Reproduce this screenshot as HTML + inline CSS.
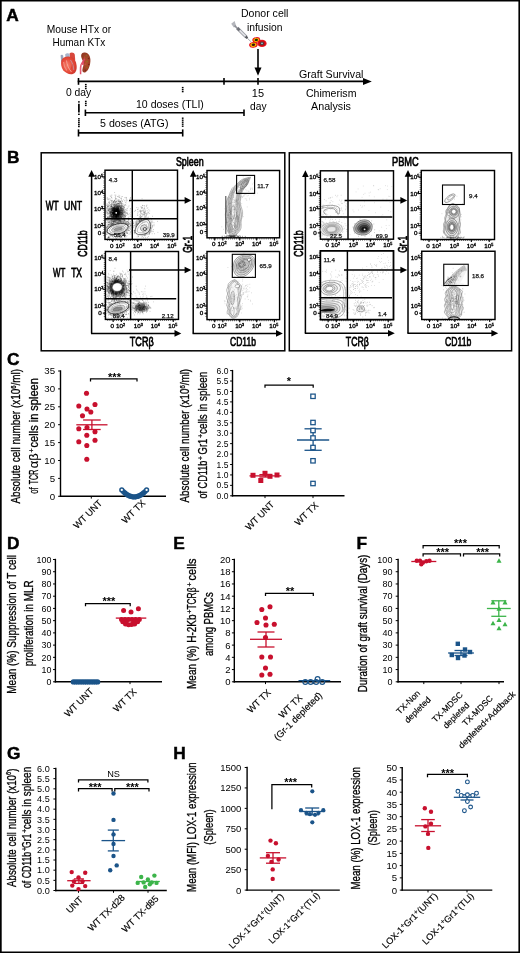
<!DOCTYPE html>
<html><head><meta charset="utf-8"><title>Figure</title>
<style>
html,body{margin:0;padding:0;background:#fff;}
body{width:520px;height:953px;overflow:hidden;font-family:"Liberation Sans",sans-serif;}
svg{display:block;will-change:transform;font-family:"Liberation Sans",sans-serif;}
</style></head><body>
<svg width="520" height="953" viewBox="0 0 520 953">
<rect x="0" y="0" width="520" height="953" fill="#fff"/>
<path d="M0 0H520V953H0Z M1.7 1.5V951.4H518.4V1.5Z" fill="#000" fill-rule="evenodd"/>
<text transform="translate(6.3,21.3) scale(1.0300,1)" font-size="16.8" text-anchor="start" font-weight="bold" stroke="#000" stroke-width="0.45">A</text>
<text transform="translate(6.9,162.9) scale(1.0300,1)" font-size="16.8" text-anchor="start" font-weight="bold" stroke="#000" stroke-width="0.45">B</text>
<text transform="translate(6.9,364.5) scale(1.0300,1)" font-size="16.8" text-anchor="start" font-weight="bold" stroke="#000" stroke-width="0.45">C</text>
<text transform="translate(7,548.8) scale(1.0300,1)" font-size="16.8" text-anchor="start" font-weight="bold" stroke="#000" stroke-width="0.45">D</text>
<text transform="translate(173.3,548.8) scale(1.0300,1)" font-size="16.8" text-anchor="start" font-weight="bold" stroke="#000" stroke-width="0.45">E</text>
<text transform="translate(356.4,548.8) scale(1.0300,1)" font-size="16.8" text-anchor="start" font-weight="bold" stroke="#000" stroke-width="0.45">F</text>
<text transform="translate(6.9,758.7) scale(1.0300,1)" font-size="16.8" text-anchor="start" font-weight="bold" stroke="#000" stroke-width="0.45">G</text>
<text transform="translate(173.3,758.7) scale(1.0300,1)" font-size="16.8" text-anchor="start" font-weight="bold" stroke="#000" stroke-width="0.45">H</text>
<text transform="translate(46.7,32.7) scale(0.9971,1)" font-size="10.3" text-anchor="start">Mouse HTx or</text>
<text transform="translate(52.5,46.2) scale(0.9726,1)" font-size="10.3" text-anchor="start">Human KTx</text>
<text transform="translate(241,17) scale(1.0248,1)" font-size="10.3" text-anchor="start">Donor cell</text>
<text transform="translate(246.9,31) scale(1.0015,1)" font-size="10.3" text-anchor="start">infusion</text>
<text transform="translate(299,77.5) scale(1.0332,1)" font-size="10.3" text-anchor="start">Graft Survival</text>
<text transform="translate(306,96.5) scale(1.0256,1)" font-size="10.3" text-anchor="start">Chimerism</text>
<text transform="translate(311,110) scale(1.0441,1)" font-size="10.3" text-anchor="start">Analysis</text>
<text transform="translate(251.8,96.5) scale(1.0673,1)" font-size="10.3" text-anchor="start">15</text>
<text transform="translate(250,110) scale(0.9951,1)" font-size="10.3" text-anchor="start">day</text>
<text transform="translate(65.9,96) scale(1.0021,1)" font-size="10.3" text-anchor="start">0 day</text>
<text transform="translate(136,107.5) scale(1.0234,1)" font-size="10.3" text-anchor="start">10 doses (TLI)</text>
<text transform="translate(100,127.2) scale(1.0348,1)" font-size="10.3" text-anchor="start">5 doses (ATG)</text>
<line x1="77.7" y1="81.4" x2="366" y2="81.4" stroke="#000" stroke-width="1.6"/>
<path d="M363.0 77.9L371.8 81.4L363.0 84.9Z" stroke="none" stroke-width="0" fill="#000"/>
<line x1="78.5" y1="78" x2="78.5" y2="84.8" stroke="#000" stroke-width="1.6"/>
<line x1="224" y1="78" x2="224" y2="84.8" stroke="#000" stroke-width="1.6"/>
<line x1="258" y1="78" x2="258" y2="84.8" stroke="#000" stroke-width="1.6"/>
<line x1="258" y1="49" x2="258" y2="70" stroke="#000" stroke-width="1.6"/>
<path d="M254.5 67.5L258 75.8L261.5 67.5Z" stroke="none" stroke-width="0" fill="#000"/>
<line x1="85.4" y1="112.8" x2="244" y2="112.8" stroke="#000" stroke-width="1.6"/>
<line x1="85.4" y1="109.6" x2="85.4" y2="116" stroke="#000" stroke-width="1.6"/>
<line x1="244" y1="109.6" x2="244" y2="116" stroke="#000" stroke-width="1.6"/>
<line x1="78.5" y1="132.9" x2="182.7" y2="132.9" stroke="#000" stroke-width="1.6"/>
<line x1="78.5" y1="129.4" x2="78.5" y2="136.5" stroke="#000" stroke-width="1.6"/>
<line x1="182.7" y1="129.4" x2="182.7" y2="136.5" stroke="#000" stroke-width="1.6"/>
<rect x="84.95" y="83.9" width="1.7" height="1.4" stroke="none" stroke-width="0" fill="#000"/>
<rect x="84.95" y="85.9" width="1.7" height="1.4" stroke="none" stroke-width="0" fill="#000"/>
<rect x="84.95" y="87.9" width="1.7" height="1.4" stroke="none" stroke-width="0" fill="#000"/>
<rect x="84.95" y="100.7" width="1.7" height="1.4" stroke="none" stroke-width="0" fill="#000"/>
<rect x="84.95" y="102.7" width="1.7" height="1.4" stroke="none" stroke-width="0" fill="#000"/>
<rect x="84.95" y="104.7" width="1.7" height="1.4" stroke="none" stroke-width="0" fill="#000"/>
<rect x="78.05" y="101.2" width="1.7" height="1.4" stroke="none" stroke-width="0" fill="#000"/>
<rect x="78.05" y="113.6" width="1.7" height="1.4" stroke="none" stroke-width="0" fill="#000"/>
<rect x="78.05" y="118.1" width="1.7" height="1.4" stroke="none" stroke-width="0" fill="#000"/>
<rect x="78.05" y="120.1" width="1.7" height="1.4" stroke="none" stroke-width="0" fill="#000"/>
<rect x="78.05" y="122" width="1.7" height="1.4" stroke="none" stroke-width="0" fill="#000"/>
<rect x="78.05" y="123.9" width="1.7" height="1.4" stroke="none" stroke-width="0" fill="#000"/>
<rect x="78.05" y="125.8" width="1.7" height="1.4" stroke="none" stroke-width="0" fill="#000"/>
<line x1="78.9" y1="103.8" x2="78.9" y2="112.4" stroke="#000" stroke-width="1.7"/>
<rect x="181.85" y="86.9" width="1.7" height="1.4" stroke="none" stroke-width="0" fill="#000"/>
<rect x="181.85" y="88.9" width="1.7" height="1.4" stroke="none" stroke-width="0" fill="#000"/>
<rect x="181.85" y="90.9" width="1.7" height="1.4" stroke="none" stroke-width="0" fill="#000"/>
<rect x="181.85" y="117.5" width="1.7" height="1.4" stroke="none" stroke-width="0" fill="#000"/>
<rect x="181.85" y="119.5" width="1.7" height="1.4" stroke="none" stroke-width="0" fill="#000"/>
<rect x="181.85" y="121.5" width="1.7" height="1.4" stroke="none" stroke-width="0" fill="#000"/>
<rect x="181.85" y="123.5" width="1.7" height="1.4" stroke="none" stroke-width="0" fill="#000"/>
<rect x="181.85" y="125.5" width="1.7" height="1.4" stroke="none" stroke-width="0" fill="#000"/>
<defs><radialGradient id="gh" cx="0.42" cy="0.5" r="0.65"><stop offset="0" stop-color="#f47c68"/><stop offset="0.6" stop-color="#e54a3a"/><stop offset="1" stop-color="#c8322a"/></radialGradient><radialGradient id="gk" cx="0.55" cy="0.5" r="0.65"><stop offset="0" stop-color="#b4502f"/><stop offset="1" stop-color="#8c3420"/></radialGradient><radialGradient id="gc" cx="0.5" cy="0.5" r="0.5"><stop offset="0" stop-color="#ffb020"/><stop offset="0.55" stop-color="#f26522"/><stop offset="1" stop-color="#e02020"/></radialGradient><filter id="b03" x="-20%" y="-20%" width="140%" height="140%"><feGaussianBlur stdDeviation="0.3"/></filter><filter id="b05" x="-20%" y="-20%" width="140%" height="140%"><feGaussianBlur stdDeviation="0.5"/></filter><filter id="b08" x="-30%" y="-30%" width="160%" height="160%"><feGaussianBlur stdDeviation="0.8"/></filter><filter id="b12" x="-30%" y="-30%" width="160%" height="160%"><feGaussianBlur stdDeviation="1.2"/></filter></defs>
<g filter="url(#b05)">
<path d="M60.6 55.5C61.2 54.2 62.8 54.4 63.2 55.8L63.6 61.5L61.2 62Z" stroke="none" stroke-width="0" fill="#9aa3bd"/>
<path d="M69.5 53.6C71 51.6 74.2 52.2 74.8 54.8L75.2 60L70 59.5Z" stroke="none" stroke-width="0" fill="#d8473c"/>
<path d="M65.2 54.2C66.6 52.6 69.4 53 69.8 55L69.2 61L65.6 61.5Z" stroke="none" stroke-width="0" fill="#a9b4cc"/>
<path d="M61.4 60.5C60.6 63.5 61.2 67.5 63.2 70.3C65.4 73.2 69.6 74.8 72.8 74.0C75.8 73.2 77 69.5 76.6 65.5C76.2 61.8 74.8 58.4 71.8 57.2C68.2 55.8 62.6 56.6 61.4 60.5Z" stroke="none" stroke-width="0" fill="url(#gh)"/>
<path d="M66.5 60.5C67 64.5 68.4 68.5 71.5 72" stroke="#f7b0a2" stroke-width="0.8" fill="none"/>
<path d="M63.6 62C63.8 65 64.8 68 66.8 70.5" stroke="#f28d7c" stroke-width="1.2" fill="none"/>
<path d="M70.5 60C72.2 62.5 73.6 66 73.8 70" stroke="#b0b6d0" stroke-width="0.6" fill="none"/>
<path d="M72.5 64.5L71 69.5" stroke="#c03a34" stroke-width="0.5" fill="none"/>
</g>
<g filter="url(#b05)">
<path d="M83.2 52.8C86.8 51.2 90.2 54.6 90.4 59.6C90.6 64.6 88.8 70.6 85.6 72.2C83.6 73.2 82 71.6 82.4 69.4C82.8 67 84 65 83.4 62.6C82.8 60 80.6 57.4 81.2 55C81.5 53.8 82.2 53.2 83.2 52.8Z" stroke="none" stroke-width="0" fill="url(#gk)"/>
<circle cx="86.5" cy="55.5" r="0.8" fill="#8a6a22"/>
<circle cx="88.6" cy="58.5" r="0.8" fill="#7a2a18"/>
<circle cx="87.2" cy="61.5" r="0.8" fill="#8f7326"/>
<circle cx="88.8" cy="64.5" r="0.8" fill="#7a2a18"/>
<circle cx="86.8" cy="67.5" r="0.8" fill="#8a6a22"/>
<circle cx="85.4" cy="70.2" r="0.8" fill="#7a2a18"/>
<circle cx="84.6" cy="57.2" r="0.8" fill="#b8502f"/>
<circle cx="85.2" cy="64.2" r="0.8" fill="#c0583a"/>
<path d="M84.6 58.5C83.2 61 82.6 63 82.9 65" stroke="#d9455c" stroke-width="1.6" fill="none"/>
<path d="M83.2 61.5C81.2 63.5 80.4 66.5 80.5 69.5L80.6 74.2" stroke="#e2506a" stroke-width="1.5" fill="none"/>
<path d="M82.0 64C81 66 80.9 69 81.2 72" stroke="#f5a0b0" stroke-width="0.6" fill="none"/>
</g>
<g filter="url(#b03)">
<path d="M231.2 23.8L234.6 21.0L236.4 26.6L233.8 27.6Z" stroke="none" stroke-width="0" fill="#b4b6bc"/>
<path d="M234.6 25.6L238.2 29.2" stroke="#8e9097" stroke-width="1.6" fill="none"/>
<path d="M237.2 28.0L246.4 37.2" stroke="#9b9da4" stroke-width="3.2" fill="none"/>
<path d="M237.6 28.4L246.0 36.8" stroke="#e4e5e9" stroke-width="1.5" fill="none"/>
<path d="M237.4 28.2L239.6 30.4" stroke="#6d6f76" stroke-width="2.6" fill="none"/>
<path d="M245.6 36.4L247.4 38.2" stroke="#55575d" stroke-width="2.2" fill="none"/>
<path d="M247.0 37.8L251.0 41.8" stroke="#7d7f86" stroke-width="0.7" fill="none"/>
</g>
<g filter="url(#b03)">
<ellipse cx="256.3" cy="39.9" rx="4" ry="2.8" transform="rotate(-8 256.3 39.9)" fill="#e8141c" stroke="none" stroke-width="0" opacity="1"/>
<ellipse cx="256.3" cy="39.9" rx="2.88" ry="1.96" transform="rotate(-8 256.3 39.9)" fill="#f5c400" stroke="none" stroke-width="0" opacity="1"/>
<ellipse cx="256.3" cy="39.9" rx="1.68" ry="1.18" transform="rotate(-8 256.3 39.9)" fill="#2a2408" stroke="none" stroke-width="0" opacity="1"/>
<ellipse cx="262" cy="43.4" rx="4.6" ry="3.7" transform="rotate(0 262 43.4)" fill="#e8141c" stroke="none" stroke-width="0" opacity="1"/>
<ellipse cx="262" cy="43.4" rx="3.31" ry="2.59" transform="rotate(0 262 43.4)" fill="#c40f18" stroke="none" stroke-width="0" opacity="1"/>
<ellipse cx="262" cy="43.4" rx="1.93" ry="1.55" transform="rotate(0 262 43.4)" fill="#3a3f44" stroke="none" stroke-width="0" opacity="1"/>
<ellipse cx="262" cy="43.4" rx="1" ry="0.8" transform="rotate(0 262 43.4)" fill="#9fb4bd" stroke="none" stroke-width="0" opacity="1"/>
<ellipse cx="253.4" cy="44.8" rx="4.3" ry="2.9" transform="rotate(-10 253.4 44.8)" fill="#e8141c" stroke="none" stroke-width="0" opacity="1"/>
<ellipse cx="253.4" cy="44.8" rx="3.1" ry="2.03" transform="rotate(-10 253.4 44.8)" fill="#f5c400" stroke="none" stroke-width="0" opacity="1"/>
<ellipse cx="253.4" cy="44.8" rx="1.81" ry="1.22" transform="rotate(-10 253.4 44.8)" fill="#3a1408" stroke="none" stroke-width="0" opacity="1"/>
</g>
<rect x="41.2" y="152.8" width="243.6" height="198" stroke="#000" stroke-width="1.5" fill="none"/>
<rect x="289.3" y="152.8" width="222.3" height="198" stroke="#000" stroke-width="1.5" fill="none"/>
<text transform="translate(175.9,165.9) scale(0.6531,1)" font-size="13.7" text-anchor="start" stroke="#000" stroke-width="0.75">Spleen</text>
<text transform="translate(392,165.6) scale(0.6767,1)" font-size="13.7" text-anchor="start" stroke="#000" stroke-width="0.75">PBMC</text>
<text transform="translate(45.8,209.5) scale(0.6057,1)" font-size="13.7" text-anchor="start" stroke="#000" stroke-width="0.75">WT</text>
<text transform="translate(64.1,209.5) scale(0.6395,1)" font-size="13.7" text-anchor="start" stroke="#000" stroke-width="0.75">UNT</text>
<text transform="translate(53,276.9) scale(0.5775,1)" font-size="13.7" text-anchor="start" stroke="#000" stroke-width="0.75">WT</text>
<text transform="translate(71.2,276.9) scale(0.6150,1)" font-size="13.7" text-anchor="start" stroke="#000" stroke-width="0.75">TX</text>
<text transform="translate(87.1,256.7) rotate(-90) scale(0.6298,1)" font-size="13.7" text-anchor="start" stroke="#000" stroke-width="0.75">CD11b</text>
<text transform="translate(191.5,252.7) rotate(-90) scale(0.6131,1)" font-size="13.7" text-anchor="start" stroke="#000" stroke-width="0.75">Gr-1</text>
<text transform="translate(129.8,345.9) scale(0.6668,1)" font-size="13.7" text-anchor="start" stroke="#000" stroke-width="0.75">TCRβ</text>
<text transform="translate(230,346.2) scale(0.6226,1)" font-size="13.7" text-anchor="start" stroke="#000" stroke-width="0.75">CD11b</text>
<text transform="translate(302.8,256.7) rotate(-90) scale(0.6298,1)" font-size="13.7" text-anchor="start" stroke="#000" stroke-width="0.75">CD11b</text>
<text transform="translate(406.5,252.7) rotate(-90) scale(0.6131,1)" font-size="13.7" text-anchor="start" stroke="#000" stroke-width="0.75">Gr-1</text>
<text transform="translate(345.8,346.2) scale(0.6418,1)" font-size="13.7" text-anchor="start" stroke="#000" stroke-width="0.75">TCRβ</text>
<text transform="translate(445,345.8) scale(0.6322,1)" font-size="13.7" text-anchor="start" stroke="#000" stroke-width="0.75">CD11b</text>
<line x1="91.6" y1="333.4" x2="91.6" y2="175.8" stroke="#000" stroke-width="1.5"/>
<path d="M88.3 176.8L91.6 170L94.9 176.8Z" stroke="none" stroke-width="0" fill="#000"/>
<line x1="91" y1="333.4" x2="175.5" y2="333.4" stroke="#000" stroke-width="1.5"/>
<path d="M174.5 330.1L181.3 333.4L174.5 336.7Z" stroke="none" stroke-width="0" fill="#000"/>
<line x1="193.2" y1="333.4" x2="193.2" y2="175.8" stroke="#000" stroke-width="1.5"/>
<path d="M189.9 176.8L193.2 170L196.5 176.8Z" stroke="none" stroke-width="0" fill="#000"/>
<line x1="192.6" y1="333.4" x2="277" y2="333.4" stroke="#000" stroke-width="1.5"/>
<path d="M276 330.1L282.8 333.4L276 336.7Z" stroke="none" stroke-width="0" fill="#000"/>
<line x1="305.4" y1="333.2" x2="305.4" y2="176" stroke="#000" stroke-width="1.5"/>
<path d="M302.1 177L305.4 170.2L308.7 177Z" stroke="none" stroke-width="0" fill="#000"/>
<line x1="304.8" y1="333.2" x2="389" y2="333.2" stroke="#000" stroke-width="1.5"/>
<path d="M388 329.9L394.8 333.2L388 336.5Z" stroke="none" stroke-width="0" fill="#000"/>
<line x1="408" y1="333.2" x2="408" y2="175.8" stroke="#000" stroke-width="1.5"/>
<path d="M404.7 176.8L408 170L411.3 176.8Z" stroke="none" stroke-width="0" fill="#000"/>
<line x1="407.4" y1="333.2" x2="492.4" y2="333.2" stroke="#000" stroke-width="1.5"/>
<path d="M491.4 329.9L498.2 333.2L491.4 336.5Z" stroke="none" stroke-width="0" fill="#000"/>
<rect x="105" y="170.2" width="72.5" height="69.2" stroke="#000" stroke-width="1.45" fill="#fff"/>
<ellipse cx="116.4" cy="213" rx="7" ry="8" transform="rotate(0 116.4 213)" fill="#6a6a6a" stroke="none" stroke-width="0" opacity="0.5" filter="url(#b12)"/>
<path d="M115.22 215.47h.01M115.36 210.67h.01M112.12 211.26h.01M121.51 214.96h.01M121.17 213.94h.01M118.22 213.57h.01M108.74 217.46h.01M118.73 215.39h.01M108.62 202.39h.01M112.31 209.78h.01M117.81 212.23h.01M118.8 208.78h.01M117.82 214.79h.01M113.36 222.46h.01M118.96 219.44h.01M113.55 208.21h.01M114.82 211.88h.01M119.31 213.94h.01M114.34 206.95h.01M114.01 219.58h.01M112.68 213.92h.01M118.36 203.86h.01M116.62 220.08h.01M107.13 210.63h.01M115.91 207.76h.01M118.69 212.14h.01M109.66 217.3h.01M119.48 217.99h.01M123.03 214.6h.01M116.95 204.96h.01M119.23 208.95h.01M114.32 205.16h.01M111.95 209.42h.01M122.33 200.72h.01M109.69 213.89h.01M123.04 215.86h.01M107.66 197.89h.01M118.04 208.23h.01M111.25 218.17h.01M121.47 213.41h.01M117.53 215.02h.01M123.73 216.09h.01M118.79 215.68h.01M109.19 219.93h.01M120.79 215.57h.01M107.32 208.82h.01M120.27 201.99h.01M115.55 218.41h.01M110.37 221.84h.01M118.94 211.63h.01M117.89 216.27h.01M116.95 219.14h.01M113.36 210.09h.01M121.19 212.66h.01M112.35 217.99h.01M123.14 209.92h.01M110.05 211.72h.01M115.71 210.77h.01M122.86 206.54h.01M122.2 205.14h.01M112.78 216.16h.01M121.59 217.48h.01M117.99 213.33h.01M117.1 215.84h.01M115.59 214.11h.01M119.03 212.5h.01M119.91 215.78h.01M125.65 214.38h.01M114.43 210.34h.01M116.34 217.86h.01M114.85 214.74h.01M124.85 197.62h.01M111.23 213.91h.01M118.23 213.88h.01M114.42 216.3h.01M117.7 209.47h.01M127.58 214.56h.01M113.85 211.92h.01M115.36 212.14h.01M121.04 205.72h.01M116.09 218.03h.01M120.34 221.15h.01M108.57 210.45h.01M114.83 216.12h.01M121.42 196.94h.01M121.41 204.1h.01M119.54 203.85h.01M117.21 219.43h.01M115.71 213.61h.01M120.07 213.32h.01M115.99 221.39h.01M121.22 210.8h.01M129.03 205.85h.01M120.61 210.96h.01M117.01 216.59h.01M117.42 216.2h.01M109.37 203.74h.01M119.23 206.91h.01M111.68 203.97h.01M122.23 216.83h.01M123.18 207.06h.01M116.4 205.89h.01M119.92 221.72h.01M112.3 221.55h.01M120.94 211.47h.01M107.33 220.66h.01M115.96 209h.01M118.24 214.88h.01M123.29 206.58h.01M121.63 221.13h.01M123.08 211.45h.01M112.98 218.41h.01M116.93 213.22h.01M122.95 210.97h.01M105.84 210.25h.01M107.87 217.25h.01M117.86 208.95h.01M116.36 217.33h.01M116.76 220.19h.01M116.12 218.53h.01M123.26 221.84h.01M113.31 217.6h.01M107.77 206.22h.01M107.37 218.7h.01M110.73 212.43h.01M115.52 212.33h.01M113.68 213.86h.01M124.64 212.76h.01M118.84 218.3h.01M115.49 205.19h.01M113.85 218.73h.01M108.83 209.03h.01M121.03 217.1h.01M116.44 217.17h.01M117.16 205.66h.01M109.21 208.79h.01M120.64 209.22h.01M112.25 208.03h.01M109.35 211.82h.01M110.97 214.61h.01M113.45 201.24h.01M119.73 210.9h.01M106.14 207.42h.01M117.74 209.84h.01M119.99 216.84h.01M119.46 214.39h.01M122.54 216.33h.01M118.48 200.41h.01M120.52 220.09h.01M115.03 209.78h.01M125.33 202.3h.01M118.56 226.56h.01M112.13 216.5h.01M125.08 211.8h.01M118.98 217.73h.01M112.23 211.98h.01M117.75 217.29h.01M116.24 211.37h.01M111.73 210.42h.01M120.5 213.09h.01M112.48 207.62h.01M128.67 219.11h.01M119.33 197.46h.01M119.26 215.29h.01M124.15 214.98h.01M116.09 215.53h.01M107.46 218.49h.01M117.89 208.43h.01M122.5 222.99h.01M109.95 208.64h.01M117.74 213.56h.01M114.57 206.85h.01M126.15 218.52h.01M110.91 204.7h.01M124.23 218.24h.01M124.78 217.2h.01M112.39 214.01h.01M106.46 208.16h.01M116.13 215.53h.01M113.05 211.78h.01M118.51 214.68h.01M119.33 213.71h.01M114.91 217.08h.01M116.63 207.71h.01M113.52 212.5h.01M115.9 213.41h.01M116.4 213.52h.01M115.78 205.2h.01M118.34 218.61h.01M118.4 211.4h.01M118.45 206.9h.01M107.68 212.85h.01M112.12 216.79h.01M111.41 197.25h.01M111.62 221.65h.01M114.64 204.56h.01M112.89 215.52h.01M118.69 213.53h.01M123.23 216.6h.01M116.3 215.96h.01M124.01 218.13h.01M121.11 206.22h.01M115.72 216.73h.01M115.04 218.7h.01M119.14 217.77h.01M115.42 227.27h.01M122.1 211.25h.01M116.82 227.55h.01M114.82 217.57h.01M120.91 212.54h.01M111.03 213.59h.01M118.05 219.05h.01M120 212.64h.01M120.33 215.63h.01M117.35 212.82h.01M115.28 216.48h.01M111.55 208.85h.01M116.42 204.01h.01M114.39 200.85h.01M113.26 215.8h.01M119.01 212.18h.01M115.33 204.28h.01M124.81 215.49h.01M121.43 207.38h.01M115.55 201.95h.01M119.99 217.92h.01M107.67 212.2h.01M119.3 202.28h.01M108 206.32h.01M113.51 204.36h.01M116.55 213.95h.01M119.32 216.57h.01M123.31 219.25h.01M110.37 209.57h.01M111.52 206.26h.01M116.03 212.53h.01M118.66 203.3h.01M110.71 212.37h.01M115.48 210.69h.01M116.11 208.09h.01M119.63 214.55h.01M116 208.6h.01M115.6 196.71h.01M111.89 212.72h.01M109.48 213.66h.01M117.08 204.51h.01M115.25 210.68h.01M118.52 216.05h.01M116.23 207.56h.01M115.74 212.12h.01M119.78 214.21h.01M113.08 204.64h.01M114.68 208.21h.01M111.29 211.83h.01M114.14 213.11h.01M118.81 210.1h.01M127.09 210.64h.01M121.47 213.21h.01M121.53 198.72h.01M112.94 213.93h.01M119.17 226.05h.01M117.88 219.92h.01M119.93 217.99h.01M118.75 211.59h.01M118.74 206.25h.01M121.83 206.6h.01M117.55 224.8h.01M115.37 212.61h.01M121.75 212.65h.01M112.68 214h.01M119.08 216.62h.01M112.85 222.66h.01M124.07 212.61h.01M117.64 210.01h.01M122.9 208.41h.01M119.5 209.72h.01M113.21 216.67h.01M122.54 212.44h.01M113.28 217.21h.01M116.17 214.3h.01M123.41 219.06h.01M114.01 225.74h.01M116.42 217.06h.01M113.42 212.24h.01M108.35 222.86h.01M122.68 205.45h.01M109.48 203.1h.01M121.81 209.83h.01M116.12 210.69h.01M115.84 206.19h.01M116.51 204.16h.01M116.07 214.29h.01M118.55 211.16h.01M112.24 213.43h.01M114.17 221.58h.01M119.93 211.83h.01M114.23 208.42h.01M112.09 210.45h.01M117.76 215.49h.01M119.02 224.67h.01M113.16 212.58h.01M129.26 201.67h.01M114 213.48h.01M117.11 214.87h.01M115.3 214.62h.01M116.64 216.97h.01M107.69 207.37h.01M116.39 206.52h.01M111.59 216.14h.01M113.41 216.18h.01M119.83 214.28h.01M118.74 211.89h.01M109.92 212.33h.01M118.49 209.43h.01M115.94 216.85h.01M112.36 216.21h.01M124.97 209.28h.01M117.07 211.63h.01M123.49 214.33h.01M120.53 208.5h.01M116.33 212.44h.01M108.23 220.86h.01M120.54 202.35h.01M119.82 211.74h.01M118.46 214.63h.01M109.5 211.27h.01M123.27 209.17h.01M111.69 204.61h.01M110.78 214.45h.01M124.19 214.99h.01M117.53 225.46h.01M114.01 208.59h.01M118.83 215.68h.01M111.73 205.71h.01M117.74 213.93h.01M110.39 211.33h.01M113.9 215.17h.01M115.86 212h.01M114.77 218.61h.01M122.8 210.37h.01M120.29 208.11h.01M116.73 216.85h.01M123.37 210.28h.01M116.06 213.64h.01M109.51 212.59h.01M113.29 214.65h.01M111.2 201.03h.01M116.58 214.01h.01M113.87 217.66h.01M115.14 208.99h.01M118.6 203.4h.01M113.28 212.38h.01M120.3 211.56h.01M117.82 208.7h.01M117.79 222.15h.01M113.24 226.22h.01M113.44 212.6h.01M117.2 218.44h.01M110.71 200.32h.01M119.19 217.11h.01M119.27 227.76h.01M117.34 213.97h.01M120.67 214.64h.01M124.05 205.32h.01M114.67 192.52h.01M120.14 210.34h.01M120.65 224.99h.01M116.37 211.02h.01M114.1 207.64h.01M113.5 216.21h.01M116.57 212.88h.01M115.6 217.8h.01M118.67 211.68h.01M119.46 211.62h.01M111.1 220.94h.01M118.54 206.95h.01M121.36 214.5h.01M109.2 221.84h.01M117.93 217.67h.01M117.31 211.63h.01M109.28 218.14h.01M116.54 210.84h.01M118.01 212.95h.01M119.51 210.35h.01M116.23 200.09h.01M114.45 216.42h.01M122.55 210.39h.01M115.84 221.68h.01M114.9 216.76h.01M124.12 212.73h.01M122.04 208.38h.01M117.36 212.05h.01M116.93 219.05h.01M127.39 208.64h.01M113.75 215.38h.01M111.55 215.38h.01M119.03 210.89h.01M118.84 203.51h.01M119.9 203.54h.01M113.2 209.27h.01M114.55 217.48h.01M116.78 210.19h.01M118.9 221.67h.01M116.43 214.62h.01M122.1 214.05h.01M110.49 226.94h.01M126.56 200.99h.01M116.22 214.92h.01M120.84 216.38h.01M115.15 206.39h.01M116.87 218.49h.01M111.39 206.54h.01M116.29 201.26h.01M115.2 209.97h.01M118.47 208.43h.01M112.34 210.21h.01M116.17 208.64h.01M116.46 216.85h.01M121.85 222.39h.01M112.8 210.07h.01M113.07 212.31h.01M118.8 204.62h.01M118.53 212.35h.01M108 214.19h.01M121.89 201.67h.01M120.11 213.71h.01M118.58 215.06h.01M122.4 211.2h.01M120.42 210.12h.01M119.75 207.78h.01M115.9 222.54h.01M118.45 211.58h.01M111.13 207.92h.01M117.29 217.95h.01M118.36 215.54h.01M116.21 220.34h.01M114.6 209.31h.01M120.49 212.87h.01M115.12 209.16h.01M115.22 216.12h.01M118.03 205.48h.01M118.36 213.54h.01M111.8 216.98h.01M115.11 210.55h.01M120.06 220.16h.01M113.23 215.04h.01M112.37 225.92h.01M114.13 219.43h.01M113.42 217.21h.01M126.61 197.76h.01M114.4 215.4h.01M115.97 208.62h.01M126.3 212.96h.01M108.84 217.45h.01M108.48 219.17h.01M113.74 213.34h.01M122.2 213.18h.01M110 202.66h.01M121.84 216.79h.01M112.65 217.49h.01M118.68 216.26h.01M106.01 210.75h.01M120.54 216.75h.01M120.45 198.25h.01M117.18 215.35h.01M128.14 206.97h.01M114.89 212.71h.01M120.48 209.93h.01M121.68 207.93h.01M117.63 209.44h.01M117.13 208.49h.01M109.05 218.84h.01M117.8 209.26h.01M117.32 218.24h.01M111.9 211.86h.01M118.88 215.55h.01M114.86 200.28h.01M122.12 214.4h.01M116.46 210.88h.01M117.61 210.03h.01M111.69 208.21h.01M113.65 208.95h.01M111.07 216.19h.01M110.37 216.33h.01M111.73 214.54h.01M122.72 213.68h.01M113.04 212.78h.01M117.08 202.44h.01M113.6 213.45h.01M114.24 212.96h.01M119.78 216.95h.01M120.57 215.91h.01M115.08 212.39h.01M115.15 210.68h.01M115.57 202.5h.01M114.87 212.36h.01M111.92 212.36h.01M118.77 211.55h.01M125.95 197.38h.01M115.45 201.91h.01M120.91 227.89h.01M118.79 210.75h.01M118.94 199.49h.01M120.32 214.66h.01M116.51 209.09h.01M119.34 209.68h.01M117.43 209.54h.01M106.06 212.32h.01M117.33 216.88h.01M112.37 212.31h.01M119.24 213.34h.01M122.12 224.05h.01M112.22 201.36h.01M120.34 221.37h.01M120.64 217.22h.01M113.55 208.36h.01M120.49 207.21h.01M108.06 206.71h.01M127.86 223.66h.01M113.24 208.27h.01M117.46 208.15h.01M122.43 212.05h.01M111.4 220.09h.01M113.72 213.78h.01M116.34 210.68h.01M117.89 208.48h.01M107.92 199.69h.01M110.57 208.1h.01M116.29 212.82h.01M118.96 213.2h.01M112.75 208.39h.01M106.65 211.52h.01M118.63 215.57h.01M115.84 211.49h.01M120.71 212.59h.01M119.79 215.88h.01M117.38 220.08h.01M113.77 210.42h.01M112.68 207.88h.01M123.56 222.7h.01M116.51 215.8h.01M121.81 217.18h.01M121.94 205.17h.01M113.46 215.13h.01M123 213.1h.01M112.45 210.44h.01M113.36 207.52h.01M123.31 208.87h.01M116.49 225.04h.01M121.85 214.45h.01M113.59 214.88h.01M123.86 216.11h.01M122.2 213.07h.01M118.77 211.33h.01M118.36 220.04h.01M109.82 212.14h.01M117.51 209.19h.01M114.98 217.06h.01M125.61 216.15h.01M117.9 203.5h.01M125.27 212.95h.01M116.24 206.01h.01M116.14 206.14h.01M116.73 215.2h.01M116.54 214.12h.01M112.48 220.79h.01M113.4 201.95h.01M115.54 208.07h.01M111.76 210.44h.01M117.74 205.65h.01M115.77 220.78h.01M119.54 211.62h.01M116.99 211.8h.01M116.18 216.75h.01M115.97 198.55h.01M116.3 207.34h.01M119.4 208.96h.01M117.08 225.13h.01M111.58 205.98h.01M109.91 198.61h.01M107.76 214.61h.01M113.46 201.66h.01M109.58 216.08h.01M112.83 210.37h.01M117.92 220.37h.01M125.33 218.49h.01M117.06 213.57h.01M124.69 220.79h.01M114.97 215.15h.01M117.72 212.8h.01M114.1 204.81h.01M113.94 203.54h.01M122.03 215.61h.01M110.85 220.6h.01M120.5 201.43h.01M124.87 217.2h.01M125.9 205.36h.01M118.84 214.95h.01M117.33 213.49h.01M121.25 203.83h.01M110.69 204.41h.01M113.83 208.99h.01M118.09 214.05h.01M116.54 208.58h.01M114.37 218.02h.01M119.91 213.09h.01M114.92 221.51h.01M113.67 216.26h.01M121.71 210.96h.01M120.2 206.03h.01M121.06 213.66h.01M109.1 216.38h.01M112.3 219.93h.01M113.28 211.54h.01M117.7 210.57h.01M117.59 209.29h.01M119.49 212.53h.01M117.37 196.54h.01M121.74 212.68h.01M108.2 213.05h.01M118.55 218.71h.01M111.42 221.47h.01M115.67 226.39h.01M115.73 216.44h.01M114.71 206.03h.01M121.44 217.76h.01M123.48 217.47h.01M113.76 202.86h.01M113.41 208.58h.01M112.65 215.88h.01M117.91 210.94h.01M117.19 211.66h.01M117.38 216.86h.01M120.81 208.52h.01M109.47 220.78h.01M116.93 218.91h.01M108.84 210.59h.01M116.52 204.14h.01M114.03 216.7h.01M121.36 221.75h.01M112.43 204.37h.01M118.79 217.95h.01M117.29 204.95h.01M120 217.1h.01M118.95 209.67h.01M117.8 217.09h.01M113.83 201.81h.01M117.91 215.29h.01M116.46 217.66h.01M113.7 212.02h.01M115 215.81h.01M123.74 211.04h.01M125.85 221.37h.01M120.04 215.9h.01M124.55 211.45h.01M115.89 206.34h.01M118.58 220.3h.01M118.85 214.95h.01M115.48 213.48h.01M109.84 218.58h.01M114.51 206.09h.01M112.94 207.72h.01M120.33 218.64h.01M110.15 217.87h.01M120.49 209.14h.01M109.56 208.18h.01M113.48 214.49h.01M114.75 200.74h.01M117.47 203.6h.01M120.57 205.5h.01M113.21 207.55h.01M113.9 220.03h.01M120.32 215.99h.01M117.87 203.52h.01M114 209.3h.01M111.9 215.45h.01M112.99 208.38h.01M111.6 200.57h.01M119.14 220.22h.01M117.2 206.84h.01M121.99 214.22h.01M120.66 221.07h.01M121.58 209.94h.01M121.24 217h.01M109.33 210.15h.01M109.85 211.87h.01M119.06 206.31h.01M106.94 220.03h.01M118.13 221.03h.01M110.31 218.65h.01M125.94 224.14h.01M115.43 214.06h.01M115.69 218.29h.01M121.17 213h.01M110.15 216.8h.01M114.24 216.15h.01M117.61 221.92h.01M121.63 209.88h.01M118.01 222.73h.01M113.93 215.01h.01M121.88 219.79h.01M118.79 204.84h.01M110.6 213.94h.01M118.18 227.28h.01M112.44 219.1h.01M119.94 202.81h.01M112.64 213.46h.01M114.13 211.6h.01M118.56 207.81h.01M118.55 208.81h.01M113.89 215.61h.01M113.76 214.17h.01M123.76 212.66h.01M115.73 216.76h.01M114.72 218.78h.01M110.5 216.09h.01M114.04 207.87h.01M124.54 207.57h.01M124.48 216.32h.01M123.08 206.83h.01M121.92 220.95h.01M115.86 211.75h.01M127.7 213.53h.01M114.46 208.85h.01M118.45 214.42h.01M117.22 222.48h.01M114.89 215.24h.01M123.11 206.68h.01M121.18 223.13h.01M110.17 206.13h.01M111.62 201.79h.01M118.48 201.73h.01M118.69 220.93h.01M108.97 210.66h.01M107.58 217.02h.01M113.01 210.96h.01M116.65 215.66h.01M114.8 212.59h.01M113.89 213.17h.01M111.01 212.87h.01M107.51 209.66h.01M125.21 212.96h.01M110.6 213.99h.01M111.93 202.92h.01M113.01 216.77h.01M118.17 211.94h.01M112.14 206.24h.01M122.61 213.92h.01M112.02 200.26h.01M110.1 226.86h.01M111.11 212.05h.01M117.37 211.59h.01M115.12 204.54h.01M111.57 222.29h.01M112.92 217.4h.01M108.61 210.91h.01M117.6 218.51h.01M111.24 215.95h.01M118.18 208.22h.01M118.59 207.29h.01M112.74 212.39h.01M111.8 204.02h.01M114.44 216.93h.01M114.54 219.84h.01M111.07 204.89h.01M123.54 214.81h.01M120.75 207.7h.01M120.1 214.01h.01M119.38 212.65h.01M121.95 208.74h.01M111.97 203.93h.01M121.74 208.22h.01M111.6 207.05h.01M114.35 205.13h.01M115.06 208.86h.01M113.86 206.93h.01M116.57 209.83h.01M116.93 213.95h.01M117.96 199.8h.01M113.94 207.88h.01M119.96 203.35h.01M113.11 210.8h.01M114.85 218.25h.01M114.36 218.1h.01M109.66 201.99h.01M122.01 215.03h.01M118.64 213.21h.01M118.63 205.45h.01M120.76 209.41h.01M120.93 213.01h.01M107.32 205.03h.01M121.59 211.71h.01M114.58 213.91h.01M114.44 209.34h.01M116.87 213.34h.01M123.38 212.76h.01M125.05 222.96h.01M124.3 218.66h.01M117 213.3h.01M115.74 208.26h.01M116.09 208.78h.01M123.94 215.6h.01M114.35 201.39h.01M116.15 210.09h.01M111.41 205.91h.01M106.05 215.8h.01M116.1 227.47h.01M116.26 211.64h.01M123.04 213.28h.01M117.17 210.34h.01M113.62 221.2h.01M121 222.45h.01M114.79 212.67h.01M112.35 218.11h.01M109.99 215.77h.01M121.44 220.68h.01M112.08 218.82h.01M113.12 208.11h.01M110.31 219.2h.01M123.98 209.05h.01M112.91 210.53h.01M127.93 218.33h.01M113.9 202.09h.01M113.31 219.39h.01M124.99 210.95h.01M113.22 209.54h.01M107.73 217.77h.01M111.41 218.67h.01M108.55 205.13h.01M117.73 208.07h.01M119.99 212.55h.01M111 216.11h.01M120.27 201.4h.01M124.8 215.38h.01M119.9 201.71h.01M113.09 210.47h.01M121.35 204.03h.01M112.33 200.73h.01M115.29 214.51h.01M108.64 209.07h.01M118.75 221.7h.01M119.45 210.74h.01M110.98 207.07h.01M113.34 213.35h.01M116.17 222.17h.01M117.72 206.28h.01M123.5 218h.01M116.86 208.32h.01M107.79 206.57h.01M120.59 207.84h.01M110.33 213.63h.01M117.52 216.02h.01M119.42 220.67h.01M112.54 218.18h.01M111.86 216.53h.01M117.22 213.91h.01M120.85 212.4h.01M121.52 217.58h.01M117.02 209.21h.01M112.93 209.44h.01M115.47 212.36h.01M130.11 216.2h.01M119.94 207.51h.01M113.13 210.65h.01M117.28 206.49h.01M123.81 209.23h.01M121.36 198.95h.01M116.37 214.11h.01M117.28 215.99h.01M117.69 213.44h.01M107.69 208.36h.01M117.81 211.37h.01M112.62 209.13h.01M124.89 222.54h.01M116.13 219.97h.01M109.1 201.28h.01M114.18 207.43h.01M113.83 213.59h.01M130.31 208.67h.01M116.63 214.1h.01M116.24 217.9h.01M124.57 205.29h.01M117.14 210.96h.01M118.04 203.62h.01M108.31 199.06h.01M118.82 213.61h.01M116.74 198.77h.01M114.68 208.12h.01M109.9 207.19h.01M119.61 215.66h.01M116.3 215.48h.01M113.62 212.91h.01M116.59 215.72h.01M116.08 211.67h.01M115.78 208.76h.01M126.67 215.48h.01M118.37 225.79h.01M122.85 203.47h.01M119.6 217.36h.01M125.07 220.13h.01M119.94 205.67h.01M112.39 214.06h.01M118.72 206.58h.01M114.63 210.18h.01M116.68 214.45h.01M115.08 205.33h.01M122.12 221.76h.01M115.91 218.44h.01M118.44 216.33h.01M118.61 208.07h.01M119.04 218.36h.01M112.28 223.9h.01M126.01 223.07h.01M125.55 216.81h.01M114.84 209.02h.01M112.66 213.17h.01M116.25 216.39h.01M107.11 225.91h.01M126.87 212.34h.01M119.51 215.26h.01M117.66 211.29h.01M115.84 207.72h.01M117.22 212.36h.01M117.87 207.54h.01M116.58 212.78h.01M119.18 206.33h.01M118.33 218.2h.01M119.15 210.36h.01M114.14 211.13h.01M119.75 221.51h.01M115.67 208.77h.01M118.13 213.69h.01M112.22 208.22h.01M115.93 216.4h.01M110.91 206.59h.01M118.7 205.4h.01M116.9 214.54h.01M115.89 206.59h.01M116.12 210.57h.01M117.95 207.63h.01M121.42 202.78h.01M115.59 212.54h.01M120.82 208.97h.01M118.91 209.21h.01M119.8 222.58h.01M114.56 215.07h.01M112.13 218.14h.01M121.97 212.7h.01M111.18 214.83h.01M121.69 218.82h.01M120.14 201.88h.01M113.27 220.75h.01M110.76 219.06h.01M125.06 216.92h.01M121.55 210.57h.01M110.76 211.9h.01M115.49 212.22h.01M119.61 211.66h.01M117.28 214.96h.01M116.38 223.19h.01M118.44 212.99h.01M115.44 208.87h.01M122.58 213.37h.01M111.44 209.24h.01M115.77 209.92h.01M121.39 205.76h.01M118.66 213.33h.01M110.98 212.78h.01M115.97 215.41h.01M114.33 214.26h.01M108.74 206.21h.01M120.01 218.54h.01M116.34 209.03h.01M121.38 200.37h.01M112.72 216.4h.01M119.4 206.51h.01M107.72 220.92h.01M117.1 207.3h.01M116.65 217.73h.01M119.8 200.43h.01M119.95 202.18h.01M121.64 214.81h.01M126.76 208.96h.01M116.42 218.57h.01M113.46 208.41h.01M114.69 212.08h.01M111.42 215.31h.01M118.9 212.91h.01M124.22 210.6h.01M122.41 209.33h.01M119.88 201.28h.01M117.31 211.48h.01M114.12 208.96h.01M114.8 208.32h.01M106.31 209.04h.01M113.87 209.46h.01M111.53 211.71h.01M120.01 211.05h.01M114.13 220.37h.01M120.89 217.85h.01M121.72 210.6h.01M115.8 218.96h.01M113.85 211.81h.01M118.14 214.66h.01M115.13 218.2h.01M115.58 216.71h.01M121.32 216.32h.01M119.77 205.77h.01M110.37 208.91h.01M118.59 221.2h.01M110.78 214.28h.01M112.47 208.25h.01M115.13 216.51h.01M117.38 219.34h.01M111.87 217.66h.01M120.68 212.9h.01M118.6 209.23h.01M111.39 210.15h.01M113.44 229.26h.01M114.17 222.07h.01M117.33 214.31h.01M119.82 207.98h.01M120.62 214.68h.01M109.43 215.99h.01M118.94 215.13h.01M123.69 210.1h.01M118.75 216.84h.01M112.26 219.46h.01M109.73 204.96h.01M118.8 206.18h.01M115.87 202.96h.01M116.72 205.93h.01M117.97 203.61h.01M118.46 210.95h.01M116.69 212.11h.01M117 204.84h.01M112.1 209.86h.01M118.36 200.99h.01M112.89 208.96h.01M111.54 214.4h.01M115.75 207.74h.01M111.87 217.18h.01M113.37 215.89h.01M118.47 201.52h.01M111.42 212.52h.01M117.97 217.02h.01M120.09 218.5h.01M114.68 211.28h.01M119.97 210.03h.01M121.26 203.28h.01M119.41 211.5h.01M107.35 218.18h.01M117.83 212.62h.01M111.45 209.8h.01M123.35 207.7h.01M110.88 211.73h.01M114.59 207.21h.01M112.53 218.58h.01M109.76 223.85h.01M113.9 206.16h.01M120.02 215.77h.01M111.6 216.84h.01M107.94 207.14h.01M121.58 211.02h.01M110.41 215.48h.01M120.62 212.37h.01M108.09 210.49h.01M118.32 216.96h.01M124.92 211.03h.01M114.18 212.28h.01M121.95 207.04h.01M122.4 196.56h.01M120.07 208.58h.01M118.51 216.49h.01M110.96 212h.01M117.51 215.91h.01M112.12 206.75h.01M107.55 227.23h.01M115.52 211.21h.01M109.52 217.89h.01M113.94 220.83h.01M120.32 212.62h.01M119.74 206.05h.01M114.9 209.16h.01M110.56 212.6h.01M115.73 220.83h.01M112.18 209.81h.01M118.34 214.84h.01M116.53 209.75h.01M118.67 214.59h.01M107.92 210.98h.01M110.08 205.65h.01M117.07 212.85h.01M116.92 207.42h.01M115.47 207.21h.01M118.16 216.49h.01M124.47 219.84h.01M112.7 209.85h.01M112.08 214.27h.01M125.51 216.61h.01M106.28 205.21h.01M110.45 215.49h.01M116.41 214.24h.01M124.6 207.7h.01M112.5 223.9h.01M117.97 207.98h.01M107.07 203.66h.01M116.6 218.26h.01M115.76 208.48h.01M112.99 223.53h.01M108.28 213.51h.01M116.52 216.08h.01M114.54 215.4h.01M120.15 211.65h.01M114.3 211.42h.01M111.96 211.3h.01M115.01 213.72h.01M122.55 220.08h.01M114.35 216h.01M117.76 216.92h.01M116.5 214.04h.01M114.24 207.95h.01M120.41 220.03h.01M119.45 215.03h.01M117.62 209.89h.01M108.2 216.35h.01M117.32 209.29h.01M111.96 219.91h.01M108.1 222.72h.01M119.34 226.25h.01M113.1 212.37h.01M114.07 213.4h.01M115.43 208.16h.01M121.34 207.95h.01M114.06 215.72h.01M113.93 209.98h.01M118.04 210.37h.01M110.67 211.91h.01M115.39 222.39h.01M111.35 218.12h.01M112.78 210.44h.01M114.9 214.07h.01M120.37 222.65h.01M113.47 220.21h.01M120.98 217.21h.01M112.91 217.72h.01M115.91 214.55h.01M115.16 216.35h.01M121.53 219.06h.01M115.46 218.27h.01M123.08 207.08h.01M123.17 204.76h.01M118.9 215.95h.01M123.22 214.12h.01M114.19 207.88h.01M110.64 216.94h.01M115.31 208.34h.01M118.85 208.06h.01M114.39 209.84h.01M124.01 220.98h.01M115.67 203.39h.01M117.67 212.92h.01M118 215.78h.01M114.93 217.87h.01M120.25 213.72h.01M114.53 209.71h.01M119.59 206.12h.01M115.67 208.15h.01M109.99 216h.01M116.28 212.71h.01M120.42 203.83h.01M116.09 214.17h.01M120.23 206.21h.01M119.69 213.77h.01M122.64 219.1h.01M118.93 224.96h.01M116.39 210.04h.01M114.83 207.05h.01M116.27 201.61h.01M116.01 214.97h.01M120.96 210.49h.01M122.79 208.72h.01M115.78 201.61h.01M112.9 207.91h.01M123.11 215.5h.01M111.44 215.52h.01M118.56 211.18h.01M116.5 210.77h.01M113.96 202.46h.01M115.99 219.77h.01M122.83 210.92h.01M113.05 211.3h.01M120.43 214.49h.01M113.78 214.55h.01M115.47 215.42h.01M114.57 204.17h.01M116.66 216.8h.01M111.43 211.89h.01M120.34 210.38h.01M113.48 223.98h.01M120.12 218.31h.01M112.16 221.73h.01M108.98 209.57h.01M119.71 220.01h.01M112.24 208.75h.01M117.28 201.62h.01M119.26 215.66h.01M114.4 215.53h.01M119.87 214.24h.01M118.73 221.03h.01M114.27 213.41h.01M114.07 218.32h.01M114.58 215.17h.01M117.01 212.87h.01M124.06 212.02h.01M122.72 217.14h.01M122.28 211.57h.01M120.53 216.74h.01M113.67 214.01h.01M115.83 212.3h.01M122.19 208.46h.01M108.92 202.74h.01M114.39 208.89h.01M116.46 215.67h.01M124.22 214.23h.01M118.46 208.39h.01M118.98 220.1h.01M122.35 201.57h.01M120.35 221.36h.01M120.07 204.14h.01M115.04 215.78h.01M118.24 207.96h.01M112.45 217.9h.01M110.49 220.51h.01M116.49 214.18h.01M110.49 209.17h.01M119.45 204.29h.01M125.57 204.66h.01M110.99 212.74h.01M118.53 216.59h.01M114.76 211.34h.01M115.36 209.29h.01M117.51 213.38h.01M113.62 213.9h.01M116.34 212.07h.01M121.29 202.9h.01M117.51 206.56h.01M115 220.85h.01M111.61 211.94h.01M113.79 217.79h.01M112.07 203.12h.01M118.67 210.53h.01M114.99 218.52h.01M112.48 210.42h.01M117.05 214.8h.01M114.12 218.26h.01M126.3 210.22h.01M124.66 200.75h.01M122.61 210.58h.01M117.01 210.61h.01M113.59 205.38h.01M114.66 219.72h.01M121.44 210.56h.01M114.07 208.59h.01M111.1 222.55h.01M119.33 213.15h.01M114.23 206.81h.01M122.22 216.85h.01M112.19 218.01h.01M111.51 216.07h.01M112.16 210.19h.01M118.59 214.91h.01M120.87 207.84h.01M123.37 219.99h.01M116.35 215.09h.01M112.96 211.65h.01M110.57 213h.01M117.28 219.98h.01M120.59 217.04h.01M114.8 211.25h.01M114.89 213.74h.01M107.87 216.79h.01M109.48 209.63h.01M116.5 209.64h.01M123.74 211.96h.01M123.34 219.04h.01M114.21 214.73h.01M122.13 210.65h.01M116.79 209.39h.01M116.66 210.53h.01M116.76 218.08h.01M122.55 213.24h.01M117.29 217.27h.01M115.12 206.61h.01M121.3 207.3h.01M120.51 207.13h.01M124.48 206.69h.01M120.15 220.85h.01M112.16 220.77h.01M112.76 202.68h.01M119.59 216.41h.01M115.5 198.44h.01M116.16 210.8h.01M114.72 210.89h.01M108.5 209.34h.01M124.35 221.11h.01M114.8 208.54h.01M118.15 218.41h.01M119.59 205.99h.01M117.12 213.28h.01M122.75 219.16h.01M118.71 219.27h.01M114.65 221.06h.01M114.52 214.7h.01M120.45 207.41h.01M113.3 202.71h.01M117.13 212.19h.01M114.96 215.27h.01M107.05 212.37h.01M116.79 211.02h.01M119.91 222.26h.01M114.43 207.27h.01M113.73 213.02h.01M118.99 207.71h.01M120.81 206.8h.01M120.05 214.88h.01M118.45 224.51h.01M115.24 211.58h.01M118.5 217.31h.01M110.49 214.03h.01M113.13 216.01h.01M122.45 212.79h.01M115.93 213.52h.01M118.88 213.42h.01M114.65 208.43h.01M115.61 219.26h.01M115.95 220h.01M117.61 212.42h.01M109.07 208.8h.01M121.92 205.31h.01M112.03 206.39h.01M113.96 216.08h.01M119.02 201.2h.01M122.85 209.2h.01M113.8 221.79h.01M116.04 205.6h.01M113.58 208.45h.01M111.94 210.64h.01M120.27 214.45h.01M110.3 228.02h.01M112.03 213.14h.01M116.54 216.74h.01M114.95 215.04h.01M125.7 213.03h.01M111.62 214.33h.01M112.85 210.44h.01M117.23 214.38h.01M115.14 217.22h.01M115.55 205.24h.01M120.28 210.47h.01M121.76 208.85h.01M118.93 214.25h.01M111.46 220.33h.01M108.06 217.59h.01M121.22 215.26h.01M119.38 209.74h.01M116.35 213.75h.01M118.26 216.44h.01M115.49 208.6h.01M113.92 214.79h.01M109.06 205.52h.01M114.58 209.42h.01M115.21 197.67h.01M114.89 211.1h.01M119.83 201.48h.01M115.05 215.14h.01M118.56 219.16h.01M121.06 206.65h.01M119.21 210.63h.01M112.85 221.05h.01M113.62 207.74h.01M114.6 207.75h.01M120.85 214.62h.01M122.59 214.79h.01M113.68 218.34h.01M113.5 209.92h.01M115.66 212.72h.01M121.69 209.12h.01M117.96 212.35h.01M110.83 206.39h.01M115.43 214.76h.01M117.82 215.18h.01M116.62 210h.01M118.29 206.9h.01M110.45 210.64h.01M110.07 209.62h.01M113.09 209.4h.01M116.2 208.03h.01M114.53 202.94h.01M117.04 207.58h.01M118.19 196.69h.01M112.84 213.86h.01M116.82 213.08h.01M109.76 213.78h.01M117.06 207.06h.01M119.7 212.23h.01M116.48 209.98h.01M118.83 213.04h.01M121.45 215.03h.01M113.66 211.25h.01M120.48 210.45h.01M118.1 215.42h.01M115.6 199.46h.01M116.99 213.7h.01M117 208.24h.01M121.77 211.74h.01M113.63 208.48h.01M117.99 206.38h.01M111.95 223.72h.01M122.23 218.41h.01M122.47 215.84h.01M108.9 219.2h.01M121.91 215.25h.01M107.69 219.47h.01M122.48 209.74h.01M116.97 216.86h.01M116.02 218.67h.01M116.76 216.38h.01M116.78 204.19h.01M111.97 230.29h.01M117.64 219.87h.01M121.47 222.14h.01M118.87 209.15h.01M116.48 201.71h.01M115.56 217.6h.01M106.76 213.61h.01M120.08 219.97h.01M112.27 208.83h.01M108.03 206.76h.01M118.78 224.15h.01M111.28 220.26h.01M118.31 209.71h.01M126.2 198.3h.01M116.1 213.73h.01M125.91 222.62h.01M126.51 213.26h.01M120.78 220.19h.01M118.69 214.53h.01M115.58 210.2h.01M110.91 223.49h.01M114.4 200.78h.01M117.58 212.31h.01M117.19 222.73h.01M115.93 211h.01M113.06 212.37h.01M114.44 213.65h.01M130.37 214.72h.01M112.57 223.39h.01M120.27 217.1h.01M119.6 217.12h.01M119.42 220.46h.01M120.91 220.11h.01M114.15 212.49h.01M113.14 217.9h.01M120.12 209.87h.01M119.02 227.32h.01M121.94 206.2h.01M115.99 216.09h.01M116.24 214.68h.01M121.68 214.35h.01M111.48 216.54h.01M115.96 213.14h.01M113.86 204.69h.01M110.82 210.5h.01M111.61 197.16h.01M121.54 205.94h.01M113.15 215.5h.01M112.96 216.23h.01M114.24 214.23h.01M116.87 212.49h.01M108.22 204.2h.01M116.21 220.47h.01" stroke="#111" stroke-width="0.5" stroke-linecap="round" fill="none" opacity="0.5"/>
<path d="M115.24 213.64h.01M116.48 213.54h.01M117.94 209.29h.01M116.68 212.12h.01M115.65 210.67h.01M114.82 210.29h.01M114.27 217.88h.01M119.18 212.52h.01M117.5 210.41h.01M111.32 208.59h.01M116.45 215.59h.01M116.13 210.35h.01M115.78 210.36h.01M113.75 212h.01M115.5 210.76h.01M114.65 210.51h.01M116.61 215.49h.01M115.83 217.29h.01M113.36 213.09h.01M114.17 212.15h.01M116.38 213.7h.01M118.18 211.31h.01M114.02 212.1h.01M116.72 211h.01M117.77 216.11h.01M113.7 213.28h.01M117.98 208.38h.01M116.56 212.02h.01M113.7 215.32h.01M116.58 211.47h.01M116.98 213.88h.01M117.55 213.74h.01M116.92 209.98h.01M115.46 212.78h.01M111.34 217.07h.01M115.53 210.24h.01M113.01 213.03h.01M116.26 211.25h.01M115.47 210.6h.01M114.89 212.29h.01M115.07 213.96h.01M115.95 212.78h.01M116.91 215.23h.01M117.26 212.99h.01M115.91 210.77h.01M115.6 213.96h.01M116.6 211.67h.01M113.86 209.21h.01M116.76 214.7h.01M116.86 209.56h.01M115.83 212.98h.01M114.59 213.24h.01M115.85 210.71h.01M114.02 214.24h.01M116.83 210.6h.01M114.42 214.41h.01M117.25 211.85h.01M118.99 211.88h.01M114.35 214.84h.01M115.87 213.24h.01M116.27 210.35h.01M114.12 212.08h.01M118.66 210.35h.01M118.58 212.97h.01M114.25 213.07h.01M117.19 210.57h.01M112.47 213.26h.01M114.26 213.44h.01M112.85 212.2h.01M114.78 209.33h.01M115.78 212.87h.01M115.22 209.97h.01M116.57 208.76h.01M117.14 213.55h.01M119.14 214.39h.01M116.82 213.06h.01M116.25 209.66h.01M118.76 213.63h.01M115.7 210.05h.01M118.8 213.64h.01M114.13 213.94h.01M119.52 212.45h.01M116.9 211.61h.01M115.1 214.79h.01M121.58 212.75h.01M115.98 214.2h.01M115.67 214.06h.01M117.65 210.33h.01M114.33 212.34h.01M117.66 213.09h.01M118.37 209.56h.01M117.06 211.17h.01M116.37 213.19h.01M114.5 212.01h.01M114.17 213.07h.01M114.71 211.45h.01M116.58 211.11h.01M118.21 211.14h.01M117.68 213.1h.01M114.39 212.03h.01M114.74 211.73h.01M115.73 216.38h.01M115.47 215.85h.01M116.98 209.71h.01M112.16 213.95h.01M112.73 214.03h.01M117.99 213.33h.01M115.83 211.96h.01M116.65 211.85h.01M115.27 211.71h.01M118.24 211.18h.01M116.86 210.05h.01M114.96 209.57h.01M115.86 213.95h.01M116.73 211.45h.01M117.27 211.76h.01M116.85 213.08h.01M117.14 207.22h.01M113.93 214.15h.01M116.01 217.28h.01M115.79 211.33h.01M118.8 213.68h.01M119.51 213.59h.01M115.85 214.04h.01M114.83 211.55h.01M115.23 212.03h.01M117.56 211.48h.01M116.76 211.44h.01M117.74 206.64h.01M115.84 212.86h.01M114.32 214.66h.01M116.58 215.23h.01M117.87 213.86h.01M115.94 210.19h.01M115.82 211.52h.01M116.63 211.51h.01M121.52 209.1h.01M118.24 211.5h.01M115.78 214.47h.01M116.2 209.92h.01M116.92 212.09h.01M112.62 212.92h.01M114.37 210.92h.01M117.04 213.14h.01M115.7 217.11h.01M116.93 211.2h.01M116.61 212.24h.01M112.37 209.15h.01M113.78 216.89h.01M115.88 211.91h.01M115.22 214.58h.01M116.25 216.12h.01M117.57 215.99h.01M116 213.3h.01M115.45 212.14h.01M113.19 211.27h.01M114.55 211.12h.01M118.31 213.06h.01M118.33 214.32h.01M117.8 214.63h.01M115.15 214.2h.01M115.64 211.37h.01M118.27 217.09h.01M114.5 216.18h.01M117.64 210.7h.01M116.67 213.29h.01M116.85 211.74h.01M113.97 212.57h.01M117.69 214.16h.01M117.35 214.84h.01M114.48 212.41h.01M116.79 214.62h.01M116.47 213.6h.01M116.43 216.95h.01M112.41 212.45h.01M120.49 213h.01M113.02 212.78h.01M113.71 211.06h.01M116.59 216.13h.01M117 213.92h.01M117.97 212.92h.01M114.71 212.29h.01M116.78 211.91h.01M115.04 211.74h.01M113.6 210.33h.01M116.04 211.74h.01M116.26 215.47h.01M116.72 212.43h.01M114.17 210.22h.01M116.85 210.65h.01M116.94 210.23h.01M116.43 212.35h.01M117.93 211.67h.01M115.56 213.02h.01M116.29 216.08h.01M115.75 211.36h.01M115.65 213.5h.01M116.61 213.97h.01M113.8 217.75h.01M119.39 212.43h.01M114.11 212.83h.01M116.92 207.77h.01M116.22 209.37h.01M116.99 215.43h.01M117.99 209.31h.01M118.59 214.42h.01M115.57 213.56h.01M118.83 211.8h.01M116.17 211.32h.01M118.2 207.94h.01M118.66 210.45h.01M117.8 209.06h.01M114.58 211.23h.01M117.63 209.07h.01M117.24 211.15h.01M118.35 211.84h.01M117.04 212.14h.01M119.31 211.74h.01M116.16 216.7h.01M116.33 213.95h.01M114.92 212.92h.01M112.27 212.72h.01M115.08 209.32h.01M113.75 214.92h.01M116.94 209.29h.01M119.34 211.03h.01M115.56 213.02h.01M114.23 209.08h.01M114.91 215h.01M117.85 209.16h.01M118.29 212.57h.01M117.07 212.61h.01M116.92 210.38h.01M114.63 211.01h.01M115.56 213.81h.01M114.09 215.87h.01M115.1 211.25h.01M117.42 213.42h.01M115.61 210.23h.01M114.47 209.12h.01M118.18 214.79h.01M119.44 213.56h.01M116.78 214.1h.01M117.85 211.95h.01M116.81 217.06h.01M113.27 209.52h.01M114.53 214.1h.01M118.26 211.78h.01M117.36 212.4h.01M116.72 211.36h.01M116.15 212.49h.01M118.16 217.23h.01M113.06 213.63h.01M116.19 214.55h.01M118.04 214.15h.01M117.6 210.49h.01M113.24 216.04h.01M118.29 210.48h.01M118.44 213.91h.01M111.95 214.4h.01M114.49 214.97h.01M115.02 210.93h.01M113.52 212.04h.01M117.96 211.08h.01M112.98 217.04h.01M119.4 213.96h.01M115.27 209.93h.01M113.36 213.68h.01M118.45 210.25h.01M116.2 211.91h.01M115.76 213.56h.01M119.83 211.15h.01M117.67 214.81h.01M115.71 212.18h.01M113.87 214.79h.01M115.28 211.11h.01M116.32 210.68h.01M114.39 211.87h.01M118.78 212.06h.01M117.11 209.39h.01M112.82 216.35h.01M115.51 209.24h.01M116.02 213.79h.01M113.2 210.63h.01M116.65 210.54h.01M117.58 214.54h.01M116.97 211.59h.01M116.12 211.16h.01M115.97 213.17h.01M115.68 214.57h.01M120.71 211.34h.01M116.8 214.25h.01M117.32 211.99h.01M115.37 214.63h.01M117.29 213.58h.01M114.8 213.84h.01M117.58 212.11h.01M117.32 217.11h.01M112.94 213.79h.01M114.16 209.6h.01" stroke="#000" stroke-width="0.65" stroke-linecap="round" fill="none" opacity="0.85"/>
<circle cx="116.2" cy="212.8" r="0.9" fill="#fff"/>
<ellipse cx="117.5" cy="229" rx="10.5" ry="5" transform="rotate(-12 117.5 229)" fill="#777" stroke="none" stroke-width="0" opacity="0.5" filter="url(#b12)"/>
<path d="M116.32 230.62h.01M116.84 223.08h.01M106.81 227.85h.01M116.86 224.53h.01M108.39 237.57h.01M111.41 228.61h.01M113.09 226.39h.01M117.52 226.7h.01M120.84 222.13h.01M108.68 238.36h.01M117.65 231.31h.01M126.37 228.53h.01M116.38 221.47h.01M107 234.49h.01M122.81 229.35h.01M108.95 224.67h.01M117.73 223.5h.01M128.19 223.01h.01M114.27 232.45h.01M119.04 223.75h.01M125.04 234.78h.01M108.55 228.82h.01M108.12 221.52h.01M122.58 229.97h.01M124.81 228.32h.01M111.7 224.1h.01M110.3 232.87h.01M117.14 236.66h.01M119.16 219.31h.01M124.98 231.87h.01M116.65 222.88h.01M128.94 219.83h.01M115.21 220.15h.01M107.04 222.79h.01M126.32 231.28h.01M113.4 222.94h.01M117.41 229.68h.01M117.39 231.1h.01M118.43 229.77h.01M106.36 219.46h.01M118.91 223.68h.01M116.28 226.61h.01M120.25 224.03h.01M127.86 225.93h.01M121.85 229.84h.01M125.29 228.12h.01M131.25 227.15h.01M121.94 229.11h.01M112.3 226.13h.01M113.9 233.86h.01M121.71 234.93h.01M122.77 235.2h.01M119.73 222.32h.01M130.3 226.77h.01M126.25 227.09h.01M115.3 229.21h.01M108.37 224.68h.01M110.64 227.14h.01M107.66 229.64h.01M121.51 236.09h.01M130.7 224.97h.01M123.67 225.72h.01M120.28 227.26h.01M113.67 229.15h.01M107.24 232.12h.01M114.44 223.87h.01M115.4 230.89h.01M113.03 231.05h.01M123.01 233.72h.01M109.56 229.2h.01M122.54 233.57h.01M120.07 230.79h.01M106.38 227.78h.01M129.24 224.24h.01M132.47 221.59h.01M114.05 221.67h.01M122.33 228.14h.01M132.24 225.6h.01M114.42 222.41h.01M117.76 232.14h.01M123.97 232.07h.01M123.72 226.47h.01M122.03 227.8h.01M109.4 237.32h.01M119.26 222.96h.01M120.55 228.63h.01M126.03 232.61h.01M127.74 221.61h.01M120.26 228.97h.01M109.02 227.72h.01M119.59 230.87h.01M133.68 225.87h.01M110.99 218.88h.01M125.18 225.78h.01M115.81 223.96h.01M121.21 219.22h.01M118.4 228.35h.01M120.86 233.1h.01M116.87 228.55h.01M122.32 220.06h.01M115.44 228.74h.01M123.73 223.11h.01M123.7 228.4h.01M107.2 230.81h.01M119.66 230.77h.01M122.98 224.37h.01M126.03 229.84h.01M121.37 229.32h.01M108.45 231.54h.01M108.89 224.5h.01M115.08 229.14h.01M116.81 226.67h.01M110.38 230.35h.01M110.82 223.12h.01M119.5 234.07h.01M113.58 224.08h.01M129.16 233.18h.01M115.16 227.55h.01M119.38 232.05h.01M119.08 219.52h.01M108.33 224.43h.01M120.76 227.78h.01M130.32 224.06h.01M119.82 227.84h.01M120.63 237.71h.01M120.92 233.87h.01M126.43 223.38h.01M122.16 225.3h.01M118.45 228.51h.01M117.23 225.95h.01M128.64 224.44h.01M124.17 234.11h.01M123.01 231.43h.01M128.65 230.51h.01M128.77 219.2h.01M131.85 225.07h.01M107.28 230.08h.01M119.81 228.21h.01M111.45 228.23h.01M116.84 228.48h.01M117.25 227.06h.01M122.47 219.73h.01M114.01 229.34h.01M114.06 226.25h.01M114.49 229.58h.01M126.45 225.26h.01M115.87 229.95h.01M113.96 220.06h.01M119.12 225.96h.01M113.88 231.59h.01M117.31 225.5h.01M117.49 227.47h.01M120.92 228.28h.01M112.84 223.3h.01M109.35 229.11h.01M109.77 233.04h.01M106.14 222.36h.01M114.46 220.67h.01M128.53 221.19h.01M116.9 227.03h.01M109.87 221.67h.01M126.97 235.72h.01M107.29 232.69h.01M118.17 231.66h.01M114.39 231.91h.01M124.63 229.21h.01M127.95 224.99h.01M128.18 222.58h.01M127.22 213.58h.01M116.87 224.53h.01M118.46 232.44h.01M122.86 227.29h.01M128.63 218.99h.01M112.91 235.77h.01M118.01 218.56h.01M118.92 222.37h.01M129.38 230.62h.01M114.67 234.42h.01M112.23 233.26h.01M121.63 226.55h.01M106.81 229.01h.01M108.18 219.04h.01M122.12 228.68h.01M115.72 237.9h.01M123.24 227.08h.01M110.06 216.29h.01M121.9 231.39h.01M111.87 222.84h.01M115.66 220.87h.01M118.26 231.31h.01M128.82 226.79h.01M119.63 230.92h.01M127.48 224.44h.01M107.77 226.51h.01M107.45 226.14h.01M116.93 229.66h.01M118.71 228.06h.01M115.27 230.38h.01M124.69 229.89h.01M128.22 224.42h.01M117.2 235.68h.01M119.35 229.46h.01M115.92 232.69h.01M113.63 224.29h.01M116.65 226.19h.01M123.27 225.07h.01M118.21 226.87h.01M119.42 224.76h.01M124.3 220.15h.01M114.02 225.55h.01M122.29 227.16h.01M120.76 225.82h.01M111.21 224.3h.01M114.56 226.22h.01M119.88 229.09h.01M124.57 226.02h.01M111.04 224.6h.01M118.28 229.46h.01M131.96 225.75h.01M132.11 233.32h.01M110.91 234.84h.01M127.07 232.02h.01M118.3 232.13h.01M113.91 228.45h.01M119.27 235.64h.01M116.79 232.45h.01M117.34 224.85h.01M119.88 230.46h.01M112.86 231.84h.01M111.47 225.34h.01M118.9 226.64h.01M108.8 222.52h.01M117.89 229.01h.01M114.3 229.52h.01M106.66 232.07h.01M120.81 228.55h.01M113.08 229.3h.01M119.43 232.4h.01M119.76 228.66h.01M112.98 232.84h.01M125.65 224.05h.01M122.47 228.33h.01M115.98 222.54h.01M128.68 217.23h.01M119.38 225.91h.01M125.51 224.4h.01M118.35 230.57h.01M120.37 225.05h.01M122.85 228.62h.01M124.28 224.26h.01M116.8 226.39h.01M111.59 230.4h.01M121.79 233.46h.01M115.47 230.17h.01M125.76 225.73h.01M118.08 228.48h.01M111.55 224.83h.01M125.83 227.01h.01M115.82 222.78h.01M119.43 232.85h.01M108.27 225.96h.01M126.91 232.41h.01M128.35 223.22h.01M121.2 223.85h.01M120.97 225.63h.01M120.15 233.44h.01M119.75 226.44h.01M118.15 229.05h.01M113.94 229.68h.01M123.3 233.75h.01M109.27 233.67h.01M135.48 225.04h.01M119.42 232.68h.01M113.35 226.71h.01M119.45 224.98h.01M125.6 226.27h.01M122.58 238.26h.01M115.07 232.65h.01M112.61 234.61h.01M124.65 227.11h.01M126.18 233.34h.01M127.53 225.87h.01M118.11 232.81h.01M106.25 227.7h.01M121.55 229.68h.01M132.64 232.63h.01M120.26 229.38h.01M107.74 229.25h.01M119.2 226.63h.01M118.49 230.5h.01M110.07 227.05h.01M108.29 222.37h.01M122.9 225.9h.01M124.18 224.94h.01M133.58 227.76h.01M118.7 228.26h.01M116.74 231.76h.01M131.63 223.12h.01M110.15 232.22h.01M123.89 220h.01M111.58 224.83h.01M122.03 229.29h.01M111.16 224.34h.01M120.59 218.21h.01M122.03 226.35h.01M132.3 229.27h.01M113.05 227.73h.01M114.84 225.34h.01M118.96 231.97h.01M106.38 229.35h.01M128.97 228.85h.01M110.89 225.83h.01M109.87 222.5h.01M125.88 226.53h.01M111.16 222.99h.01M114.26 226.42h.01M129.53 223.41h.01M119.3 232.36h.01M122.16 226.21h.01M121.43 225.24h.01M116 224.09h.01M109.68 223.1h.01M121.59 229.42h.01M119.46 231.04h.01M121.48 227.7h.01M111.66 231.86h.01M126.63 228.85h.01M126.07 224.09h.01M111.57 234.79h.01M113.51 229.92h.01M116.15 228.39h.01M115.07 226.14h.01M117.24 219.56h.01M109.96 224.63h.01M109.87 218.37h.01M123.11 234.04h.01M116.4 231.52h.01M120.71 221.83h.01M124.76 219.02h.01M113.04 227.36h.01M126.64 226.58h.01M115.89 224.8h.01M118.19 228.04h.01M124 232.77h.01M122.82 226.95h.01M117.84 234.98h.01M118.93 227.62h.01M131.81 231.87h.01M121.49 226.67h.01M113.9 233.47h.01M115.11 232.74h.01M111.97 229.64h.01M120.52 228h.01M119.52 229.25h.01M108.45 225.04h.01M118.06 235.82h.01M115.78 224.29h.01M112.8 229.15h.01M125.48 223.82h.01M121.69 227.93h.01M114.1 224.57h.01M115.76 225.19h.01M119.78 219.77h.01M126.27 229.47h.01M122.99 233.41h.01M120.3 219.9h.01M118.28 229.81h.01M111.59 224.29h.01M121.06 229.49h.01M114.24 227.63h.01M113.36 226.39h.01M118.05 232.6h.01M129.34 226.88h.01M119.35 231.27h.01M109.24 224.45h.01M120.04 231.19h.01M113.91 225.78h.01M120.94 229.96h.01M117.64 219.62h.01M111.35 218.2h.01M118.48 224.07h.01M114.15 235.3h.01M127.38 228.01h.01M119.63 228.31h.01M113.27 228.68h.01M130.38 221.43h.01M112.92 229.69h.01M124.62 230.14h.01M110.48 228.92h.01M114.51 223.24h.01M117.63 225.87h.01M124.45 228.42h.01M112 229.52h.01M114.39 225.88h.01M114.98 233.19h.01M113.02 221.45h.01M112.69 232.55h.01M131.92 220.33h.01M114.67 227.16h.01M107.82 231.82h.01M117.39 229.25h.01M133.24 223.49h.01M123.91 230.29h.01M112.44 226.49h.01M129.25 228.63h.01M117.55 223.21h.01M124.27 228.87h.01M134.49 230.84h.01M123.48 227.9h.01M117.45 225.6h.01M119.92 228.55h.01M123.12 231.56h.01M119.24 225.26h.01M124.64 233.27h.01M111.92 231.02h.01M121.89 229.41h.01M121.02 226.86h.01M118.28 235.21h.01M128.61 219.51h.01M112.23 226.86h.01M106.45 231.9h.01M116.63 225.83h.01M126.07 236.81h.01M129.06 230.68h.01M115.15 231.38h.01M118.26 232.9h.01M121.62 226.97h.01M120.81 224.16h.01M124.49 233.09h.01M115.42 230.87h.01M106.46 234.44h.01M122.85 222.4h.01M130.03 225.84h.01M123.49 225.54h.01M123.99 219.85h.01M117.67 232.24h.01M113.28 231.87h.01M115.25 229.98h.01M121.79 236.85h.01M109.37 233.13h.01M125.85 221.31h.01M120.13 237.53h.01M122.35 214.01h.01M114.29 221.21h.01M119.02 224.51h.01M112.75 225.35h.01M119.18 225.61h.01M110.85 228.42h.01M119.64 223.81h.01M123.94 219.38h.01M120.06 225.76h.01M128.14 222.93h.01M111.58 223.4h.01M132.2 227.57h.01M109.47 228.24h.01M112.03 235.82h.01M118.67 218.85h.01M119.81 231.51h.01M117.93 229.98h.01M116.9 229.04h.01M118.39 224.72h.01M120.13 228.16h.01M116.62 225.2h.01M110.49 230.57h.01M121.24 216.64h.01M114.89 234.47h.01M123.39 223.63h.01M126.26 221.82h.01M113.6 237.31h.01M114.2 227.76h.01M109 229.21h.01M114.43 226h.01M113.64 232.07h.01M128.08 223.97h.01M130.44 232.29h.01M127.34 227.22h.01M107.47 233.08h.01M114.76 229.43h.01M118.33 223.72h.01M121.09 234.56h.01M118.54 224.78h.01M132.6 215.37h.01M111.3 231.1h.01M111.24 219.29h.01M120.1 231.09h.01M113.13 235.35h.01M122.13 232.24h.01M106.6 230.3h.01M130.72 234.02h.01M126.91 226h.01M118.25 225.09h.01M124.73 223.42h.01M116.54 219.16h.01M108.33 237.75h.01M118.11 228.81h.01M130.98 218.58h.01M113.51 227.93h.01M107.3 224.22h.01M109.23 232.57h.01M117.9 231.53h.01M110.31 232.12h.01M114.41 229.05h.01M124.22 226.72h.01M113.5 221.54h.01M118.66 231.2h.01M112.91 228.68h.01M121.55 232.84h.01M113.78 221.44h.01M113.37 221.99h.01M117.25 236.55h.01M119.51 226.9h.01M124.61 224.82h.01M120.07 228.34h.01M119.39 221.12h.01M123.4 230.64h.01M112.4 235.66h.01M118.26 230.83h.01M122.29 230.9h.01M112.38 226.5h.01M120.75 230h.01M121.94 228.56h.01M115 233.41h.01M121.85 231.78h.01M112.81 229.53h.01M113.79 227.42h.01M119.2 229.17h.01M109.45 218.51h.01M112.35 231.49h.01M111.79 231.11h.01M113.99 224.57h.01M127.44 233.24h.01M116.71 227.94h.01M123.23 220.89h.01M112.21 234.15h.01M123.58 224.52h.01M112.19 230.69h.01M106.85 228.05h.01M113.6 217.89h.01M122.47 230.34h.01M123.93 220.24h.01M107.45 226.51h.01M110.13 228.17h.01M119.41 229.62h.01M127.05 221.12h.01M124.03 227.28h.01M109.12 230.45h.01M108.78 237.08h.01M113.11 233.42h.01M126.4 223.35h.01M111.09 229.95h.01M110.69 233.46h.01M118.08 224.47h.01M113.17 232.16h.01M108.48 237.46h.01M111.6 228.38h.01M112.24 236.37h.01M124.69 232.29h.01M122.34 227.37h.01M130.47 228.22h.01M121.21 229.79h.01M123.12 228.05h.01M114.83 221.43h.01M131.35 219.23h.01M132.74 230.23h.01M113.34 230.07h.01M115.51 219.53h.01M115.32 229.77h.01M124.97 221.02h.01M119.99 227.83h.01M118.73 228.4h.01M113.57 222.71h.01M121.17 228.95h.01M122.87 232.45h.01M106.29 219.88h.01M111.17 231.14h.01M118.05 231.16h.01M140.56 220.78h.01M115.71 225.7h.01M119.77 229.86h.01M111.59 235.18h.01M126.31 228.13h.01M116.47 227.15h.01M106.04 233.38h.01M109.89 227.36h.01M123.97 222.49h.01M114.46 232.51h.01M130.49 222.13h.01M125 223.46h.01M120.79 229.48h.01M110.09 234.19h.01M130.75 225.42h.01M118.4 222.54h.01M130.67 225.48h.01M108.84 233.28h.01M106.15 227.32h.01M133.13 221.82h.01M112.18 226.53h.01M113.86 231.27h.01M127.28 221.39h.01M119.08 219.56h.01M128.6 225.24h.01M113.76 235.68h.01M117.98 234.06h.01M126.9 233.46h.01M111.68 229.49h.01M120.02 226.59h.01M128.02 222.55h.01M126.1 232.3h.01M110.37 227.06h.01M120.21 226.64h.01M117.66 225.9h.01M117.34 230.21h.01M122.25 223.48h.01M115.97 224.9h.01M114.88 222.1h.01M125.12 229.4h.01M115.98 225.25h.01M113.54 225.85h.01M107.67 237.44h.01M140.51 217.58h.01M109.47 232.31h.01M120.5 220.28h.01M113.95 229.14h.01M116.97 225.6h.01M116.18 226.93h.01M126.55 225.66h.01M116.78 225.77h.01M112.17 225.82h.01M119.26 235.89h.01M125.9 227.28h.01M130.67 229.76h.01M118.87 226.97h.01M109.68 230.78h.01M113.73 221.67h.01M109.85 238.34h.01M119.53 229.81h.01M118.54 225.69h.01M121.88 231.94h.01M115.7 230.69h.01M124.58 224.32h.01M118.07 224.55h.01M121.59 225.47h.01M125.21 222.92h.01M129.61 224.03h.01M110.51 225.42h.01M121.58 223.28h.01M131.91 230.71h.01M120 221.07h.01M116.66 224.91h.01M133.16 222.26h.01M124.61 232.26h.01M110.14 228.04h.01M119.9 229.61h.01M109.29 230.72h.01M117.58 232.26h.01M113.52 227.42h.01M122.23 224.17h.01M136.94 220.69h.01M124.6 231.08h.01M124.39 225.62h.01M111.18 228.2h.01M122.49 227.48h.01M122.29 229.57h.01M110.16 225.35h.01M127.63 223.66h.01M107.58 238.47h.01M110.53 225.28h.01M123.56 221.62h.01M112.07 233.87h.01M118.5 228.04h.01M112.59 228.04h.01M113.8 228.68h.01M122 221.33h.01M108.85 220.42h.01M128.47 225.33h.01M117.35 227.77h.01M125.16 227.82h.01M123.58 225.95h.01M116.56 227.95h.01M122.47 227.19h.01M125.02 234.08h.01M132.42 231.05h.01M117.72 237.17h.01M110.97 229h.01M124.62 225.53h.01M116.29 226.67h.01M125.25 215.25h.01M127.81 230.58h.01M117.48 230.53h.01M111.41 234.28h.01M139.11 219.27h.01M127.69 225.58h.01M114.57 226.43h.01M114.96 222.91h.01M109.06 237.27h.01M117.88 230.41h.01M120.21 229.57h.01M123.06 231.31h.01M108.57 227.3h.01M110.26 232.48h.01M120.06 227.6h.01M113.05 230.49h.01M117.05 224.75h.01M119.34 224.62h.01M125.06 229.21h.01M112.99 231.6h.01M117.35 224.86h.01M109.27 222.27h.01M109.52 231.26h.01M125.78 223.41h.01M118.99 229.23h.01M123.63 228.69h.01M127.2 229.38h.01M112.27 230.9h.01M118.18 230.46h.01M116.05 232.05h.01M126.42 222.33h.01M113.75 229.97h.01M121.23 227.85h.01M122.51 221.62h.01M124.26 231.81h.01M126.03 228.1h.01M116.12 230.09h.01M115.5 221.29h.01M113.02 228.77h.01M112.86 224.79h.01M115.46 226.76h.01M117.96 227.68h.01M119.67 232.01h.01M118.87 229.54h.01M105.84 217.22h.01M115.18 231.54h.01M114.44 225.85h.01M109.22 233.77h.01M113.85 229.88h.01M126.29 228.54h.01M133.84 223.93h.01M125.15 229.49h.01M112.74 229.23h.01M112.42 224.47h.01M118.99 224.2h.01M129.14 222.19h.01M113.59 229.24h.01M113.74 229.04h.01M111.74 222.83h.01M129.07 227.54h.01M118.2 225.76h.01M116.71 229.51h.01M106.58 226.73h.01M112.12 234.81h.01M110.82 234.69h.01M116.95 228.26h.01M128.21 229.66h.01M123.41 221.93h.01M127.37 233.46h.01M116.31 226.08h.01M110.42 234.08h.01M119.66 227.57h.01M109.92 236.9h.01M123.9 226.55h.01M127.46 221.6h.01M123.05 222.33h.01M127.6 224.62h.01M126.09 224.3h.01M121.47 232.29h.01M110.97 229.82h.01M112.13 232.97h.01M112.73 227.34h.01M117.08 233.33h.01M109.84 229.51h.01M114.58 226.15h.01M111.58 228.54h.01M117.52 221.03h.01M118.13 222.54h.01M119.69 237.79h.01M110.34 229.22h.01M116.53 232.62h.01M112.39 221.05h.01M105.84 231.27h.01M120.33 232.2h.01M114.17 231.7h.01M110.88 235.23h.01M116.36 225.19h.01M120.4 235.22h.01M110.15 223.99h.01M108.99 224.61h.01M117.45 229.59h.01M116.48 229.1h.01M125.93 224.91h.01M106.22 220.12h.01M118.65 224.7h.01M116.05 230.15h.01M119.46 220.53h.01M110.55 229.81h.01M117.49 233.16h.01M111.93 219.9h.01M124.59 219.14h.01M110.74 231.19h.01M119.74 229.93h.01M116.33 238.22h.01M120.8 224.07h.01M125.16 218.77h.01M113.46 230.16h.01M117.63 223.66h.01M130.44 231.87h.01M110.98 231.06h.01M112.45 227.13h.01M124.85 227h.01M116.8 228.61h.01M110.02 235.08h.01M113.19 234.8h.01M113.72 226.75h.01M128.57 226.51h.01M112.32 226.69h.01M123.65 235.11h.01M121.64 225.35h.01M108.66 226.85h.01M116.85 229.24h.01M113.86 234.53h.01M109.82 226.42h.01M121.59 229.29h.01M115.52 232.75h.01M108.66 237.23h.01M135.33 232.99h.01M120.17 236.28h.01M119.11 233.64h.01M116.21 229.15h.01M119.75 219.66h.01M117.55 235.72h.01M124.56 227.97h.01M120.2 233.67h.01M118.23 219.33h.01M110.3 228.2h.01M118.15 225.85h.01M118.26 235.34h.01M124.92 229.13h.01M117.67 228.25h.01M120.39 228.48h.01M112.91 232.49h.01M111.41 229.11h.01M113.82 223.61h.01M121.87 226.76h.01M108.89 229.48h.01M108.71 236.31h.01M123.1 235.73h.01M113.99 231.92h.01M109.63 225.85h.01M117.22 229.91h.01M124.02 225.41h.01M126.45 230.43h.01M110.93 228.6h.01M112.35 236.75h.01M114.28 232.65h.01M123.96 225.49h.01M114.25 230.23h.01M110.68 223.78h.01M110.74 230.95h.01M120.51 235.26h.01M110.12 234.74h.01M122.7 227.46h.01M127.93 224.11h.01M112.67 224.32h.01M112.81 229.51h.01M123.58 232.44h.01M114.87 225.29h.01M114.67 226.68h.01M113.72 227h.01M111.09 229.13h.01M113.61 228.07h.01M107.53 230.77h.01M122.26 229.88h.01M112.47 223.97h.01M106.95 225h.01M112.53 227.67h.01M113 232.66h.01M130.57 223.65h.01M115.15 226.75h.01M115.89 227.59h.01M134.47 219.54h.01M115.99 224.8h.01M119.62 225.23h.01M120.7 222.5h.01M133.04 225.63h.01M113.04 223.81h.01M120.24 225.11h.01M122.37 224.53h.01M124.19 227.24h.01M120.24 228.12h.01M114.53 227.03h.01M121.42 230.32h.01M116.56 238.15h.01M128.74 220.52h.01M125.32 226.03h.01M118.48 224.29h.01M128.74 221.95h.01M116.26 225.05h.01M132.65 230.35h.01M107.53 228.13h.01M119.75 225.61h.01M113.96 223.98h.01M118.34 222.99h.01M125.7 236.89h.01M116.62 235.48h.01M119.6 224.59h.01M114.14 224.46h.01M118.96 230.8h.01M123.99 225.39h.01M108.8 229.52h.01M129.86 226.62h.01M115.17 219.31h.01M114.86 230.98h.01M111.87 235.17h.01M112.63 225.19h.01M113.23 228.51h.01M124.22 224.08h.01M122.67 233.72h.01M110.72 236h.01M122.8 228.89h.01M111.17 225.46h.01M111.44 233.42h.01M120.04 232.18h.01M130.65 225.3h.01M118.88 236.18h.01M107.68 228.12h.01M114.49 226.98h.01M117.79 224.25h.01M124.67 220.48h.01M110.11 222.13h.01M107.91 232.64h.01M121.87 226.22h.01M124.15 229.33h.01M113.31 228.74h.01M121.96 235.93h.01M114.66 230.26h.01M122.53 232.32h.01M121.53 231.89h.01M109.59 228.54h.01M134.54 225.46h.01M118.39 229.01h.01M117.37 222.22h.01" stroke="#222" stroke-width="0.5" stroke-linecap="round" fill="none" opacity="0.55"/>
<ellipse cx="117.6" cy="229" rx="10.8" ry="5" transform="rotate(-14 117.6 229)" fill="#fdfdfd" stroke="#222" stroke-width="0.75" opacity="1"/>
<ellipse cx="117.8" cy="229" rx="8.6" ry="3.8" transform="rotate(-12 117.8 229)" fill="none" stroke="#888" stroke-width="0.45" opacity="1"/>
<ellipse cx="118" cy="229" rx="6.6" ry="2.7" transform="rotate(-12 118 229)" fill="#d8d8d8" stroke="#666" stroke-width="0.45" opacity="1"/>
<ellipse cx="118.2" cy="229" rx="4.2" ry="1.4" transform="rotate(-12 118.2 229)" fill="#9a9a9a" stroke="#666" stroke-width="0.4" opacity="1"/>
<ellipse cx="143.2" cy="227" rx="7.8" ry="7.4" transform="rotate(0 143.2 227)" fill="#666" stroke="none" stroke-width="0" opacity="0.5" filter="url(#b12)"/>
<path d="M140.5 225.71h.01M144.23 222.47h.01M143.04 223.08h.01M137.79 223.43h.01M140.02 230.46h.01M149.29 229.25h.01M142.58 223.92h.01M136.71 224.06h.01M150.27 231.94h.01M144.47 225.38h.01M143.52 228.51h.01M143.47 228.54h.01M140.17 226.74h.01M141.98 231.58h.01M138.14 232.61h.01M143.13 224.17h.01M143.59 227.11h.01M142.49 228.52h.01M141 218.6h.01M146.51 226.41h.01M150.7 228.34h.01M134.85 232.35h.01M140.53 229.1h.01M153.1 231.65h.01M138.77 226.11h.01M136.55 229.66h.01M145.93 221.73h.01M145.46 230.91h.01M146.99 223.4h.01M140.51 221.29h.01M137.91 228.01h.01M143.67 232.63h.01M144.68 225.03h.01M137.33 233.76h.01M144.21 226.39h.01M139.16 221.64h.01M146.24 221.99h.01M146.03 229.47h.01M141.85 218.96h.01M145.28 233.11h.01M139.94 220.64h.01M148.21 227.21h.01M140.81 232.27h.01M142.31 228.65h.01M141.76 223.04h.01M144.45 222.53h.01M135.83 224.02h.01M148.83 231.67h.01M152.89 231.18h.01M150.47 227.71h.01M141.62 228.72h.01M139.4 229.97h.01M141.57 227.75h.01M139.82 225.92h.01M147.73 225.54h.01M140.59 227.87h.01M147.3 225.68h.01M138.45 219.29h.01M137.72 231.51h.01M143.12 228.77h.01M148.14 227.87h.01M145.58 224.2h.01M136.55 229.47h.01M143.09 229.23h.01M138.9 225.89h.01M152.2 222.64h.01M143.92 232.64h.01M142.5 227.13h.01M134.31 230.16h.01M141.6 232.53h.01M143.11 224.82h.01M145.38 225.44h.01M141.28 233.72h.01M147.74 227.06h.01M146.99 230.38h.01M146.01 226.77h.01M143.81 228.45h.01M145.94 228.2h.01M141.13 226.21h.01M145.48 222h.01M143.46 230.06h.01M144.23 225.24h.01M143.4 224.33h.01M147.74 224.82h.01M136.32 220.99h.01M144.79 227.53h.01M141.47 220.51h.01M142.86 222.69h.01M140.67 226.56h.01M140.2 228h.01M140.32 224.43h.01M142.52 233.3h.01M150.29 230.92h.01M140.33 226.59h.01M147.44 230.28h.01M136.49 226.31h.01M140.32 230.02h.01M146.25 224.1h.01M152.73 225.3h.01M154.02 225.79h.01M143.14 235.3h.01M141.23 224.4h.01M149.85 226.39h.01M145.56 220.79h.01M151.2 231.09h.01M145.04 229.82h.01M141.35 224.4h.01M136.73 228.27h.01M148.83 230.5h.01M147.46 229.83h.01M139.54 220.59h.01M146.26 227.34h.01M147.75 225.32h.01M139.7 228.62h.01M141.1 219.06h.01M140.88 222.56h.01M138.7 224.06h.01M147.59 237.35h.01M150.94 224.68h.01M148.42 226.25h.01M145.23 223.48h.01M143.18 218.9h.01M151.22 223.08h.01M146.02 223.89h.01M144.66 221.2h.01M141.89 230.75h.01M146.06 217.7h.01M147.17 220.58h.01M144.73 228.95h.01M140.74 225.13h.01M142.44 228.41h.01M147.44 232.8h.01M144.91 235.69h.01M139.42 234.7h.01M142.37 230.08h.01M142.96 226.96h.01M139.55 228.35h.01M152.22 227.26h.01M143.41 226.6h.01M146.57 225.65h.01M143.48 227.56h.01M149.11 230.92h.01M138.97 223.7h.01M143.59 230.44h.01M147.67 225.63h.01M152.66 225.84h.01M149.56 233.07h.01M150.37 227.5h.01M145.98 219.61h.01M135.84 223.8h.01M146.6 231.43h.01M143.06 231.32h.01M145.99 233.53h.01M136.64 222.8h.01M139.38 221.82h.01M150.6 222.36h.01M139.93 224.76h.01M147.31 224.48h.01M146.67 229.09h.01M140.74 215.81h.01M139.55 220.89h.01M150.55 223.3h.01M138.89 228.3h.01M143.73 222.31h.01M148.22 230.75h.01M144.7 223.12h.01M139.74 217.23h.01M145.15 228.36h.01M139.53 226.69h.01M157.63 221.43h.01M136.14 229.35h.01M141.66 224.32h.01M146.18 225.98h.01M147.79 228.92h.01M148.51 227.11h.01M134.19 232.76h.01M136.16 231.33h.01M144.59 220.23h.01M143.79 230.58h.01M139.09 226.76h.01M140.32 221.99h.01M140.84 232.38h.01M146.46 226.43h.01M143.15 227.14h.01M144.74 227.4h.01M136.09 230.76h.01M139.81 214.68h.01M146.54 221.05h.01M142.89 226.13h.01M140.95 229h.01M142.32 225.29h.01M139.38 225.28h.01M139.03 226.75h.01M149.21 231.16h.01M145.35 220.34h.01M147.94 230.82h.01M152.41 216.28h.01M143.57 225.03h.01M148.2 221.59h.01M141.86 237.14h.01M147.8 217.45h.01M143.59 232.8h.01M140.83 229.27h.01M143.93 219.87h.01M140.79 231.73h.01M148.62 223.8h.01M148.37 223.29h.01M144.57 226.44h.01M138.1 228.01h.01M141.82 214h.01M139.91 222.67h.01M139.89 222.07h.01M140.52 215.33h.01M147.35 226.87h.01M144.6 225.32h.01M143.78 225.34h.01M138.79 219.59h.01M143.82 231.19h.01M144.51 233.92h.01M137.6 225.32h.01M140.83 232.18h.01M150.84 224.14h.01M146.66 225.42h.01M139.18 226.02h.01M139 233.63h.01M146.06 231.97h.01M145.05 215.39h.01M146.97 226.95h.01M133.18 226.99h.01M147.88 234.37h.01M139.07 230.14h.01M144.94 225.74h.01M142.27 228.95h.01M146 229.54h.01M141.73 220.47h.01M149.21 232.48h.01M141.06 226.38h.01M146.99 218.46h.01M145.66 237.62h.01M144.68 223.28h.01M152.34 226.56h.01M144.42 224.57h.01M144.28 218.28h.01M137.95 219.74h.01M147.4 226.09h.01M148.49 217.15h.01M140.91 233.21h.01M140.07 217.95h.01M140.27 224.93h.01M143.44 232.5h.01M149.25 233.65h.01M146.01 224.21h.01M141.36 219.71h.01M149.01 232.27h.01M143.89 222.42h.01M146.42 228.76h.01M144.17 221.17h.01M144.54 223.9h.01M146.7 229.26h.01M145.4 224.55h.01M150.09 230.07h.01M148.99 230.37h.01M146.37 228.31h.01M138.88 218.14h.01M139.45 229.33h.01M147.44 227.35h.01M143.89 234.95h.01M141.78 218.3h.01M136.81 225.03h.01M146.53 229.89h.01M142.54 230.27h.01M143.29 223.18h.01M141.87 229.98h.01M147.62 221.34h.01M139.23 227.07h.01M152.68 221.13h.01M138.09 228.43h.01M145.7 223.69h.01M143.39 228.74h.01M135.97 226.4h.01M146.09 230.75h.01M148.53 226.18h.01M137.28 232.68h.01M146.83 223.58h.01M147.97 231.28h.01M142.9 215.64h.01M141.48 223.02h.01M139.89 226.13h.01M138.84 228.3h.01M151.65 221.03h.01M147.99 224.06h.01M145.85 225.92h.01M149.03 223.23h.01M146.66 222.94h.01M144.49 226.44h.01M148.2 219.24h.01M137.68 232.91h.01M145.17 234.31h.01M139.06 227.47h.01M146.1 234.63h.01M143.27 224.44h.01M146.58 226.03h.01M140.28 230.01h.01M135.3 221.83h.01M149.37 224.2h.01M142.11 228.21h.01M148.33 228.93h.01M139.35 223.89h.01M148.02 225.95h.01M140.79 230.52h.01M148.41 236.51h.01M138.87 223.25h.01M140.52 228.14h.01M141.45 231.63h.01M131.94 230.93h.01M140.74 225.24h.01M145.94 227.44h.01M139.15 233.41h.01M145.98 224.24h.01M144.4 221.41h.01M138.22 225.12h.01M145.07 226.97h.01M140.17 220.13h.01M136.29 233.85h.01M145.09 222.82h.01M148.6 228.99h.01M141.73 223.68h.01M148.39 228.01h.01M150.52 228.17h.01M140.99 223.74h.01M140.48 227.67h.01M144.59 229.29h.01M145.44 221.67h.01M142.63 222.17h.01M145.57 220.45h.01M141.01 222.55h.01M140.85 225.32h.01M149.98 225.32h.01M137.35 225.11h.01M146.71 229.05h.01M144.53 235.67h.01M148.26 226.92h.01M148.71 220.34h.01M142.77 222.51h.01M144.26 233.95h.01M141.38 233.84h.01M139.13 233.07h.01M136.25 222.59h.01M147.77 226.08h.01M144.12 226.44h.01M144.28 225.68h.01M139.31 225.16h.01M143.98 222.36h.01M145.5 234.62h.01M136.48 223.99h.01M142.3 226.59h.01M143.91 223.16h.01M143.36 226.53h.01M143.13 233.59h.01M144.06 219.7h.01M136.8 229.22h.01M142.04 223.65h.01M137.71 225.08h.01M143.11 223.34h.01M142 230.58h.01M146.86 229.02h.01M142.76 220.25h.01M146.82 233.39h.01M148.95 231.86h.01M144.69 228.23h.01M143.44 232.27h.01M142.35 236.39h.01M146.83 225.02h.01M143.5 219.1h.01M140.37 225.12h.01M153.97 222.75h.01M147.43 226.85h.01M142.24 229.38h.01M134.98 230.85h.01M151.77 227.86h.01M143.24 227.24h.01M146.33 224.24h.01M144.02 228.82h.01M142.01 228.29h.01M144.93 229.79h.01M139.28 224.03h.01M141.68 232.02h.01M144.57 218.89h.01M138.04 235.43h.01M144.95 220.54h.01M139.61 227.16h.01M149.6 233.96h.01M141.94 225.12h.01M151.7 221.98h.01M150.18 228.06h.01M143.9 232.43h.01M145.56 222.65h.01M136.99 226.57h.01M145.69 232.8h.01M132.34 232.68h.01M146.15 233.49h.01M146.9 227.48h.01M145.35 228.34h.01M140.82 225.98h.01M144.05 224.42h.01M137.24 219.84h.01M145.66 228.9h.01M143.96 221.11h.01M147.14 224.7h.01M134.64 233.72h.01M137.13 236.89h.01M145.78 224.47h.01M133.46 223.26h.01M149.83 232.77h.01M144.61 218.61h.01M141.87 225.2h.01M145.48 225.92h.01M144.98 218.98h.01M140.75 233.15h.01M137.29 230.76h.01M153.37 229.51h.01M137.57 232.25h.01M135.58 228.06h.01M141.76 232.22h.01M148.54 227.38h.01M151.16 231.04h.01M141.46 221.97h.01M154.02 224.63h.01M145.26 225.97h.01M141.48 219.08h.01M142.88 225.97h.01M147.7 224.13h.01M136.82 221.55h.01M143.33 227.65h.01M146.6 224.73h.01M145.81 227.17h.01M150.72 226.24h.01M144.12 229.12h.01M148.71 222.25h.01M141.48 225.23h.01M134.39 232.52h.01M148.09 226.6h.01M157.88 232.38h.01M152.15 233.76h.01M147.37 219.96h.01M150.05 228.44h.01M138.39 226.75h.01M146.73 231.05h.01M144.25 224.09h.01M146.77 222.98h.01M143.17 230.03h.01M137.35 228.23h.01M135.13 222.21h.01M138.24 226.09h.01M146.56 226.27h.01M147.41 226.95h.01M142.62 228.78h.01M142.48 227.13h.01M147.95 223.86h.01M148.42 221.38h.01M142.56 218.47h.01M141.23 233.85h.01M145.03 232.38h.01M137.22 221.82h.01M145.5 230.33h.01M147.08 218.75h.01M145.69 226.17h.01M144.02 228.71h.01M142.3 218.67h.01M138.93 219.81h.01M137.87 225.88h.01M149.09 223.2h.01M140.23 221.18h.01M136.11 226.81h.01M141.42 225.39h.01M139.39 228.76h.01M138.36 229.04h.01M140.67 230.15h.01M139.7 228.55h.01M145.38 226.13h.01M150.5 227.31h.01M139.7 229.71h.01M139.97 224h.01M143.55 227.34h.01M150.8 218.41h.01M142.4 231.73h.01M142.82 227.99h.01M150.04 220.8h.01M143.69 230.18h.01M140.99 218.38h.01M139.22 227.4h.01M144.31 235.04h.01M149.19 219.33h.01M147.95 230.74h.01M150.44 225.79h.01M141.12 227.18h.01M150.13 229.39h.01M150.77 230.15h.01M140.98 221.81h.01M151.44 219.48h.01M142 225.03h.01M139.59 223.85h.01M143.53 237.53h.01M143.22 224.07h.01M144.03 230.86h.01M140 224.62h.01M136.01 229.76h.01M146.42 233.47h.01M138.36 236.59h.01M147.24 225.22h.01M141.82 225.06h.01M138.3 230.08h.01M140.9 223.15h.01M145.71 227.02h.01M141 225.41h.01M141.39 232.75h.01M147.8 223.13h.01M143.33 232.87h.01M142.27 234.77h.01M145.41 229.61h.01M134.59 230.44h.01M144.96 229.2h.01M145.56 228.95h.01M141.32 230.68h.01M143.77 221.63h.01M139.13 227.25h.01M144.94 216.25h.01M134.65 231.38h.01M136.92 225.35h.01M140.93 229.09h.01M149.55 234h.01M139.17 232.24h.01M138.28 227.93h.01M144.24 229.39h.01M140.07 232.72h.01M143.21 226.41h.01M142.36 221.54h.01M146.6 228.06h.01M145.46 235.17h.01M139.78 225.18h.01M143.53 230.48h.01M142.74 230.85h.01M145.46 218.31h.01M140.57 217.04h.01M142.27 224.56h.01M146.03 227.29h.01M143.23 232.38h.01M146.06 220.77h.01M140.54 228.03h.01M150.81 225.58h.01M142.77 227.74h.01M146.86 226.08h.01M144.77 224.54h.01M141.14 222.8h.01M146.33 223.91h.01M145.86 228.39h.01M147.68 214h.01M139.35 220.82h.01M142.8 230.25h.01M154.39 233.7h.01M149.33 228.28h.01M141.84 229h.01M134.14 230.84h.01M143.54 229.38h.01M139.08 221.4h.01M140.74 226.3h.01M145 224.85h.01M145 229.67h.01M138.51 226.03h.01M136.81 223.94h.01M147.39 223.17h.01M151.51 228.86h.01M147.32 226.99h.01M147.22 231.6h.01M143.96 224.03h.01M141.14 235.51h.01M142.71 224.37h.01M140.46 218.64h.01M141.35 228.02h.01M141.41 222.96h.01M145.26 228.65h.01M141.62 227.94h.01M139.32 230.52h.01M139.26 224.93h.01M144.08 224.54h.01M138.58 236.3h.01M150.02 218.36h.01M144.02 220.58h.01M144.84 220.42h.01M146 228.98h.01M150.85 232.13h.01M141.53 230.92h.01M141.53 225.97h.01M141.35 218.27h.01M146.09 217.01h.01M142.49 228.95h.01M143.99 219.14h.01M140.71 229.68h.01M148.23 233.95h.01" stroke="#222" stroke-width="0.5" stroke-linecap="round" fill="none" opacity="0.55"/>
<path d="M135.2 231.5C135 227 139.5 220.5 146 219.5C150.5 219.5 151 226 149.5 230C148 233.5 142 235 138.5 234.5C136.5 234 135.3 233 135.2 231.5Z" stroke="#222" stroke-width="0.6" fill="#fafafa"/>
<path d="M137.2 231C137.3 227.5 141 222.5 145.8 221.6C149 221.6 149.2 226.3 148 229.3C146.7 232 142.3 233.2 139.8 232.8C138.2 232.5 137.3 232 137.2 231Z" stroke="#777" stroke-width="0.45" fill="none"/>
<ellipse cx="143.8" cy="228" rx="3.6" ry="3" transform="rotate(-35 143.8 228)" fill="#dcdcdc" stroke="#555" stroke-width="0.45" opacity="1"/>
<ellipse cx="144.8" cy="229" rx="1.7" ry="1.35" transform="rotate(0 144.8 229)" fill="#fff" stroke="#222" stroke-width="0.8" opacity="1"/>
<path d="M137.68 215.24h.01M141.59 216.72h.01M138.05 212.31h.01M145.07 209.86h.01M141.94 208.23h.01M146.27 206.54h.01M140.32 211.39h.01M142.07 223.28h.01M143.8 208.95h.01M144.7 214.67h.01M143.83 212.68h.01M144.35 207.3h.01M139.48 210.93h.01M139.76 216.41h.01M148.69 219.02h.01M144.31 214.65h.01M140.99 206.68h.01M144.61 205.8h.01M143.89 212.31h.01M145.2 213.25h.01M143.31 210.17h.01M137.95 211.33h.01M145.04 218.09h.01M147.04 208.16h.01M140.25 216.41h.01M141.67 225.52h.01M143.92 205.61h.01M141.37 220.65h.01M137.65 213.74h.01M138.94 220.8h.01M141.69 207.98h.01M137.99 209.53h.01M135.51 210.69h.01M149.39 213.48h.01M142.22 207.35h.01M144 210.7h.01M140.52 219.74h.01M144.29 208.67h.01M147.34 212.73h.01M144.48 213.72h.01M146.46 216h.01M141.98 216.5h.01M141.85 213.65h.01M147.81 207.83h.01M139.97 211.05h.01M141.54 219.34h.01M138.33 224.18h.01M147.65 210.81h.01M143.55 211.24h.01M144.97 216.23h.01M145.21 216.73h.01M148.67 212.17h.01M145.05 212.09h.01M143.11 214.07h.01M142.85 214.69h.01M140.5 212.26h.01M141.23 207.31h.01M140.93 210.58h.01M142.56 205.39h.01M142.25 207.5h.01M140.6 213.92h.01M146.25 214.4h.01M141.57 210.86h.01M146.93 205.08h.01M146.34 205.68h.01M141.14 213.23h.01M142.35 221.11h.01M144.45 212.77h.01M145.8 213.18h.01M140.64 218.48h.01M147.4 219.25h.01M139.55 222.31h.01M141.78 216.75h.01M146.5 224.6h.01M138.26 208.02h.01M146.46 215.41h.01M142.08 198.72h.01M144.3 212.09h.01M135.33 226.07h.01M135.66 210.27h.01M142.99 214.14h.01M145.21 211.7h.01M140.37 211.24h.01M136.82 207.54h.01M148.8 209.65h.01M142.76 222.27h.01M146.09 213.6h.01M145.16 211.68h.01M140.34 217.89h.01M143.4 220.82h.01M142.23 211.17h.01M144.01 212.07h.01M142.08 208.63h.01M143.75 214.58h.01M148.38 212.87h.01M137.84 215.28h.01M149.73 210.85h.01M140.64 212.19h.01M134.59 211.36h.01M142.45 205.61h.01M144.7 208.72h.01M137.56 209.48h.01M144.87 222.39h.01M146.68 213.96h.01M141.5 211.73h.01M145.85 210.47h.01M144.23 217.73h.01M140.33 210.12h.01M144.32 213.04h.01M142.63 210.41h.01" stroke="#333" stroke-width="0.5" stroke-linecap="round" fill="none" opacity="0.55"/>
<path d="M113.13 229.72h.01M127.68 232.91h.01M111.19 195.22h.01M125.1 220.75h.01M115.75 195.8h.01M117.36 205.2h.01M121.11 237.17h.01M112.02 198.23h.01M123.67 199.63h.01M112.35 213.89h.01M130.67 208.95h.01M114.58 215.43h.01M110.9 212.3h.01M123.81 208.93h.01M126.11 202.93h.01M109.44 221.97h.01M117.87 234.48h.01M109.52 227.09h.01M123.08 210.93h.01M110.08 221.31h.01M125.2 215.32h.01M118.34 224.49h.01M121.63 213.2h.01M111.47 214.94h.01M120.2 233.55h.01M130.88 218.94h.01M114.89 204.58h.01M122.13 226.75h.01M112.95 224.69h.01M130.98 211.83h.01M129.53 213.77h.01M122.65 232.26h.01M111.88 209.86h.01M130.62 197.81h.01M114.35 215.49h.01M124.88 222.11h.01M129.32 223.79h.01M107.04 198.07h.01M107.88 213.56h.01M107.65 217.62h.01M122.18 203.7h.01M127.55 212.79h.01M130.04 210.39h.01M121.88 218.3h.01M113.31 228.53h.01M107.1 205.73h.01M114.7 232.93h.01M119.01 196.57h.01M114.18 221.21h.01M126.41 199.69h.01M125.7 211.79h.01M119.58 213.11h.01M117.52 237.59h.01M129.06 234.47h.01M124.66 225.11h.01M110.4 196.52h.01M126.94 223.94h.01M122.14 208.45h.01M113.41 234.6h.01M119.77 195.85h.01M115.17 210h.01M108.62 237.06h.01M128.67 230.03h.01M107.1 212.95h.01M109.68 226.21h.01M126.43 228.94h.01M126 200.2h.01M107.32 198.99h.01M127.22 230.66h.01M119.39 205.09h.01M127.57 200.18h.01M114.8 195.08h.01M130.59 212.85h.01M125.51 229.47h.01M120.94 237.44h.01M125.59 234.86h.01M130.12 198.53h.01M125.01 204.73h.01M114.79 209.69h.01M130.72 197.59h.01M117.44 200.51h.01M130.94 216.33h.01M123.85 217.37h.01M125.41 209.47h.01M116.92 227.01h.01M123.86 233.17h.01M114.42 231.47h.01M124.69 219.65h.01M116.8 219.38h.01M108.84 199.18h.01M114.47 200.3h.01M108.17 225.82h.01M124.55 221.48h.01M111.94 226.05h.01M126.82 221.63h.01M112.46 219.28h.01M116.47 206.57h.01M110.57 232.19h.01M122.18 235.1h.01M111.13 206.36h.01M119.22 197.54h.01M114.25 218.22h.01M118.56 234.11h.01M120.86 222.41h.01M121.04 228.77h.01M115.79 195.03h.01M130.53 229.07h.01M110.04 199.81h.01M112.33 223.3h.01M110.15 195.86h.01M118.86 195.26h.01M113.21 211.43h.01M111.93 195.11h.01M113.24 205.48h.01M114.78 212.82h.01M115.64 208.94h.01M107.46 231h.01M124.72 216.19h.01M107.07 205.03h.01M128.61 214.66h.01" stroke="#444" stroke-width="0.5" stroke-linecap="round" fill="none" opacity="0.5"/>
<line x1="132.3" y1="170.2" x2="132.3" y2="239.4" stroke="#000" stroke-width="1.45"/>
<line x1="105" y1="218.8" x2="177.2" y2="218.8" stroke="#000" stroke-width="1.45"/>
<line x1="129" y1="200.4" x2="185.6" y2="200.4" stroke="#000" stroke-width="1.5"/>
<path d="M184.6 197.1L191.4 200.4L184.6 203.7Z" stroke="none" stroke-width="0" fill="#000"/>
<text transform="translate(108.8,181.8)" font-size="6.2" text-anchor="start" fill="#111" stroke="#111" stroke-width="0.25">4.3</text>
<text transform="translate(113.7,237)" font-size="6.2" text-anchor="start" fill="#111" stroke="#111" stroke-width="0.25">55.4</text>
<text transform="translate(162.7,237)" font-size="6.2" text-anchor="start" fill="#111" stroke="#111" stroke-width="0.25">39.9</text>
<line x1="102.4" y1="176.98" x2="105" y2="176.98" stroke="#000" stroke-width="1.1"/>
<line x1="102.4" y1="193.31" x2="105" y2="193.31" stroke="#000" stroke-width="1.1"/>
<line x1="102.4" y1="208.68" x2="105" y2="208.68" stroke="#000" stroke-width="1.1"/>
<line x1="102.4" y1="225.56" x2="105" y2="225.56" stroke="#000" stroke-width="1.1"/>
<line x1="102.4" y1="233.03" x2="105" y2="233.03" stroke="#000" stroke-width="1.1"/>
<line x1="104" y1="172.28" x2="104" y2="237.32" stroke="#000" stroke-width="1.2" stroke-dasharray="0.5 1.6"/>
<line x1="112.69" y1="239.4" x2="112.69" y2="242" stroke="#000" stroke-width="1.1"/>
<line x1="120.81" y1="239.4" x2="120.81" y2="242" stroke="#000" stroke-width="1.1"/>
<line x1="137.7" y1="239.4" x2="137.7" y2="242" stroke="#000" stroke-width="1.1"/>
<line x1="154.59" y1="239.4" x2="154.59" y2="242" stroke="#000" stroke-width="1.1"/>
<line x1="172.28" y1="239.4" x2="172.28" y2="242" stroke="#000" stroke-width="1.1"/>
<line x1="107.17" y1="240.4" x2="175.32" y2="240.4" stroke="#000" stroke-width="1.2" stroke-dasharray="0.5 1.6"/>
<text transform="translate(103,178.88) scale(1.1800,1)" font-size="5.3" text-anchor="end" stroke="#000" stroke-width="0.3">10<tspan dy="-1.91" font-size="3.18">5</tspan></text>
<text transform="translate(103,195.35) scale(1.1800,1)" font-size="5.3" text-anchor="end" stroke="#000" stroke-width="0.3">10<tspan dy="-1.91" font-size="3.18">4</tspan></text>
<text transform="translate(103,210.58) scale(1.1800,1)" font-size="5.3" text-anchor="end" stroke="#000" stroke-width="0.3">10<tspan dy="-1.91" font-size="3.18">3</tspan></text>
<text transform="translate(103,227.67) scale(1.1800,1)" font-size="5.3" text-anchor="end" stroke="#000" stroke-width="0.3">10<tspan dy="-1.91" font-size="3.18">2</tspan></text>
<text transform="translate(101.2,234.93) scale(1.1800,1)" font-size="5.3" text-anchor="end" stroke="#000" stroke-width="0.3">0</text>
<text transform="translate(111.67,247.6) scale(1.1800,1)" font-size="5.3" text-anchor="middle" stroke="#000" stroke-width="0.3">0</text>
<text transform="translate(120.08,247.6) scale(1.1800,1)" font-size="5.3" text-anchor="middle" stroke="#000" stroke-width="0.3">10<tspan dy="-1.91" font-size="3.18">2</tspan></text>
<text transform="translate(137.62,247.6) scale(1.1800,1)" font-size="5.3" text-anchor="middle" stroke="#000" stroke-width="0.3">10<tspan dy="-1.91" font-size="3.18">3</tspan></text>
<text transform="translate(154.44,247.6) scale(1.1800,1)" font-size="5.3" text-anchor="middle" stroke="#000" stroke-width="0.3">10<tspan dy="-1.91" font-size="3.18">4</tspan></text>
<text transform="translate(171.77,247.6) scale(1.1800,1)" font-size="5.3" text-anchor="middle" stroke="#000" stroke-width="0.3">10<tspan dy="-1.91" font-size="3.18">5</tspan></text>
<rect x="105.4" y="251.5" width="73.1" height="67.9" stroke="#000" stroke-width="1.45" fill="#fff"/>
<ellipse cx="117" cy="287.6" rx="8.6" ry="8.2" transform="rotate(0 117 287.6)" fill="#6a6a6a" stroke="none" stroke-width="0" opacity="0.55" filter="url(#b12)"/>
<path d="M119.67 297.11h.01M110.33 287.45h.01M120.38 290.68h.01M111.27 282.03h.01M112 282.07h.01M126.86 288.54h.01M124.45 278.7h.01M124.91 291.75h.01M119.26 291.89h.01M120.17 297.69h.01M121.13 278.24h.01M108.03 296.08h.01M116.57 294.54h.01M119.76 290.79h.01M112.29 281.57h.01M106.93 285.87h.01M121.27 289.83h.01M122.75 282.34h.01M111.64 283.89h.01M110.55 284.55h.01M124.83 292h.01M117.42 294.69h.01M121.92 285.71h.01M111.26 290.62h.01M125.23 273.97h.01M117.79 280.83h.01M115.47 279.97h.01M130.36 283.87h.01M111.91 285.08h.01M118.07 296.85h.01M118.47 295.85h.01M111.53 287.88h.01M114.75 279.14h.01M136.16 286.21h.01M118.26 283.48h.01M114.04 281.98h.01M122.27 285.35h.01M110.7 288.74h.01M119.66 292.66h.01M113.46 292.69h.01M111.93 286.49h.01M116.05 292.43h.01M113.38 295.56h.01M107.74 287.91h.01M118.36 292.49h.01M112.86 290.65h.01M122.46 286.26h.01M112.61 281.85h.01M119.21 283.2h.01M129.74 290.54h.01M110.29 285.97h.01M124.85 291.13h.01M111.76 293.02h.01M114.56 299.31h.01M116.21 293.68h.01M119.28 296.83h.01M121.79 290.04h.01M118.69 279.15h.01M120.76 284.26h.01M119.31 281.89h.01M121.6 283.62h.01M122.45 296.94h.01M107.72 282.68h.01M120.47 292.52h.01M116.01 299.65h.01M115.97 281.15h.01M109.02 280.69h.01M123.7 285.42h.01M127.02 290.9h.01M121.06 292.41h.01M111.99 284.53h.01M115.71 280.93h.01M113.43 297.03h.01M127.9 282.93h.01M112.65 291.3h.01M116.64 296.4h.01M121.36 283.7h.01M121.54 291.14h.01M107.93 286.45h.01M118.65 291.52h.01M117.02 281.83h.01M121.58 289.97h.01M121.79 286.61h.01M110.56 286.83h.01M122.59 291.61h.01M120.86 280.25h.01M108.06 276.76h.01M127.2 285.39h.01M123.54 294.24h.01M117.45 281.41h.01M124.03 287.3h.01M121.9 292.9h.01M109.7 280h.01M116.07 298.3h.01M124.06 293.67h.01M122.33 283.31h.01M111.38 282.88h.01M117.83 281.04h.01M118.88 281h.01M108.66 298.39h.01M107.63 283.25h.01M113.24 291.74h.01M113.02 285.16h.01M108.9 288.92h.01M123.14 288.31h.01M114.24 294.22h.01M119.51 282.03h.01M114.06 284.26h.01M116.77 293.95h.01M117.58 281.17h.01M122.82 277.55h.01M123.63 290.8h.01M127.12 289.15h.01M114.97 283.08h.01M109.65 290.44h.01M119.65 291.85h.01M118.8 279.56h.01M117.82 291.57h.01M124.29 289.02h.01M106.4 282.08h.01M110.84 288.77h.01M115.86 293.42h.01M122.55 285.08h.01M121.86 287.57h.01M119.34 294.65h.01M111.1 287.14h.01M124.91 283.45h.01M114.86 280.57h.01M113.48 282.3h.01M122.56 288.82h.01M120.61 281.2h.01M122.39 283.68h.01M121.17 294.77h.01M126.27 282.58h.01M111.23 279.75h.01M121.95 290.65h.01M118.76 282.91h.01M123.44 296h.01M123.11 290.18h.01M123.91 285.36h.01M112.85 281.02h.01M124.34 282.3h.01M126.32 292.48h.01M123.44 286.83h.01M121.95 283.88h.01M113.46 294.56h.01M115.56 281.69h.01M116.13 293.07h.01M120.27 292.7h.01M115.13 301.78h.01M116.04 296.73h.01M106.54 288.44h.01M114.91 280.3h.01M109.36 288.38h.01M113.27 297.31h.01M111.34 284.82h.01M115.49 281.41h.01M112.08 292.06h.01M121.79 288.2h.01M133.66 291.88h.01M123.34 283.2h.01M122.57 296.4h.01M115.07 297.05h.01M112.87 281.52h.01M116.78 283.25h.01M120.28 281.67h.01M117.44 277.18h.01M116.85 293.05h.01M122.61 281.71h.01M110.48 287.93h.01M112.04 293.91h.01M111.05 286.13h.01M114.72 283.17h.01M127.35 283.05h.01M117.39 282.38h.01M115.03 299.83h.01M126.5 290.89h.01M124.14 285.14h.01M112.81 291.15h.01M112.06 283.34h.01M124.45 279.03h.01M118.35 279.83h.01M126.89 292.8h.01M113.14 292.11h.01M109.1 284.18h.01M121.82 295.12h.01M126.54 285.52h.01M120.18 274.82h.01M115.64 280.85h.01M121.25 278.76h.01M111.67 281.68h.01M119.06 291.92h.01M112.3 297.01h.01M117.85 283.11h.01M121.29 289.32h.01M128.26 293.67h.01M113.75 291.65h.01M120.93 282.23h.01M113.18 283.25h.01M115.92 294h.01M120.75 292.6h.01M118.67 282.02h.01M128.33 292.08h.01M124.01 296.03h.01M124.23 289.69h.01M109.31 291.79h.01M112.03 289.73h.01M111.84 291.27h.01M114.53 300.61h.01M112.39 285.99h.01M114.8 282.9h.01M114.41 282.63h.01M115.88 283.17h.01M110.61 289.36h.01M115.51 279.8h.01M114.51 283.3h.01M121.85 293.94h.01M119.89 279.97h.01M110.59 290.7h.01M113.9 282.65h.01M121.15 290.3h.01M121.74 285.76h.01M118.56 276.83h.01M113.5 291.23h.01M114.61 281.55h.01M129.82 283.74h.01M125.8 278.27h.01M126.74 298.22h.01M122.05 282.18h.01M112.93 283.55h.01M124.58 295.07h.01M107.52 282.51h.01M115.14 294.31h.01M115.36 297.53h.01M118.91 295.04h.01M122.26 290.51h.01M107.5 286.06h.01M113.8 296.64h.01M117.82 295.11h.01M115.42 281.39h.01M121.47 291.48h.01M121.82 285.54h.01M111.92 285.52h.01M122.08 282.73h.01M114.56 291.12h.01M121.67 299.11h.01M119.74 283.07h.01M111.74 283.37h.01M112.92 281.39h.01M124.63 287.06h.01M122.82 285.87h.01M120.01 282.22h.01M118.1 292.89h.01M123.11 290.74h.01M118.56 295.74h.01M120.67 294.83h.01M110.93 281.77h.01M114.86 282.54h.01M124.64 281.27h.01M117.6 280.22h.01M116.18 299.26h.01M129.48 284.93h.01M111.92 296.03h.01M112.7 278.18h.01M118.84 281.87h.01M109.67 293.39h.01M113.35 281.95h.01M122.79 288.01h.01M125.18 293.46h.01M126.15 293.37h.01M117.18 279.38h.01M111.08 291.38h.01M110.53 287.18h.01M111.79 288.82h.01M112.76 275.9h.01M117.45 280.76h.01M122.41 291.19h.01M124.61 280.09h.01M120.52 295.71h.01M119.09 281.72h.01M113.8 293.07h.01M116.17 281.67h.01M113.64 297.77h.01M112.78 291.04h.01M117.99 293.62h.01M115.66 282.58h.01M113.82 282.14h.01M130.28 288.53h.01M115.45 294.09h.01M122.81 296.14h.01M116.16 293.9h.01M119.04 291.61h.01M121.66 284.2h.01M117.74 294.75h.01M121.78 291.76h.01M116.76 280.03h.01M122.99 283.52h.01M114.28 278.07h.01M121.99 289.65h.01M115.8 293.43h.01M121.63 282.53h.01M116.68 278.32h.01M115.75 294.89h.01M112.83 291.83h.01M109.43 285.97h.01M121.87 296.48h.01M119.39 291.47h.01M125.81 274.77h.01M108.42 297.39h.01M129.61 290.64h.01M120.48 291.07h.01M122.06 290.58h.01M112.16 294.78h.01M126.58 281.81h.01M111.16 284.88h.01M119.21 291.66h.01M113.53 284.36h.01M117.75 280.5h.01M120.55 282.23h.01M115.23 282.3h.01M115.77 280.46h.01M119.8 291.02h.01M112.59 282.5h.01M115.98 282.79h.01M111.14 288.39h.01M120.9 284.35h.01M123.19 281.48h.01M116.22 294.31h.01M129.07 288.19h.01M110.96 286.75h.01M114.95 283.58h.01M123.12 283.45h.01M125.63 291.9h.01M120.32 284.45h.01M114.52 277.1h.01M119.54 279.71h.01M122.5 271.09h.01M123.56 285.69h.01M116.27 279.49h.01M112.05 291.22h.01M116.3 297.89h.01M121.56 280.63h.01M114.66 281.52h.01M110.09 283.95h.01M122.63 287.77h.01M116.7 297.56h.01M126.12 289.48h.01M120.11 277.12h.01M116.46 299.99h.01M113.06 291.76h.01M123.21 285.44h.01M124.63 293.7h.01M117.02 301.08h.01M115.89 282.92h.01M121.55 279.26h.01M110.04 283.47h.01M113.12 295.39h.01M117.34 293.62h.01M116.96 277.89h.01M114.4 293.69h.01M124.2 287.13h.01M106.23 297.1h.01M116.21 300.94h.01M115 292.75h.01M113.97 294.69h.01M122.88 281.94h.01M123.56 302.47h.01M115.95 281.18h.01M109.55 282.02h.01M118.29 279.54h.01M122.48 289.86h.01M116.16 294.84h.01M112.43 291.09h.01M110.27 285.8h.01M124.69 294.32h.01M109.81 296.5h.01M126.45 276.22h.01M116.87 293.61h.01M120.33 290.88h.01M124.43 293.35h.01M120.36 277.7h.01M114.44 283.8h.01M129.39 291.37h.01M119.07 299.3h.01M123.22 291.85h.01M121.68 293.85h.01M122.07 281.99h.01M114.38 280.48h.01M127.06 291.7h.01M118.15 281.11h.01M111.9 284.11h.01M117.22 280.84h.01M115.91 293.91h.01M106.58 286.08h.01M110.13 287.13h.01M111.93 284.63h.01M109.07 287.01h.01M121.6 283.08h.01M118.67 279.53h.01M115.11 292.15h.01M125.46 287.38h.01M111.43 293.57h.01M107.96 277.61h.01M109.45 295.31h.01M118.51 283.03h.01M122.81 295.21h.01M112.84 290.04h.01M108.82 289.47h.01M126.12 280.07h.01M118.45 292.19h.01M119.61 293.01h.01M122.12 293.29h.01M115.18 283.07h.01M126.82 289.04h.01M117.27 276.42h.01M115.89 291.57h.01M124.4 285.86h.01M115.87 293.04h.01M125.48 285.89h.01M120.31 279.2h.01M123.38 289.17h.01M122.37 298.28h.01M118.05 283.21h.01M120.24 291.59h.01M118.57 280.93h.01M118.41 282.83h.01M115.96 281.17h.01M121.8 280.72h.01M121.71 294.68h.01M122.66 288.96h.01M116.6 296.68h.01M115.46 279.46h.01M111.9 281.09h.01M126.91 288.1h.01M120.93 284.43h.01M109.51 286.56h.01M123.73 283.98h.01M108.14 286.59h.01M111.86 285.87h.01M114.35 292.15h.01M117.81 292.09h.01M116.8 276.26h.01M107.32 290.32h.01M121.41 292.11h.01M116.68 278.09h.01M123.91 285.69h.01M114.26 283.42h.01M122.12 292.08h.01M107.97 293.9h.01M112.47 279.75h.01M109.13 283.67h.01M128.59 300.96h.01M110.87 283.96h.01M114.68 279.15h.01M108.14 288.26h.01M109.77 278.35h.01M124.6 292.46h.01M124.26 288.13h.01M110.26 291.41h.01M107.76 286.92h.01M125.15 295.14h.01M121.41 285.65h.01M118.03 293.02h.01M113.74 275.27h.01M110.18 291.01h.01M122.42 287.51h.01M115.05 293.78h.01M123.01 292.69h.01M112.03 288.2h.01M112.26 286.25h.01M125.07 286.3h.01M111.14 290.06h.01M112.15 292.31h.01M121.59 290.53h.01M122.23 287.05h.01M108.3 287.16h.01M120.24 279.35h.01M110.98 293.28h.01M119.24 294.61h.01M119.2 291.98h.01M129.08 283.46h.01M109.51 280.68h.01M122.28 285.36h.01M118.45 279.84h.01M122.48 290.79h.01M110.78 282.4h.01M119.9 293.81h.01M122.62 275.05h.01M114.39 282.35h.01M111.91 290.48h.01M120.98 284.48h.01M121.75 282.6h.01M125.88 280.62h.01M115.63 281.78h.01M117.26 294.45h.01M113.31 296.89h.01M124.13 289.54h.01M114.12 292.28h.01M121.88 287.29h.01M129.52 283.93h.01M110.39 286.36h.01M119.97 296.52h.01M108.23 288.34h.01M123.41 283.94h.01M114.78 281.09h.01M120.92 291.89h.01M122.05 286.86h.01M120.67 291.83h.01M123.61 290.22h.01M109.27 278.17h.01M125.21 288.23h.01M111.77 284.42h.01M113.22 292.78h.01M108.48 302.36h.01M111.61 296.31h.01M120.44 278.58h.01M110.89 287.82h.01M111.29 287.82h.01M128.56 284.07h.01M111.95 291.02h.01M123.87 293.04h.01M119.09 293.25h.01M116.05 297.01h.01M110.83 298.15h.01M113.29 297.25h.01M123.23 292.34h.01M127.65 277.96h.01M116.36 280.47h.01M119.91 290.74h.01M127.86 292.47h.01M117.15 281.4h.01M130.95 283.91h.01M118.07 291.48h.01M119.64 294.59h.01M111.8 283.83h.01M117.96 280.94h.01M113.94 294.87h.01M116.9 281.76h.01M121.1 280.68h.01M123.62 285.7h.01M118.55 282.87h.01M126.34 294.87h.01M127.85 292.27h.01M123.99 284.27h.01M123.75 285.17h.01M116.82 280.23h.01M116.75 281.59h.01M121.71 292.38h.01M116.62 291.69h.01M122.14 282.24h.01M116.89 277.55h.01M111.75 289.79h.01M112.55 289.6h.01M118.93 276.46h.01M114.56 295.63h.01M113.44 278.92h.01M108.86 302.91h.01M116.12 282.84h.01M117.64 277.12h.01M124.29 296.68h.01M112.41 292.1h.01M123.82 290.31h.01M115.38 279.35h.01M108.83 293.96h.01M123.57 288.29h.01M129.98 290.62h.01M113.54 282.16h.01M107.32 285.03h.01M109.19 277.54h.01M112.19 276.59h.01M124.19 294.21h.01M112.04 298.52h.01M120.49 273.91h.01M117.17 282.13h.01M108.02 286.1h.01M123.05 289.89h.01M109.47 283.93h.01M113.12 293.67h.01M116.55 282.23h.01M112.32 276.88h.01M112.67 292.33h.01M107.12 288.54h.01M116.47 291.9h.01M111.1 292.41h.01M125.14 299.85h.01M108.58 287.33h.01M111.91 292.13h.01M129.26 295.62h.01M112.08 284.39h.01M113.07 294.17h.01M119.75 293.03h.01M116.13 294.41h.01M114.62 281.46h.01M117.01 279.96h.01M123.58 291.46h.01M108.27 288.42h.01M121.47 285.56h.01M119.56 282.27h.01M111.14 289.28h.01M114.41 280.41h.01M115.16 294.33h.01M108.2 296.91h.01M112.05 277.5h.01M120.41 290.51h.01M120.69 291.78h.01M111.51 294.08h.01M131.02 284.44h.01M110.45 291.21h.01M121.81 292.98h.01M125.05 280h.01M123.56 282.67h.01M116.23 277.92h.01M115.01 268.28h.01M113.39 283.96h.01M112.47 296.18h.01M121.86 286.49h.01M120.17 305.34h.01M111.95 290.07h.01M113.89 295.55h.01M122.82 286.83h.01M120.22 283.18h.01M108.74 292.07h.01M125.58 285.85h.01M114.27 277.79h.01M128.25 281h.01M111.95 286.44h.01M123.36 287.79h.01M111.21 294.79h.01M113.39 280.35h.01M121.3 279.53h.01M110.38 288.47h.01M119.02 281.55h.01M111.08 288.45h.01M116.26 278.73h.01M112.43 295.55h.01M111.48 293.19h.01M109 295.56h.01M125.39 284.06h.01M113.45 290.91h.01M110.53 290.49h.01M123.38 288.93h.01M122.26 283.06h.01M125.33 287.37h.01M115.31 278.64h.01M123.51 278.75h.01M110.75 287.52h.01M113.04 292.22h.01M107.06 276.93h.01M117.68 282.26h.01M111.52 283.51h.01M116.72 282.94h.01M114.81 282.84h.01M118.23 281.33h.01M122.03 283.48h.01M111.05 279.42h.01M120.97 284.11h.01M122.16 287.07h.01M115.57 277.41h.01M113.47 291.78h.01M113.82 291.18h.01M108.41 293h.01M131.54 293.55h.01M118.68 280.81h.01M114.25 283.95h.01M117.97 276.55h.01M112.49 291.79h.01M117.77 291.52h.01M121.46 281.3h.01M109.97 290.02h.01M112.75 293.02h.01M119.59 293.69h.01M115.15 291.25h.01M116.69 282.4h.01M116.58 278.53h.01M120.63 281.79h.01M110.07 283.54h.01M130.66 288.28h.01M113.04 283.81h.01M126.23 281.19h.01M113.17 283.6h.01M108.24 282.95h.01M123.78 295.17h.01M115.53 291.31h.01M116.29 294.08h.01M115.78 292.56h.01M113.9 283.61h.01M123.59 289.43h.01M124.38 289.89h.01M127.87 292.43h.01M121.13 290.13h.01M125.19 279.26h.01M117.15 279.81h.01M111.63 284.24h.01M113.61 282.25h.01M109.08 293.66h.01M115.33 292.73h.01M111.24 274.93h.01M113.9 292.27h.01M111.38 295.04h.01M119.26 293.19h.01M115.55 294.43h.01M112.26 281.03h.01M115.48 292.05h.01M125.27 280.64h.01M118.34 282.28h.01M121.37 290.43h.01M120.38 297.32h.01M115.09 293.42h.01M124.54 290.16h.01M107.69 286.65h.01M115.47 278.73h.01M116.68 291.59h.01M124.66 284.17h.01M112.08 287.71h.01M122.84 290.71h.01M123.43 292.29h.01M107.95 289.3h.01M120.19 284.09h.01M110.27 285.87h.01M107.87 290.55h.01M114.33 277.92h.01M116.89 293.9h.01M110.37 285.57h.01M126.46 288.5h.01M121.06 282.06h.01M116.48 278.65h.01M108.74 279.16h.01M121.4 289.17h.01M120.81 294.08h.01M111.45 286.01h.01M120.07 291.94h.01M119.9 292.72h.01M121.38 295.04h.01M120.27 284.14h.01M129.13 293.6h.01M123.51 291.45h.01M117.25 281.3h.01M114.91 275.93h.01M125.07 281.17h.01M111.26 290.02h.01M119.95 283.2h.01M108.55 299.2h.01M114.99 282.13h.01M120.91 290.67h.01M113.78 300.22h.01M118.66 280.44h.01M114.92 297.51h.01M121.58 285.28h.01M113.98 279.37h.01M113.66 279.04h.01M122.94 290.28h.01M124.93 293.98h.01M116.45 281.82h.01M119.25 292.69h.01M108.92 280.81h.01M120.58 284.5h.01M124.6 288.67h.01M114.12 280.3h.01M120.12 278.17h.01M110.19 280.39h.01M125.88 296.73h.01M120.65 294.24h.01M112.78 299.42h.01M115.91 293.63h.01M113.36 298.25h.01M115.87 280.59h.01M127.17 283.78h.01M116.98 280.72h.01M114.01 283.6h.01M109.65 294.03h.01M121.66 279.96h.01M110.91 289.7h.01M128.82 286.38h.01M122.65 292.82h.01M119.88 296.03h.01M132.54 277.03h.01M108.85 274.73h.01M118.86 281.7h.01M122.54 276.12h.01M111.35 293.55h.01M111.93 281.8h.01M119.31 294.7h.01M110.15 285.23h.01M119.35 293.14h.01M120.71 281.07h.01M117.18 292.37h.01M110.82 288.39h.01M124.84 293.93h.01M125.52 292.46h.01M114.39 293.47h.01M117.1 281.09h.01M127.68 271.77h.01M122.16 293.53h.01M124.61 295.95h.01M122.31 287.35h.01M110.41 285.03h.01M120.46 290.81h.01M111.22 293.99h.01M118.61 279.35h.01M119.44 292.95h.01M112.81 293.57h.01M114.91 281.9h.01M107.2 285.63h.01M122.79 291.63h.01M113.44 295.77h.01M115.81 282.04h.01M122.11 295h.01M114.96 280.88h.01M116.66 274.33h.01M117.28 295.76h.01M118.43 283.52h.01M120.7 284.82h.01M123.61 285.55h.01M127.64 285.59h.01M118 282.41h.01M110.32 289.36h.01M118.83 282.23h.01M119.06 291.43h.01M123.46 289.56h.01M113.2 283.79h.01M118.93 281.02h.01M122.43 296.37h.01M121.61 292.97h.01M111.42 293.11h.01M123.76 280.16h.01M130.19 284.43h.01M117.33 283.16h.01M114.01 293.3h.01M123.01 282.42h.01M112.57 284.45h.01M113.1 291.23h.01M115.8 281.8h.01M114.6 276.75h.01M119.08 282.44h.01M110.66 290.67h.01M114.51 298.34h.01M117 283.34h.01M112.57 290.7h.01M115.9 283.23h.01M113.22 292.55h.01M117.45 293.2h.01M116.91 281.1h.01M121.52 289.22h.01M111.93 291.99h.01M110.85 285.25h.01M110.86 291.58h.01M120.39 284.33h.01M122.07 282.45h.01M117.13 282.14h.01M113.44 294.89h.01M106.53 282.55h.01M119.54 291.69h.01M112.91 276.53h.01M108.05 289.48h.01M122.74 292.4h.01M113.18 294.8h.01M116 296.1h.01M114.31 275.9h.01M118.44 283.62h.01M115.79 281.37h.01M118.25 296.37h.01M106.6 290.29h.01M119.25 281.25h.01M111.78 291.39h.01M126.93 291.13h.01M121.04 293.25h.01M116.33 292.75h.01M120.66 294.55h.01M117.71 291.83h.01M113.02 292.22h.01M110.5 284.1h.01M116.77 292.55h.01M106.78 291.33h.01M118 281.41h.01M121.44 289.63h.01M119.26 282.24h.01M111.26 292.38h.01M124.27 289.46h.01M108.12 292.79h.01M116.51 294.12h.01M113.27 293.15h.01M113.3 290.64h.01M124.11 283.72h.01M112.15 288.57h.01M120.33 283.67h.01M121.26 284.84h.01M123.43 285.46h.01M113.44 293.24h.01M124.26 284.01h.01M120.02 281.26h.01M120.65 280.78h.01M114.36 283.81h.01M117.52 280.91h.01M110.1 302.63h.01M118.1 279.44h.01M121.29 280.46h.01M107.29 296.43h.01M123.44 283.01h.01M111.38 290.03h.01M127.46 290.71h.01M120.4 281.16h.01M107.83 289.57h.01M122.21 288.23h.01M116.97 294.89h.01M112.67 293.36h.01M121.27 284.16h.01M119.99 282.28h.01M114.43 293h.01M112.48 281.38h.01M126.26 289.36h.01M115.64 296.31h.01M120.62 278.63h.01M123.83 288.62h.01M121.37 281.35h.01M112.65 284.04h.01M119.83 281.51h.01M113.37 292.57h.01M112.4 278.45h.01M109.67 292.67h.01M121.19 292.2h.01M114.38 281.4h.01M111.9 283.59h.01M125.52 286.03h.01M116.06 282.33h.01M114.52 279.55h.01M106.39 294.61h.01M111.6 289.79h.01M120.71 284.55h.01M121.95 292.57h.01M117.33 293.3h.01M119.57 295.75h.01M116.37 279.3h.01M115.62 280.86h.01M125.75 283.39h.01M111.54 279.12h.01M124.51 290.66h.01M113.28 280.91h.01M111.29 287.06h.01M121.42 284.95h.01M125.15 297.72h.01M117.8 276.03h.01M122.55 286.98h.01M120.39 292.71h.01M111.86 287.83h.01M117.89 283.51h.01M114.93 297.43h.01M117.84 296.13h.01M116.2 292.98h.01M122.49 275.99h.01M122.53 288.44h.01M116.6 280.72h.01M131.94 283.59h.01M115.34 283.67h.01M110.19 293.07h.01M106.26 284.73h.01M119.05 282.3h.01M107.01 291.34h.01M115.35 293.14h.01M109.71 285.58h.01M113.28 294.05h.01M108.36 292.33h.01M109.15 284.46h.01M109.8 283.8h.01M113.98 291.12h.01M125.87 288.33h.01M111.12 286.54h.01M122.82 293.59h.01M127.14 290.26h.01M120.37 283.22h.01M113.92 292.29h.01M117.7 281.53h.01M114.01 271.18h.01M116.95 281.02h.01M116.7 281.2h.01M112.26 284.76h.01M131.1 281.2h.01M110.95 284.64h.01M122.35 291.71h.01M117.62 283.41h.01M116.04 283.22h.01M109.59 282.23h.01M126.75 289.58h.01M114.67 293.93h.01M113.49 283.4h.01M117.68 278.83h.01M112.32 292.82h.01M121.34 293.37h.01M123.45 286.3h.01M123.82 283.73h.01M118.86 296.05h.01M113.19 284.03h.01M113.91 278.96h.01M128.13 284.95h.01M117.67 296.24h.01M124.11 288.37h.01M110.15 292.15h.01M116.67 293.65h.01M120.27 283.62h.01M113.6 299.6h.01M112.55 292.41h.01M120.4 291.8h.01M123.87 280.39h.01M121.78 276.59h.01M122.16 293.21h.01M112.21 286.03h.01M112.79 283.98h.01M122.75 294.67h.01M120.74 296.38h.01M117.39 281.73h.01M122.14 293.9h.01M112.4 292.54h.01M121.58 295.32h.01M108.61 284.07h.01M128.61 289.88h.01M114.11 277.77h.01M112.09 290.23h.01M119.93 284.29h.01M125 281.53h.01M108.29 292.27h.01M123.37 288.36h.01M116.58 295.13h.01M121.26 295.89h.01M120.77 283.44h.01M121.62 292.63h.01M115.32 280.81h.01M116.47 291.53h.01M115.1 275.62h.01M112.88 293.25h.01M118.06 293.44h.01M111.86 283.37h.01M110.32 285.42h.01M109.36 279.55h.01M110.05 281.67h.01M124.9 294.78h.01M123.29 284.41h.01M120.08 281.47h.01M108.84 288.54h.01M120.03 276.5h.01M111.2 290.51h.01M125.22 288.87h.01M120.67 297.34h.01M108.13 286.28h.01M119.13 300.8h.01M110.52 282.96h.01M107.56 280.17h.01M112.29 286.33h.01M112.85 290.79h.01M114.6 280.97h.01M114.56 299.13h.01M116.85 292.06h.01M119.85 295.35h.01M115.27 282.68h.01M122.17 292.39h.01M113.57 293.33h.01M126.22 290.32h.01M117.92 293.11h.01M119.22 283.47h.01M114.97 275.74h.01M109.29 298.32h.01M118.57 275.54h.01M118.17 292.74h.01M117.87 280.51h.01M121.82 284.66h.01M115.38 298.38h.01M116.21 298.97h.01M119.21 280.87h.01M124.2 294.34h.01M129.87 283.94h.01M114.7 299.96h.01M112.37 289.4h.01M125.08 282.08h.01M115.15 283.51h.01M119.29 298.3h.01M123.57 287.9h.01M123.52 288.78h.01M122.78 288.47h.01M112.24 282.93h.01M119.09 297.58h.01M126.39 285.8h.01M129.63 281.53h.01M112.61 292.49h.01M109.17 292.39h.01M110.79 289.55h.01M122.15 287.63h.01M110.01 286.65h.01M119.46 283.43h.01M106.97 279.18h.01M123.61 286.3h.01M113.02 294.15h.01M116.03 279.41h.01M114.68 282.76h.01M115.98 282.59h.01M116.12 291.95h.01M113.26 291.54h.01M123.28 286.46h.01M111.99 285.84h.01M107.88 284.58h.01M110.83 286.58h.01M111.15 291.06h.01M123.56 293.48h.01M110.06 289.75h.01M108.63 291.58h.01M116.9 282.3h.01M116.89 299.98h.01M122.08 289.25h.01M109.84 290.84h.01M119.85 273.17h.01M116.13 294.96h.01M115.76 298.76h.01M112.52 284.66h.01M118.47 294.82h.01M122.74 289.77h.01M115.75 292.92h.01M110.46 281.89h.01M114.59 282.31h.01M113.17 293.95h.01M110.21 286.19h.01M113.99 282.15h.01M109.33 287.89h.01M114.93 293.43h.01M126.42 285.92h.01M119.34 292.55h.01M112.05 290.06h.01M116.77 293.68h.01M112.57 280.36h.01M118.33 291.35h.01M122.7 288.95h.01M114.57 282.54h.01M110.99 283.6h.01M115.46 281.86h.01M111.63 280.2h.01M115.62 295.84h.01M117.69 282.09h.01M120.92 284.01h.01M123.27 282.12h.01M112.3 291.3h.01M128.59 289.43h.01M123.63 288.88h.01M124.56 283.98h.01M123.68 278.98h.01M114.43 294.11h.01M126.49 291.96h.01M114.82 283.55h.01M106.63 289.55h.01M121.52 293.48h.01M118.2 299.15h.01M120.94 275.02h.01M112.41 291.82h.01M114.9 292.03h.01M130.17 283.38h.01M128.36 287.07h.01M109.37 288.03h.01M121.62 284.36h.01M125.11 282.79h.01M115.96 292.48h.01M125.9 294.84h.01M126.64 287.35h.01M108.39 287.28h.01M114.84 282.12h.01M117.24 292.45h.01M112.25 293.7h.01M123.4 280.82h.01M125.23 283.62h.01M119.03 293.38h.01M121.74 279.04h.01M117.82 293.64h.01M117.34 296.38h.01M114.17 282.41h.01M111.25 284.64h.01M116.55 278.22h.01M108.83 291.18h.01M120.73 280.18h.01M121.84 274.36h.01M129.02 290.69h.01M108.38 290.27h.01M116.46 282.62h.01M119.73 280.31h.01M114.43 295.97h.01M120.7 296.43h.01M109.98 281.89h.01M115.04 281.83h.01M111.33 283.74h.01M116.02 292h.01M119.9 278h.01M124.73 285.72h.01M111.79 287.34h.01M114.91 279.99h.01M125.09 284.37h.01M125.7 290.12h.01M112.32 289.87h.01M122.75 289.56h.01M116.64 278.4h.01M113.26 281.36h.01M117.03 295.59h.01M112.16 287.02h.01M123.05 283.3h.01M112.91 294.07h.01M121.33 283.49h.01M119.26 280.61h.01M112.98 290.8h.01M115.36 283.15h.01M121.07 290.75h.01M113.03 291.12h.01M125.18 285.99h.01M111.94 288.89h.01M109.67 288.83h.01M121.65 291.29h.01M120.27 293.99h.01M112.69 294.13h.01M118.08 282.12h.01M118.72 294.81h.01M128.4 285.71h.01M112.7 292.52h.01M114.83 283.23h.01M111.45 293.93h.01M111.45 288.06h.01M120.15 293.21h.01M115.12 281.2h.01M109.26 287.55h.01M109.71 284.02h.01M113.12 291.17h.01M119.69 277.1h.01M115.78 294.35h.01M116.34 280.88h.01M128.39 286.81h.01M124.31 293.76h.01M123.16 292.68h.01M120.66 295.03h.01M121.22 282.7h.01M115.6 282.37h.01M117.63 292.04h.01M120.56 283.75h.01M108.18 283.84h.01M128.53 283.85h.01M119.47 283.41h.01M120.6 280.73h.01M121.97 288.53h.01M114.91 281.09h.01M125.71 284.42h.01M124.52 274.54h.01M110.73 297.33h.01M126.31 287.65h.01M122.21 290.83h.01M111.01 280.31h.01M117.65 291.49h.01M117.83 280.93h.01M115.61 293.24h.01M124.16 281.07h.01M111.22 292.79h.01M111.89 293.02h.01M110.31 283.75h.01M115.6 293.83h.01M113.61 293.68h.01M122.63 292.28h.01M128.77 287.52h.01M118.67 294.14h.01M119.12 292.92h.01M116.32 295.2h.01M118.84 277.26h.01M122.66 286.54h.01M112.39 285.96h.01M115.53 293.75h.01M116.92 282.73h.01M115.82 281.3h.01M114.91 292.97h.01M110.81 292.32h.01M128.72 290.32h.01M120.58 300.82h.01M110.68 290.4h.01M108.36 287.15h.01M119.08 278.97h.01M111.78 290.98h.01M125.57 289.82h.01M122.37 291.67h.01M123.92 285.29h.01M116.23 280.17h.01M107.29 283.19h.01M121.68 289.54h.01M118.36 294.64h.01M107.78 294.99h.01M117.43 291.75h.01M124.21 283.22h.01M112.46 289.75h.01M125.88 281.98h.01M125.26 282.39h.01M114.57 296.87h.01M114.95 282.33h.01M123.37 295.7h.01M116.21 283.55h.01M109.93 291.12h.01M121.86 286.4h.01M123.38 282.58h.01M126.99 292.72h.01M114.88 302.31h.01M124.52 296.06h.01M110.76 286.98h.01M119.46 293.2h.01M117.4 280.63h.01M123.38 286.67h.01M116.41 280.22h.01M120.49 284.22h.01M107.74 289.78h.01M116.82 292.7h.01M121.28 281.08h.01M117.47 281.93h.01M117.4 292.82h.01M123.48 295.37h.01M120.96 274.08h.01M115.87 294.91h.01M126.53 291.95h.01M122.1 291.41h.01M113.42 292.67h.01M120.79 290.67h.01M107.03 287.4h.01M112.69 278.8h.01M110.47 289.73h.01M112.2 296.14h.01M109.45 288.27h.01M116.52 282.73h.01M122.36 289.49h.01M122.66 284h.01M110.52 281.23h.01M108.8 277.46h.01M125.17 285.01h.01M116.25 295.97h.01M107.94 282.29h.01M117.7 282.71h.01M120.61 294.46h.01M121.66 291.55h.01M116.15 292.9h.01M112.82 281.2h.01M123.39 282.29h.01M122.97 283.4h.01M110.41 278.5h.01M116.82 279.84h.01M114.92 277.26h.01M107.69 291.23h.01M116.89 283.4h.01M121.1 283.92h.01M118.89 292.74h.01M123.82 296.05h.01M122.34 288.31h.01M119.75 303.48h.01M120.44 283.13h.01M124.94 279.06h.01M122.24 280.72h.01M111.32 284.86h.01M115.52 280.34h.01M124.01 282.11h.01M107.56 291.2h.01M115.83 292.74h.01M117.47 297.96h.01" stroke="#111" stroke-width="0.5" stroke-linecap="round" fill="none" opacity="0.55"/>
<ellipse cx="117.3" cy="287.1" rx="5" ry="4.2" transform="rotate(-8 117.3 287.1)" fill="#fff" stroke="#444" stroke-width="0.4" opacity="1"/>
<ellipse cx="118" cy="308" rx="10.5" ry="5.2" transform="rotate(-14 118 308)" fill="#777" stroke="none" stroke-width="0" opacity="0.55" filter="url(#b12)"/>
<path d="M107.7 302.44h.01M116.33 314.49h.01M127.42 299.86h.01M112.01 301.64h.01M111.3 305.57h.01M122.06 311.88h.01M133.89 302.53h.01M123.8 307.52h.01M120.81 315.6h.01M124.37 313.12h.01M120.93 310.99h.01M121.37 306.77h.01M112.86 307.58h.01M117.72 306.46h.01M114.98 305.76h.01M123.61 305.58h.01M116.99 307.34h.01M126.4 303.63h.01M126.76 302.15h.01M129.03 307.89h.01M115.13 310.69h.01M124.8 302.25h.01M116.79 309.66h.01M116.3 307.2h.01M118.46 309.24h.01M124.78 312.65h.01M117.57 315.73h.01M115.69 302.38h.01M114.71 307.37h.01M123.27 298.07h.01M113.58 308.56h.01M122.88 308.5h.01M123.69 305.92h.01M117.64 313.28h.01M130.1 306.63h.01M118.22 304.3h.01M132.72 306.06h.01M120.61 300.5h.01M124.58 316.78h.01M116.71 307.47h.01M128.26 304.66h.01M125.71 314.41h.01M109.25 306.65h.01M122.76 307.34h.01M118.13 307.27h.01M119.25 309.23h.01M114.52 307.7h.01M118.51 303.24h.01M118.83 298.42h.01M122.24 306.44h.01M111.41 315.43h.01M112.15 318.33h.01M114.31 314.13h.01M119.21 314.63h.01M117.56 312.54h.01M113.97 301h.01M121.15 309.27h.01M122.43 314.08h.01M111.6 303.49h.01M119.06 304.78h.01M117.33 308.18h.01M113.59 313.8h.01M119.02 315.44h.01M120.79 311.85h.01M115.4 305.84h.01M113.57 305.35h.01M121.2 307.81h.01M109.18 303.62h.01M110.39 302.09h.01M110.52 303.38h.01M121.64 302.14h.01M113.93 308.51h.01M118.68 309.66h.01M123.84 309.32h.01M116.97 313.63h.01M119.83 304.52h.01M126.95 300.71h.01M122.49 312.28h.01M119.16 309.21h.01M119.53 310.49h.01M119.56 307.66h.01M120.88 299.17h.01M119.44 306.36h.01M131.56 305.88h.01M114.25 311.76h.01M114.26 303.86h.01M116.66 310.5h.01M127.1 310.24h.01M119.42 306.97h.01M120.61 312.56h.01M118.36 312.9h.01M112.67 309.29h.01M123.96 309.54h.01M118.87 305.59h.01M111.93 307.8h.01M127.89 302.25h.01M123.72 306.5h.01M110.72 310.3h.01M121.89 301.96h.01M109.86 308.41h.01M122.31 304.37h.01M121.34 309.15h.01M118.57 309.8h.01M126.36 305.11h.01M119.15 303.16h.01M113.09 308.81h.01M122.82 303.94h.01M109.65 314.06h.01M131.35 293.65h.01M111.04 310.27h.01M120.34 303.37h.01M121.38 311.87h.01M116.93 311.4h.01M117.96 304.04h.01M113.32 306.56h.01M128.08 310.45h.01M118.08 301.3h.01M114.36 307.2h.01M118.61 302.19h.01M114.72 306.88h.01M131.02 307.6h.01M123.25 307.07h.01M110.41 313.85h.01M111.6 301.38h.01M122.54 305.4h.01M118.54 310.07h.01M116.89 310.04h.01M126.3 304.56h.01M115.69 308.66h.01M121.93 305.32h.01M117.88 305.12h.01M118.07 310.31h.01M112.4 308.63h.01M107.61 307.61h.01M119.08 310h.01M111.07 309.31h.01M112.17 310.81h.01M120.22 309.35h.01M115.2 302.62h.01M112.97 303.55h.01M113.47 308.89h.01M124.54 303.62h.01M113.1 310.1h.01M108.83 314.63h.01M125.49 310.25h.01M118.06 311.12h.01M116.71 312.43h.01M112.88 305.8h.01M120.08 305.56h.01M121.61 303.44h.01M118.81 303.61h.01M119.5 316.8h.01M109.66 304.84h.01M107.19 309.73h.01M128.3 303.52h.01M124 305.73h.01M115.84 317.11h.01M123.32 298.84h.01M111.96 311.27h.01M122.1 306.03h.01M120.63 309.64h.01M116.7 312.58h.01M113.16 312.43h.01M124.27 307.31h.01M115.72 308.49h.01M106.61 302.25h.01M122.14 303.08h.01M120.41 307.6h.01M116.7 310.33h.01M117.22 302.82h.01M114.63 309.29h.01M109.19 308.32h.01M112.28 300.38h.01M130.26 308.69h.01M115.9 312.57h.01M112.67 315.86h.01M115.7 309.18h.01M114.3 309.32h.01M120.22 307.59h.01M113.32 312.4h.01M121.69 307.09h.01M124.2 303.32h.01M126.27 305.26h.01M127.55 303.74h.01M116.56 309.26h.01M126.66 311.98h.01M114.28 305.83h.01M124.27 311.73h.01M122.31 305.53h.01M126.37 305.81h.01M119.74 310.22h.01M112.01 299.85h.01M120.17 310.52h.01M121.43 309.46h.01M120.12 311.92h.01M120.26 313.8h.01M119.14 311.12h.01M114.69 310.11h.01M120.95 307.86h.01M128.21 305.65h.01M125.75 307.57h.01M124.29 302.6h.01M116.58 312.47h.01M113.03 310.92h.01M121.93 307.86h.01M121.43 309.46h.01M116.87 310.04h.01M114.16 307.04h.01M107.48 310.19h.01M106.87 310.9h.01M118.31 303.29h.01M118.76 309.05h.01M114.8 304.92h.01M117.69 309.83h.01M126.03 314.25h.01M120.23 304.73h.01M122.22 315.88h.01M120.13 313.3h.01M124.57 304.48h.01M126.37 298.41h.01M116.01 305.52h.01M119.42 307.92h.01M124.93 303.76h.01M128.97 297.98h.01M122.12 318.41h.01M118 310.69h.01M123.53 305.13h.01M120.78 298.59h.01M115.36 311.05h.01M106.22 305.21h.01M121.82 311.91h.01M125.01 303.45h.01M119.57 300.04h.01M108.83 312.62h.01M114.37 304.56h.01M130.67 296.23h.01M112.27 314.24h.01M119.6 312.45h.01M119.36 315.46h.01M117.7 307.6h.01M121.27 308.69h.01M107.19 306.64h.01M116.81 309.76h.01M109.23 307.13h.01M113.45 310.59h.01M115.78 311.14h.01M119.64 303.67h.01M114.8 303.48h.01M119.53 311.09h.01M109.73 302.49h.01M121.12 305.98h.01M118.28 309.9h.01M121.43 311.11h.01M112.78 299.86h.01M114.49 307.56h.01M115.7 310.26h.01M117.67 313.65h.01M113.82 309.01h.01M117.77 317.14h.01M110.7 305.53h.01M116.26 311.71h.01M117.91 307.27h.01M106.26 302.02h.01M116.35 307.39h.01M130.02 306.6h.01M121.79 311.22h.01M110.85 304.5h.01M117.07 314.6h.01M123.95 304.01h.01M110.72 313.81h.01M124.13 301.76h.01M127.85 302.22h.01M122.76 305.93h.01M115.22 306.07h.01M123.22 309.36h.01M123.06 305.53h.01M114.55 318.09h.01M129.16 304.39h.01M111.92 315.96h.01M118.95 308.01h.01M124.01 308.01h.01M120.75 315.87h.01M111.54 309.93h.01M117.14 309.36h.01M133.07 302.47h.01M124.63 309.04h.01M119.47 305.47h.01M122.5 308.05h.01M128.47 308.97h.01M110.33 297.34h.01M128.55 307.48h.01M118.54 305.25h.01M136.04 309.27h.01M118.27 306.35h.01M123.21 312.56h.01M122.42 310.97h.01M120.11 309.01h.01M109.67 310.61h.01M118.27 307.62h.01M116.7 309.65h.01M113.94 308.17h.01M110.82 304.6h.01M113.99 307.21h.01M108.35 299.88h.01M130.02 309.4h.01M116.03 310.9h.01M108.92 303.27h.01M120.83 309.78h.01M113.4 309.13h.01M125.26 306.93h.01M119.8 310.05h.01M109.72 311.11h.01M111.88 301.39h.01M123.79 305.75h.01M126.71 314.49h.01M126.67 311.92h.01M121.03 308.8h.01M123.33 309.5h.01M110.19 313.16h.01M124.24 304.69h.01M111.35 307.55h.01M114.59 311.13h.01M123.24 306.8h.01M114.14 301.32h.01M114.13 304.67h.01M114.62 310.33h.01M111.57 307.3h.01M110.02 308.89h.01M117.09 312.56h.01M121.81 304.79h.01M113.57 309.95h.01M121.35 306.48h.01M116.96 308.34h.01M110.96 310.93h.01M121.93 307.24h.01M110.3 309.92h.01M117.57 309.47h.01M116.02 312.07h.01M126.14 309.52h.01M120.8 312.54h.01M117.55 307.4h.01M108.35 310.49h.01M125.22 302.11h.01M121.97 301.57h.01M121.84 314.87h.01M117.11 303.22h.01M119.77 306.94h.01M122.82 304.57h.01M122.99 311.15h.01M119.86 307.65h.01M122.41 306.07h.01M115.14 309.69h.01M124.85 304.16h.01M120.68 304.61h.01M113.2 309.94h.01M108.15 306.83h.01M109.34 307.61h.01M122.14 307.29h.01M106.58 300.75h.01M120.31 304.76h.01M124.64 304.68h.01M108.52 307.67h.01M106.26 304.93h.01M122.23 304.7h.01M122.06 304.62h.01M115.85 306.22h.01M113.62 306.31h.01M127.99 305.29h.01M106.49 318.07h.01M127.54 310.38h.01M117.1 307.58h.01M114.85 309.32h.01M121.11 307.22h.01M111.44 305.56h.01M130.87 311.94h.01M108.94 307.57h.01M118.26 310.43h.01M117.41 309.17h.01M121.53 311.95h.01M110.22 314.59h.01M121.44 309.43h.01M107.53 309.65h.01M116.82 311h.01M123.25 309.6h.01M110.45 315.2h.01M119.31 311.62h.01M117.17 305.26h.01M136.31 306.22h.01M122.63 304.91h.01M117.54 312.82h.01M122.68 314.21h.01M124.99 301.75h.01M108.66 315.22h.01M121.74 306h.01M115.4 306.32h.01M129.9 304.36h.01M109.48 313.95h.01M117.7 309.59h.01M115.29 308.53h.01M112.9 307.69h.01M121.31 312.55h.01M122.61 311.12h.01M112.07 310.84h.01M121.53 311.04h.01M113.52 308.36h.01M115.56 313.39h.01M124.82 304.47h.01M117.2 309.14h.01M111.7 309.12h.01M124.52 309.64h.01M112.66 306.65h.01M115.68 302.49h.01M120.12 308h.01M108.64 309.39h.01M113.15 308.11h.01M113.3 314.88h.01M112.11 312.68h.01M120.71 313.36h.01M117.5 308.17h.01M116.51 300.57h.01M133.97 303.17h.01M114.66 304.2h.01M118.53 314.58h.01M113.2 311.06h.01M125.8 310.01h.01M113.46 301.95h.01M121.21 309.6h.01M115.26 306.95h.01M128.23 298.95h.01M113.82 306.57h.01M106.64 308.02h.01M113.69 314.26h.01M118.16 301.61h.01M108.77 306.32h.01M117.25 310.1h.01M113.24 308.1h.01M122.58 306.28h.01M122.29 304.55h.01M122.44 312.2h.01M115.37 307.31h.01M117.24 310.15h.01M109.74 310.27h.01M115.31 314.6h.01M106.81 313.51h.01M115.03 305.72h.01M118.58 306.92h.01M118.39 308.94h.01M125.65 304.49h.01M126.61 294.81h.01M131.42 309.7h.01M128.67 306.21h.01M118.83 303.68h.01M125.83 301.34h.01M112.5 309.43h.01M119.8 309h.01M109.67 308.72h.01M122.34 311.84h.01M123.47 308.39h.01M115.6 306.43h.01M114.32 308.58h.01M120.98 305.24h.01M130.86 300.75h.01M123.21 305.92h.01M116.57 306.86h.01M127.99 304.35h.01M121.74 307.61h.01M123.53 309.09h.01M128.37 302.48h.01M113.95 316.01h.01M126.59 306.22h.01M116.19 309.55h.01M125.98 302.94h.01M127.67 305.42h.01M115.06 307.17h.01M108.44 308.16h.01M112.05 310.5h.01M122.81 307.02h.01M119.57 309.35h.01M129.32 307.6h.01M128.46 305.2h.01M119.65 304.99h.01M121.09 303.8h.01M120.47 304.86h.01M116.67 313.38h.01M119.64 310.89h.01M114.48 301.32h.01M127.69 304.91h.01M114.41 312.83h.01M109.49 307.15h.01M124.98 303.48h.01M125.24 305.01h.01M116.53 308.71h.01M115.54 313.05h.01M125.37 306.5h.01M122.53 309.14h.01M127.76 299.16h.01M125.7 309.88h.01M115.78 308.68h.01M116.74 313.43h.01M110.73 312.36h.01M127.13 308.13h.01M114.21 307.14h.01M124.4 302.62h.01M106.57 309.91h.01M108.26 312.37h.01M112.9 313.22h.01M115.74 302.85h.01M112.06 306.91h.01M113.37 314.26h.01M111.46 311.19h.01M114.51 311.35h.01M106.72 304.5h.01M122.72 312.72h.01M108.23 309.23h.01M113.56 305.36h.01M124.5 306.65h.01M108.32 309.6h.01M126.25 303.13h.01M113.62 305.79h.01M118.47 305.69h.01M123.14 303.4h.01M108.47 312.29h.01M120.04 308.57h.01M113.57 307.37h.01M112.28 308.77h.01M115.34 310.99h.01M118.5 310.21h.01M128.7 304.29h.01M116.3 310.03h.01M131.77 303.18h.01M130.48 309.79h.01M111.64 311.28h.01M126.96 306.06h.01M121.09 316.14h.01M122.38 315.75h.01M113.42 315.93h.01M112.16 299.64h.01M111.84 307.68h.01M118.34 311.07h.01M123.08 308.94h.01M114.55 316.21h.01M126.07 306.21h.01M113.99 308.88h.01M115.74 305.8h.01M117.2 305.56h.01M121.64 304.5h.01M121.54 308.5h.01M119.54 309.82h.01M113.93 312.08h.01M117.65 306.39h.01M130.77 309.39h.01M116.6 310.72h.01M124.07 313.02h.01M124.64 305.73h.01M115.1 304.04h.01M120.54 310.97h.01M115.91 311.3h.01M118.38 306.09h.01M110.72 314.43h.01M135.64 305.9h.01M109.62 305.93h.01M120.26 310.16h.01M125.91 296.22h.01M130.64 305.6h.01M119.23 309.34h.01M115.25 307.58h.01M123.42 299.62h.01M117.7 310.43h.01M106.6 310.25h.01M128.68 306.93h.01M123.42 309.6h.01M119.78 309.09h.01M112.22 308.65h.01M129.3 300.22h.01M115.59 303.48h.01M113.58 306h.01M109.85 311.09h.01M112.04 311.72h.01M127.75 295.15h.01M114.81 300.27h.01M117.47 309.73h.01M120.55 312.39h.01M117.37 301.14h.01M127.26 301.86h.01M117.64 309.48h.01M112.06 309.91h.01M126.48 299.02h.01M106.21 309.17h.01M115.59 303.41h.01M119.34 302.28h.01M121.8 306.85h.01M117.77 302.63h.01M116.94 310.3h.01M126.48 314.16h.01M122.39 306.67h.01M110.22 308.33h.01M116.68 310.2h.01M118.64 318.1h.01M124.84 297.31h.01M110.02 310.04h.01M125.04 307.97h.01M127.72 308.07h.01M136.16 306.82h.01M122.6 313.21h.01M114.42 306.7h.01M111.33 310.74h.01M121.87 310.95h.01M128.44 308.03h.01M126.12 305h.01M112.13 312.53h.01M126.18 311.54h.01M116.41 306.51h.01M115.86 310.07h.01M117.48 307.42h.01M119.44 306.49h.01M119.7 305.15h.01M107.18 309.46h.01M130.06 301.69h.01M125.52 311.74h.01M114.54 309.98h.01M128.64 306.16h.01M113.04 309.74h.01M119.54 305.95h.01M115.09 305.38h.01M122.09 307.85h.01M119.86 305.49h.01M121.06 306.04h.01M119.86 306.92h.01M112.41 304.89h.01M115.46 303.83h.01M122.88 315.49h.01M125.29 301.39h.01M116.67 305.75h.01M121.77 301.05h.01M120.33 308.36h.01M122.26 308.75h.01M117.31 300.81h.01M114.87 304.88h.01M121.38 306.22h.01M120.11 312.1h.01M118.91 314.82h.01M122.23 300.79h.01M115.21 313.8h.01M115.77 313.57h.01M114.05 308.5h.01M123.45 300.09h.01M118.08 306.11h.01M120.83 314.46h.01M120.01 301.88h.01M124.1 304.62h.01M120.26 312.29h.01M116.83 312.31h.01M118.33 304.17h.01M114.56 303.21h.01M126.21 306.66h.01M123.49 302h.01M122.59 301.88h.01M119.9 307.49h.01M114.29 310.23h.01M117.38 304.54h.01M111.67 304.14h.01M127.47 306.28h.01M116.21 311.35h.01M111 304.9h.01M121.98 313.65h.01M120.19 308.12h.01M128.35 298.97h.01M137.72 298.49h.01M116.18 302.85h.01M109.51 309.13h.01M133.69 300.16h.01M114.07 310.12h.01M110.82 308.72h.01M121.43 298.03h.01M115.66 307.36h.01M114.4 308.41h.01M113.45 304.83h.01M128.55 313.76h.01M122.58 303.24h.01M128.15 307.57h.01M113.04 311.78h.01M114.63 311.24h.01M125.39 311h.01M110.71 309.29h.01M116.82 303.18h.01M121.5 310.03h.01M108.07 308.17h.01M109.24 304.85h.01M112.1 315.23h.01M113.1 307.57h.01M125.73 310.37h.01M125.51 297.42h.01M121.41 299.79h.01M113.29 307.44h.01M116.06 316.73h.01M118.02 312.92h.01M116.71 308.07h.01M121.91 308.89h.01M119.69 300.3h.01M121.76 308.41h.01M122.02 306.78h.01M119.5 302.15h.01M124.5 301.28h.01M128.53 309.63h.01M117.28 306.94h.01M122.98 305.48h.01M110.2 311.12h.01M109.25 308.27h.01M130.99 308.16h.01M114.87 308.49h.01M113.59 309.05h.01M108.83 313.16h.01M117.49 305.56h.01M114.52 306.86h.01M113.55 307.03h.01M127.56 308.47h.01M121.21 308.74h.01M107.89 300.37h.01M128.96 308.28h.01M119.75 308.74h.01M119.38 307.75h.01M114.02 299.62h.01M121.91 307.23h.01M124.94 307.56h.01M116.65 310.88h.01M118.84 305.93h.01M115.03 306.96h.01M115.53 306.74h.01M127.56 317.9h.01M118.34 312.63h.01M114.63 308.19h.01M111.62 303.86h.01M111.71 307.41h.01M118.71 306.41h.01M109.48 308.57h.01M127.4 301.95h.01M119.44 311.89h.01M111.97 307.1h.01M138.89 308.01h.01M114.58 309.53h.01M118.83 308.41h.01M120.86 306.02h.01M117.68 302.33h.01M117.29 314.5h.01M118.97 305h.01M119.98 311.92h.01M113.07 307.38h.01M116.83 305.85h.01M118.82 308.17h.01M109.47 307.5h.01M109.87 311.24h.01M120.42 310.15h.01M111.53 307.37h.01M107.37 312.11h.01M125.76 307.94h.01M122.49 307.84h.01M121.44 311.09h.01M128.57 313.86h.01M117.02 311.75h.01M124.3 308.22h.01M118.57 302.54h.01M124.52 302.66h.01M112.73 305.72h.01M120.84 303.22h.01M121.66 309.46h.01M118.35 306.48h.01M123.33 312.18h.01M113.83 304.62h.01M113.05 305.54h.01M116.23 307.79h.01M112.06 307.68h.01M111.34 310.62h.01M121.97 299.41h.01M121 313.61h.01M116.99 312.11h.01M119.2 303.82h.01M124.13 303.91h.01M120 305.82h.01M116.68 308.97h.01M125.3 299.11h.01M110.54 310.29h.01M124.41 305.61h.01M117.25 310.4h.01M127.79 301.76h.01M106.9 309.58h.01M121.89 301.51h.01M126.56 309.81h.01M122.51 303.33h.01M109.88 312.77h.01M120.44 310.27h.01M126.57 310.06h.01M116.11 308.44h.01M121.8 310.19h.01M116.21 306.29h.01M112.39 313.7h.01M115.31 294.37h.01M119.76 305.16h.01M108.86 308.13h.01M108.89 308.38h.01M114.79 310.94h.01M109.34 302.52h.01M112.54 303.59h.01M122.81 305.93h.01M117.77 307.88h.01M120.97 311.4h.01M125.31 305.66h.01M108.81 308.72h.01M121.49 303.27h.01M125.58 302.08h.01M111.18 313.18h.01M117.63 309.44h.01M115.96 308.63h.01M115.9 316.46h.01M122.31 306.4h.01M122.02 310.49h.01M114.6 309.58h.01M118.83 305.42h.01M112.55 308.51h.01M115.56 306.9h.01M122.5 307.18h.01M130.46 308.5h.01M114.92 305.94h.01M121.02 305.68h.01M107.16 311.21h.01M115.76 307.61h.01M122.33 307.73h.01M130.97 301.66h.01M117.64 309.38h.01M114.5 306.72h.01M128.42 299.32h.01M118.63 300.5h.01M118.4 299.86h.01M111.21 314.44h.01M128.55 305.9h.01M118.56 303.22h.01M114.29 303.39h.01M117.27 307.81h.01M119.6 310.9h.01M111.46 300.4h.01M108.85 305.01h.01M115.07 306.9h.01M119.04 313.45h.01M117.12 303.71h.01" stroke="#222" stroke-width="0.5" stroke-linecap="round" fill="none" opacity="0.55"/>
<ellipse cx="118.4" cy="307.8" rx="10.8" ry="5.4" transform="rotate(-16 118.4 307.8)" fill="#fdfdfd" stroke="#2a2a2a" stroke-width="0.7" opacity="1"/>
<ellipse cx="118.4" cy="308" rx="9" ry="4.2" transform="rotate(-16 118.4 308)" fill="none" stroke="#888" stroke-width="0.45" opacity="1"/>
<ellipse cx="118" cy="308.6" rx="7.2" ry="3" transform="rotate(-14 118 308.6)" fill="#d4d4d4" stroke="#666" stroke-width="0.45" opacity="1"/>
<ellipse cx="117.6" cy="309" rx="5" ry="1.7" transform="rotate(-12 117.6 309)" fill="#8c8c8c" stroke="#555" stroke-width="0.4" opacity="1"/>
<ellipse cx="140.6" cy="307.4" rx="5.6" ry="3.4" transform="rotate(0 140.6 307.4)" fill="#666" stroke="none" stroke-width="0" opacity="0.5" filter="url(#b12)"/>
<path d="M139.41 305.11h.01M139.66 308.91h.01M136.2 309.23h.01M147.54 311.36h.01M146.91 307.63h.01M135.35 312.62h.01M140.4 308h.01M139.21 304.95h.01M143 303.76h.01M135.25 308.83h.01M139.14 305.21h.01M142.53 311.1h.01M139.49 307.05h.01M142.78 309.84h.01M144.62 309.16h.01M138.02 308.78h.01M140.63 302.98h.01M145.4 308.89h.01M145.92 307.23h.01M143.42 307.21h.01M141.23 309.76h.01M140.82 308.98h.01M140.46 310.58h.01M143.13 303.1h.01M147.05 308.54h.01M138.62 305.78h.01M148.32 307.63h.01M142.58 308.95h.01M138.28 311.94h.01M148.77 305.38h.01M145.01 303.17h.01M139.3 307.56h.01M140.8 308.88h.01M142.17 308.37h.01M140.07 308.19h.01M138.45 312.5h.01M140.84 310.62h.01M141.01 307.01h.01M139.9 304.06h.01M148.66 308.47h.01M141.11 306.2h.01M145.57 306.55h.01M138.82 306h.01M146.58 308.21h.01M140.04 305.74h.01M145.58 308.15h.01M139.32 309.72h.01M144 304.83h.01M145.06 310.22h.01M139.67 303.96h.01M144.85 306.52h.01M139.82 306.66h.01M139.56 309.56h.01M136.38 308.78h.01M145.09 310.13h.01M143.4 308.09h.01M139.86 307.1h.01M137.23 311.73h.01M140.16 304.8h.01M143.84 311.3h.01M141.69 306.59h.01M136.32 309.07h.01M139.68 305.7h.01M142.94 304.07h.01M143.46 301.14h.01M138.24 303.72h.01M139.68 309.46h.01M135.61 310.91h.01M138 306.16h.01M144.45 305.53h.01M146.22 306.88h.01M140.26 304.93h.01M145.05 307.24h.01M138.77 304.96h.01M138.19 307.16h.01M137.87 309.45h.01M140.5 305.82h.01M142.41 311.07h.01M132.65 308.33h.01M144.78 307.76h.01M143.8 303.45h.01M137.77 310h.01M140.29 307.56h.01M143.05 308.35h.01M142.37 306.13h.01M139.5 310.76h.01M138.76 303.71h.01M139.31 309.7h.01M147.51 307.79h.01M138.28 308.96h.01M141.81 310.44h.01M142.64 309.34h.01M142.6 308.48h.01M137.17 306.99h.01M146.78 310.82h.01M144.35 308.42h.01M140.24 308.3h.01M139.41 310.19h.01M139.47 305.46h.01M134.51 311.39h.01M137.79 305.2h.01M142.21 312.01h.01M143.22 306.56h.01M142.83 305.29h.01M139.72 307.48h.01M140.73 309.4h.01M142.74 312.23h.01M143.86 306.68h.01M141.66 305.24h.01M138.36 306.53h.01M144.55 305.64h.01M134.75 304.82h.01M136.12 306.94h.01M139.54 304.43h.01M137.68 306.35h.01M142.19 308.97h.01M145.73 306.75h.01M143.1 307.6h.01M136.56 305.79h.01M149.01 307h.01M146.97 309.52h.01M147.02 306.93h.01M144.26 306.63h.01M136.52 304.42h.01M142.39 303.3h.01M142.11 305.19h.01M142.07 303.91h.01M143.95 306.82h.01M134.94 303.74h.01M140.98 303.23h.01M141.98 308.65h.01M138.25 310.97h.01M146.21 308.21h.01M142.46 308.61h.01M139.75 310.75h.01M138.72 300.99h.01M140.82 308.53h.01M143.86 304.59h.01M146 305.32h.01M143.13 309.27h.01M141.42 310.3h.01M138.88 312.64h.01M142.6 306.34h.01M150.59 307.39h.01M134.63 311.03h.01M146.59 305.94h.01M137.02 310.28h.01M140.97 304.95h.01M138.94 307.58h.01M144.46 311.4h.01M138.41 311.32h.01M135.05 309.23h.01M140.23 308.52h.01M139.11 305.59h.01M141.83 310.29h.01M132.4 307.54h.01M139.24 304.67h.01M135.68 308.73h.01M142.85 309.05h.01M133.26 303.52h.01M138.44 306.3h.01M147.41 306.42h.01M141.24 309.95h.01M147.06 308.36h.01M142.05 312.35h.01M139.24 302.82h.01M137.93 306.61h.01M145.71 308.21h.01M145.3 307.67h.01M140.92 305.93h.01M136.11 308.7h.01M142.13 308.87h.01M138.75 306.33h.01M142.19 308.96h.01M148.28 305.17h.01M144.49 309.67h.01M139.77 307.76h.01M140.55 311.31h.01M150.36 308.23h.01M139.8 309.83h.01M142.63 306.93h.01M143.61 309.63h.01M139.28 309.58h.01M132.31 304.12h.01M139.59 307.81h.01M135.27 311.18h.01M139.34 307.79h.01M140.61 309.34h.01M138.58 309.31h.01M137.64 303.62h.01M142.7 307.82h.01M144.09 302.44h.01M141.18 305.76h.01M140.06 306.4h.01M139.35 305.7h.01M144.62 303.01h.01M134.46 308.29h.01M148.35 305.45h.01M137.36 304.42h.01M136.92 310.61h.01M143.34 309.71h.01M142.07 308h.01M138.57 304.93h.01M143.11 313.75h.01M139.38 310.65h.01M138.11 307.51h.01M147.17 307.22h.01M143.16 305.97h.01M147.85 304.25h.01M142.88 306.79h.01M141.51 308.33h.01M145.72 309.65h.01M144.74 308.35h.01M136.74 310.84h.01M146.56 308.64h.01M143.76 306.81h.01M135.33 309.93h.01M138.03 312.31h.01M143.37 307.36h.01M138.45 307.68h.01M136.95 306.44h.01M146.79 306.65h.01M147.7 307.16h.01M142.34 305.04h.01M139.63 306.26h.01M135.52 312.37h.01M142.99 307.19h.01M136.63 307.49h.01M136.79 304.92h.01M140.05 312.95h.01M134.19 308.84h.01M138.69 299.95h.01M135.42 307.06h.01M140.99 305.47h.01M147.46 308.78h.01M138.37 303.18h.01M141.41 305.68h.01M144.61 304.72h.01M145.27 306.22h.01M141.49 306.71h.01M143.11 310.36h.01M138.69 305.08h.01M147.91 309.86h.01M147.96 309.86h.01M141.25 311.6h.01M138.21 306.31h.01M139.23 309.17h.01M137.52 306.95h.01M137.55 306.8h.01M144.98 310.26h.01M139.91 313.96h.01M138.08 308.58h.01M138.93 301.71h.01M136.25 310.6h.01M134.47 314.94h.01M140.27 308.1h.01M145.48 307.48h.01M138.33 305.84h.01M137.17 308.82h.01M138.95 308.72h.01M135.05 306.29h.01M148.53 308.34h.01M140.34 310.46h.01M141.77 311.36h.01M136.33 309.38h.01M136.71 309.16h.01M150.03 311.35h.01M137.48 308.49h.01M142.46 305.55h.01M141.65 304.66h.01M144.39 309.76h.01M140.11 309.18h.01M149.75 306.99h.01M133.63 308.27h.01M139 305.39h.01M144.14 309.99h.01M142.98 311.62h.01M138.32 306.33h.01M142.31 300.43h.01M130.36 308.29h.01M139.9 307.56h.01M137.07 307.99h.01M144.72 305.77h.01M142.85 307.01h.01M140.11 307.71h.01M146.43 308.75h.01M143.31 307.79h.01M132.55 309.84h.01M140.63 307.65h.01M138.78 303.42h.01M146.36 312.14h.01M146.67 302.66h.01M142.79 304.36h.01M139.99 306.08h.01M138.34 305.42h.01M138.87 309.41h.01M146.81 309.8h.01M140.65 307.03h.01M139.76 307.35h.01M138.34 306.94h.01M143.91 306.82h.01M137.59 307.09h.01M141.01 307.2h.01M139.69 309.23h.01M140.51 304.8h.01M142.84 305.56h.01M143.62 309.52h.01M142.52 308.2h.01M135.56 306.89h.01M141.16 309.06h.01M136.4 307.01h.01M134.82 307.86h.01M140.98 307.72h.01M146.98 309.3h.01M139.94 305.91h.01M138.98 309.43h.01M144.16 306.1h.01M140.23 306.28h.01M143.29 307.9h.01M137.93 305.12h.01M145.63 303.79h.01M133.76 299.46h.01M148.43 306.02h.01M143.94 308.85h.01M143.88 310.34h.01M138.88 307.36h.01M144.43 308.85h.01M137.78 305.45h.01M135.15 308.08h.01M138.64 303.39h.01M138.54 308.24h.01M141.37 306.83h.01M141.3 309.09h.01M136.09 305.3h.01M144.4 309.3h.01M135.3 305.54h.01M146.22 309.35h.01M140.11 310.04h.01M145.92 311.05h.01M135.34 304.06h.01M138.72 307.28h.01M139.32 308.04h.01M146.35 310.24h.01M144.47 307.4h.01M147 308.59h.01M141.6 307.36h.01M133.63 312.96h.01M140.58 309.73h.01M149.37 306.91h.01M136.21 310.04h.01M141.6 304.97h.01M144.37 307.44h.01M137.04 300.88h.01M136.85 308.4h.01M136.7 309.91h.01M149.13 308.23h.01M141.54 307.21h.01M143.98 307.49h.01M144.66 311.07h.01M143.95 304.93h.01M143.23 306.73h.01M141.88 309.91h.01M138.13 307.94h.01M146.32 305.26h.01M139.94 309.28h.01M139.78 310.05h.01M136.79 303.55h.01M142.13 307.06h.01M141.88 309.89h.01M144.72 306.51h.01M139.18 302.42h.01M136.92 308.04h.01M141.51 303.59h.01M143.7 307.3h.01M144.91 306.5h.01M144.39 304.56h.01M133.54 305.33h.01M143.37 308.46h.01M133.4 307.79h.01M143.25 311.72h.01M143.68 308.72h.01M134.58 308.37h.01M133.09 306.65h.01M139.25 304.91h.01M136.76 307.05h.01M142.91 305.75h.01M141.83 309.23h.01M140.58 312.32h.01M139.47 305.53h.01M133.35 310.16h.01M143.29 306.93h.01M141.87 307.08h.01M144.03 307.38h.01M141.54 307.21h.01M137.25 301.72h.01M142.77 304.22h.01M142.2 309.05h.01M147.93 305.5h.01M141.24 309.84h.01M138.09 305.9h.01M142.4 312.7h.01M144.83 309.86h.01M136.95 309.1h.01M145.06 304.17h.01M140.71 306.91h.01M143.16 302.95h.01M143.39 307.41h.01M139.64 301.99h.01M132.67 306.02h.01M143.18 308.5h.01M143.56 303.06h.01M141.45 310.85h.01M134.69 309.07h.01M137.86 308.81h.01M141.05 303.25h.01M136.61 310.66h.01M140.24 310.57h.01M141.97 309.69h.01M139.14 307.97h.01M139.23 309.73h.01M138.44 310.24h.01M146.73 304.3h.01M140.01 308.79h.01M147.51 310.35h.01M141 302.98h.01M143.91 305.9h.01M141.41 308.44h.01M135.22 310.13h.01M144.2 308.88h.01M142.96 308.32h.01M135.26 306.11h.01M143.81 306.56h.01M140.75 308.36h.01M141 308.07h.01M142.53 307.41h.01M136.41 306.72h.01M144.35 305.68h.01M142.47 308.19h.01M137.26 300.21h.01M140.59 305.43h.01M138.24 309.79h.01M137.7 308.29h.01M141.11 307.92h.01M148.34 302.38h.01M144.38 307.04h.01M139.58 305.7h.01M140.81 307.52h.01M137.12 311.58h.01M137.8 307.06h.01M135.77 307.79h.01M142.03 310.17h.01M144.44 306.13h.01M146.84 307.13h.01M146.64 311.77h.01M139.1 304.67h.01M142.74 311.07h.01M142.19 310.19h.01M142.94 309.67h.01M145.75 306.66h.01M135.2 307.1h.01M137.61 304.37h.01M140.01 309.22h.01M133.55 303.55h.01M143.73 305.15h.01M139.15 310.85h.01M144.97 308.32h.01M142.73 300.49h.01M142.79 308.38h.01M135.3 307.87h.01M142.41 307.11h.01M143.7 309.65h.01M140.85 306.77h.01M136.11 310.3h.01M138.45 308.21h.01M146.55 309.37h.01M135.76 307.18h.01M137.91 303.22h.01M137.57 308.89h.01M141.95 306.88h.01M141.32 304.44h.01M137.7 306.98h.01M143.71 306.59h.01M140.01 308.25h.01M146.3 304.2h.01M142.7 307.88h.01M140.38 308.03h.01M133.03 307.48h.01M139.74 304.26h.01M143.89 307.1h.01M139.33 309.33h.01M137.11 305.58h.01M143.82 309.62h.01M148.41 306.24h.01M135.06 303.63h.01M136.05 307.67h.01M139.73 305.69h.01M136.77 305.64h.01M139.24 310.42h.01M143.05 310.88h.01M143.79 309.34h.01M145.17 308.55h.01M146.56 310.28h.01M147.63 307.96h.01M137.67 313.8h.01M139.57 308.73h.01M139.19 305.64h.01M142.32 304.56h.01M140.03 310.99h.01M141.12 309.49h.01M143.1 308.38h.01M141.05 308.96h.01M136.92 308.88h.01M136.51 305.49h.01M138.38 304.01h.01M133.07 308.37h.01M142.57 309.08h.01M149.13 307.85h.01M143.51 305.51h.01M143.36 304.5h.01M148.21 304.95h.01" stroke="#222" stroke-width="0.5" stroke-linecap="round" fill="none" opacity="0.55"/>
<path d="M138.43 303.88h.01M126.97 306.94h.01M134.96 301.04h.01M147.33 300.81h.01M147.04 297.4h.01M144.86 288.74h.01M150.75 296.57h.01M135.51 300.09h.01M151.94 296.36h.01M140.91 298.14h.01M135.07 293.24h.01M144.83 303.67h.01M136.23 301.18h.01M143.92 301.97h.01M139.98 300.24h.01M142.81 294.5h.01M140.11 304.12h.01M137.45 306.8h.01M139.5 294.31h.01M139.15 293h.01M144.94 291.77h.01M141.14 298.79h.01M139.09 302.19h.01M142.88 297.12h.01M146.29 297.68h.01M146.79 306.95h.01M143.44 304.8h.01M132.46 302.92h.01M131.46 299.1h.01M145.49 286.12h.01M136.03 296.01h.01M135 300.12h.01M145.11 294.02h.01M137.04 290.4h.01M136.51 289.17h.01M131.38 302.43h.01M146.64 295.8h.01M143.27 295.98h.01M147.86 309.06h.01M125.25 295.52h.01M136.91 297.54h.01M151.04 308.14h.01M140.93 303.31h.01M130.82 298.46h.01M139.18 299.23h.01M142.92 291.91h.01M134.33 311.08h.01M129.9 300.31h.01M145.68 302.55h.01M141.38 291.66h.01M138.01 291.93h.01M153.6 301.87h.01M145.68 301.06h.01M138.51 306.12h.01M146.67 303.29h.01M144.75 303.83h.01M139.22 302.24h.01M141.53 298.7h.01M145.16 311.08h.01M128.01 307.45h.01M138.22 306.22h.01M134.47 299.05h.01M147.58 299.63h.01M143.25 293.74h.01M133.66 308.64h.01M142.02 299.55h.01M132.15 294.64h.01M134.39 299.75h.01M140.27 296.85h.01M136.71 300.58h.01" stroke="#444" stroke-width="0.5" stroke-linecap="round" fill="none" opacity="0.5"/>
<path d="M126.88 307.71h.01M116.12 307.73h.01M119.48 301.42h.01M112.5 307.06h.01M121.93 317.85h.01M113.03 289.31h.01M124.92 282.42h.01M124.6 310.78h.01M110.82 304.94h.01M113.68 283.11h.01M115.1 307.38h.01M121.68 288.42h.01M122.7 308.96h.01M111.51 311.51h.01M118.98 300.52h.01M126.79 280.26h.01M117.76 304.05h.01M107.37 288.79h.01M119.46 291.55h.01M118.61 310.17h.01M109.62 304.56h.01M113.49 274.02h.01M117.63 276.2h.01M117.55 278.09h.01M117.22 276.57h.01M129.91 280.05h.01M117.2 298.99h.01M122.5 276.21h.01M126.5 287.85h.01M108.9 290.64h.01M121.31 287.33h.01M123.75 284.94h.01M125.77 314.77h.01M125.79 273h.01M116.65 295.55h.01M115.81 278.91h.01M120.53 275.72h.01M110.85 290.07h.01M129.93 288.41h.01M129.21 302.31h.01M121.87 313.86h.01M120.41 305.47h.01M117.86 308.19h.01M127.13 270.05h.01M128.49 271.55h.01M121.72 273.49h.01M124.39 290.77h.01M110.14 310.46h.01M112.69 313.25h.01M115.83 296.81h.01M117.24 306.55h.01M115.15 294.64h.01M112.29 286.19h.01M109.54 282.54h.01M113.39 303.1h.01M110.34 277.38h.01M129.38 300.81h.01M108.97 311.51h.01M124.46 299.26h.01M129.12 295.63h.01M110.2 270.56h.01M109.08 292.26h.01M119.72 310.02h.01M108.62 273.41h.01M109.2 287.45h.01M128.53 307.47h.01M108.01 298.37h.01M111.16 280.8h.01M114.4 281.84h.01M113.8 280.76h.01M114.91 298.36h.01M119.94 304.99h.01M113.43 271.3h.01M120.15 285.02h.01M111.83 289.63h.01M128.76 298.75h.01M123.49 272.11h.01M119.51 303.6h.01M126.89 306.51h.01M108.16 317.4h.01M107.38 306.96h.01M117.83 314.57h.01M128.78 305.87h.01M108.91 301.05h.01M109.71 290.38h.01M109.99 284.47h.01M108.21 295.9h.01M109.11 281.7h.01M124.88 284.07h.01M120.32 311.52h.01M121.63 309.31h.01M128.44 281.77h.01M111.28 317.72h.01M128.11 285.45h.01M128.3 274.14h.01M112.22 311.45h.01M109.4 311.36h.01M112.13 306.96h.01M109.93 294.04h.01M120.21 296.81h.01" stroke="#444" stroke-width="0.5" stroke-linecap="round" fill="none" opacity="0.5"/>
<line x1="130.6" y1="251.5" x2="130.6" y2="319.4" stroke="#000" stroke-width="1.45"/>
<line x1="105.4" y1="298.7" x2="176.2" y2="298.7" stroke="#000" stroke-width="1.45"/>
<line x1="129" y1="270" x2="185.6" y2="270" stroke="#000" stroke-width="1.5"/>
<path d="M184.6 266.7L191.4 270L184.6 273.3Z" stroke="none" stroke-width="0" fill="#000"/>
<text transform="translate(108.5,260.8)" font-size="6.2" text-anchor="start" fill="#111" stroke="#111" stroke-width="0.25">8.4</text>
<text transform="translate(112.7,318)" font-size="6.2" text-anchor="start" fill="#111" stroke="#111" stroke-width="0.25">89.4</text>
<text transform="translate(161.7,318)" font-size="6.2" text-anchor="start" fill="#111" stroke="#111" stroke-width="0.25">2.12</text>
<line x1="102.8" y1="258.15" x2="105.4" y2="258.15" stroke="#000" stroke-width="1.1"/>
<line x1="102.8" y1="274.18" x2="105.4" y2="274.18" stroke="#000" stroke-width="1.1"/>
<line x1="102.8" y1="289.25" x2="105.4" y2="289.25" stroke="#000" stroke-width="1.1"/>
<line x1="102.8" y1="305.82" x2="105.4" y2="305.82" stroke="#000" stroke-width="1.1"/>
<line x1="102.8" y1="313.15" x2="105.4" y2="313.15" stroke="#000" stroke-width="1.1"/>
<line x1="104.4" y1="253.54" x2="104.4" y2="317.36" stroke="#000" stroke-width="1.2" stroke-dasharray="0.5 1.6"/>
<line x1="113.15" y1="319.4" x2="113.15" y2="322" stroke="#000" stroke-width="1.1"/>
<line x1="121.34" y1="319.4" x2="121.34" y2="322" stroke="#000" stroke-width="1.1"/>
<line x1="138.37" y1="319.4" x2="138.37" y2="322" stroke="#000" stroke-width="1.1"/>
<line x1="155.4" y1="319.4" x2="155.4" y2="322" stroke="#000" stroke-width="1.1"/>
<line x1="173.24" y1="319.4" x2="173.24" y2="322" stroke="#000" stroke-width="1.1"/>
<line x1="107.59" y1="320.4" x2="176.31" y2="320.4" stroke="#000" stroke-width="1.2" stroke-dasharray="0.5 1.6"/>
<text transform="translate(103.4,260.05) scale(1.1800,1)" font-size="5.3" text-anchor="end" stroke="#000" stroke-width="0.3">10<tspan dy="-1.91" font-size="3.18">5</tspan></text>
<text transform="translate(103.4,276.21) scale(1.1800,1)" font-size="5.3" text-anchor="end" stroke="#000" stroke-width="0.3">10<tspan dy="-1.91" font-size="3.18">4</tspan></text>
<text transform="translate(103.4,291.15) scale(1.1800,1)" font-size="5.3" text-anchor="end" stroke="#000" stroke-width="0.3">10<tspan dy="-1.91" font-size="3.18">3</tspan></text>
<text transform="translate(103.4,307.92) scale(1.1800,1)" font-size="5.3" text-anchor="end" stroke="#000" stroke-width="0.3">10<tspan dy="-1.91" font-size="3.18">2</tspan></text>
<text transform="translate(101.6,315.05) scale(1.1800,1)" font-size="5.3" text-anchor="end" stroke="#000" stroke-width="0.3">0</text>
<text transform="translate(112.13,327.6) scale(1.1800,1)" font-size="5.3" text-anchor="middle" stroke="#000" stroke-width="0.3">0</text>
<text transform="translate(120.6,327.6) scale(1.1800,1)" font-size="5.3" text-anchor="middle" stroke="#000" stroke-width="0.3">10<tspan dy="-1.91" font-size="3.18">2</tspan></text>
<text transform="translate(138.3,327.6) scale(1.1800,1)" font-size="5.3" text-anchor="middle" stroke="#000" stroke-width="0.3">10<tspan dy="-1.91" font-size="3.18">3</tspan></text>
<text transform="translate(155.25,327.6) scale(1.1800,1)" font-size="5.3" text-anchor="middle" stroke="#000" stroke-width="0.3">10<tspan dy="-1.91" font-size="3.18">4</tspan></text>
<text transform="translate(172.73,327.6) scale(1.1800,1)" font-size="5.3" text-anchor="middle" stroke="#000" stroke-width="0.3">10<tspan dy="-1.91" font-size="3.18">5</tspan></text>
<rect x="207" y="170.5" width="72.6" height="67.3" stroke="#000" stroke-width="1.45" fill="#fff"/>
<path d="M232.2 237.2L235.96 235.09L238.13 232.79L239.96 230.44L241.07 228L241.1 224.73L241.08 222.17L241.4 219.62L242 217.08L242.59 214.54L242.56 211.44L241.87 208.9L241.06 206.37L240.45 203.83L240.17 201.28L240.38 200.58L240.84 198.06L241.07 195.48L240.81 194.9L241.84 192.49L242.98 190.17L243.87 188.62L245.69 186.81L247.19 184.68L248.25 182.45L249.53 179.96L250.6 177.2L250.6 177.2L247.74 177.72L245.01 178.4L242.16 179.45L239.99 180.88L238.15 182.66L235.8 185.04L233.79 186.75L231.97 188.59L229.96 192.7L229.23 195.15L228 197.48L226.45 201.74L226.17 204.31L226.43 206.86L226.52 209.41L225.93 211.99L225.3 214.01L225.46 216.58L226.1 219.15L226.36 221.72L225.97 224.27L225.61 226.07L226.52 228.76L227.99 231.52L229.26 234.26L232.2 237.2Z" stroke="#6a6a6a" stroke-width="0.45" fill="#f3f3f3" stroke-linejoin="round"/>
<path d="M232.32 236.21L235.79 234.14L237.58 231.87L238.92 229.54L239.76 227.14L239.9 224.08L240.24 221.61L240.77 219.15L241.25 216.68L241.44 214.2L241.01 211.26L240.32 208.8L239.84 206.33L239.65 203.86L239.62 201.38L239.76 200.58L239.98 198.08L240.02 195.53L239.78 194.64L240.96 192.43L242.29 190.34L243.7 188.29L244.95 187.05L246.33 184.9L247.38 182.71L248.69 180.38L249.82 177.82L249.82 177.82L246.99 178.26L244.52 179.13L242.16 180.55L239.96 181.85L237.37 183.77L235.65 185.59L234.2 187.61L232.76 189.63L230.69 193.2L229.39 195.43L228.38 197.73L227.81 201.77L227.9 204.25L227.45 206.75L226.82 209.25L226.68 211.74L227.08 213.76L227.33 216.25L226.98 218.72L226.61 221.19L226.81 223.68L227.35 225.59L227.95 228.17L228.49 230.73L229.45 233.35L232.32 236.21Z" stroke="#6a6a6a" stroke-width="0.45" fill="#ececec" stroke-linejoin="round"/>
<path d="M232.45 235.22L235.17 233.14L236.77 230.92L238.3 228.69L239.41 225.86L239.41 223.45L239.29 221.04L239.26 218.64L239.48 216.24L239.92 213.85L240.03 211.06L239.79 208.66L239.31 206.27L238.74 203.89L238.28 201.5L238.35 200.39L238.86 198.04L239.35 195.68L239.31 194.77L240.44 192.63L241.52 190.45L242.68 188.32L243.85 186.9L245.37 185L246.75 182.97L247.96 180.94L249.04 178.45L249.04 178.45L246.38 178.97L243.87 179.98L241.82 181.31L239.86 182.74L237.63 184.71L235.88 186.42L234.33 188.26L232.98 190.25L231.45 193.71L230.37 195.91L229.23 198.1L228.49 201.83L228.73 204.22L228.7 206.63L228.22 209.05L227.78 211.47L227.89 213.48L228.32 215.9L228.35 218.3L227.97 220.7L227.78 223.09L228.06 225.51L228.86 227.51L229.46 230L230.12 232.51L232.45 235.22Z" stroke="#6a6a6a" stroke-width="0.45" fill="#e6e6e6" stroke-linejoin="round"/>
<path d="M232.61 233.9L234.98 231.88L236.38 229.73L237.57 227.56L238.2 224.9L238.11 222.59L238.1 220.29L238.29 217.99L238.65 215.7L239.02 213.41L238.87 210.79L238.47 208.5L238 206.22L237.62 203.93L237.43 201.63L237.65 200.42L238.15 198.17L238.52 195.89L238.32 194.69L239.4 192.64L240.54 190.63L241.79 188.69L242.92 187.25L244.39 185.46L245.7 183.51L246.88 181.56L248 179.28L248 179.28L245.57 179.92L243.33 181.04L241.28 182.22L239.45 183.64L237.7 185.76L236.18 187.51L234.54 189.17L233.04 190.93L231.89 194.24L231.28 196.46L230.37 198.6L229.43 201.9L229.35 204.2L229.56 206.5L229.62 208.8L229.3 211.11L228.92 213.1L229.02 215.41L229.36 217.72L229.45 220.02L229.16 222.32L228.93 224.61L229.5 226.55L230.26 228.97L230.91 231.37L232.61 233.9Z" stroke="#6a6a6a" stroke-width="0.45" fill="#e0e0e0" stroke-linejoin="round"/>
<path d="M232.86 231.92L234.67 229.98L235.64 227.94L236.57 225.62L237.2 223.49L237.41 221.34L237.46 219.2L237.4 217.05L237.36 214.9L237.42 212.53L237.37 210.38L237.36 208.23L237.25 206.09L236.99 203.95L236.64 201.81L236.57 200.47L236.93 198.34L237.4 196.25L237.89 194.16L238.5 193.13L239.62 191.28L240.69 189.41L241.78 187.55L242.83 186.05L244.17 184.35L245.46 182.59L246.45 180.52L246.45 180.52L244.22 181.3L242.43 182.53L240.63 183.76L238.63 185.3L237.23 186.94L235.97 188.68L234.75 190.45L233.21 192.98L232.35 194.99L231.61 197.01L231.1 199.1L230.77 202.01L230.63 204.16L230.35 206.32L230.28 208.47L230.46 210.61L230.58 212.76L230.39 214.68L230.14 216.82L230.16 218.97L230.39 221.13L230.48 223.28L230.61 225.43L230.88 227.35L231.44 229.58L232.86 231.92Z" stroke="#6a6a6a" stroke-width="0.45" fill="#e8e8e8" stroke-linejoin="round"/>
<path d="M233.19 229.28L234.63 227.51L235.28 225.47L235.65 223.54L235.96 221.61L236.14 219.67L236.35 217.73L236.51 215.79L236.55 213.85L236.38 211.75L236.14 209.81L236 207.87L235.96 205.93L235.93 203.98L235.84 202.04L235.82 200.7L236.1 198.77L236.4 196.84L236.77 194.93L237.09 193.63L238.23 192.06L239.34 190.46L240.38 188.82L241.29 187.08L242.27 185.62L243.48 184.07L244.46 182.29L244.46 182.29L242.64 183.19L240.98 184.28L239.3 185.65L238.07 187.17L236.94 188.74L235.7 190.25L234.43 191.73L233.49 194.11L233.05 196L232.54 197.88L231.87 199.71L231.44 202.19L231.48 204.13L231.63 206.07L231.66 208.01L231.5 209.96L231.37 211.91L231.45 213.69L231.59 215.64L231.56 217.58L231.36 219.52L231.25 221.46L231.58 223.42L232.03 225.37L232.32 227.22L233.19 229.28Z" stroke="#6a6a6a" stroke-width="0.45" fill="#f2f2f2" stroke-linejoin="round"/>
<path d="M234.24 205.86h.01M232.51 233.18h.01M233.66 197.42h.01M232.3 216.07h.01M238.01 217.88h.01M238.43 219.18h.01M237.63 228.85h.01M239.08 217.91h.01M228.24 217.92h.01M234.91 209.37h.01M236.29 214.51h.01M236.15 217.86h.01M229.38 225.99h.01M240.93 224.81h.01M234.15 199.7h.01M234.31 215.76h.01M229.93 197.87h.01M234.79 225.28h.01M225.59 219.39h.01M232.93 229.57h.01M232.91 206.85h.01M232.81 220.18h.01M230.16 208.58h.01M234.08 224.36h.01M232.13 220.68h.01M231.07 212.8h.01M233.8 225.25h.01M239.27 214.86h.01M234.8 234.76h.01M236.32 212.64h.01M234.65 202.52h.01M224.82 208.8h.01M230.24 203.3h.01M237.07 211.74h.01M233.39 216.75h.01M232.24 204.89h.01M240.64 197.21h.01M232.92 222.67h.01M232.26 215.08h.01M234.26 218.32h.01M231.73 226.32h.01M235.03 230.38h.01M233.42 197.12h.01M226.58 211.18h.01M234.84 200.53h.01M230.85 227.93h.01M234.36 209.29h.01M232.63 217.15h.01M231.41 213.07h.01M230.57 218.17h.01M239.25 229.91h.01M232.6 202.73h.01M227.24 217.43h.01M233.97 209.97h.01M229.93 214h.01M234.08 222.48h.01M235.24 193.41h.01M230.74 218.55h.01M234.52 223.67h.01M227.26 230.98h.01M228.41 214.14h.01M231.25 211.55h.01M230.04 223.83h.01M236.13 219.42h.01M228.11 210.08h.01M232.84 219.86h.01M230.91 213.5h.01M243.29 216.65h.01M231.91 192.66h.01M230.14 231.59h.01M236.36 204.72h.01M236.13 217.69h.01M229.98 223.63h.01M230.7 213.18h.01M233.15 218.08h.01M231.37 218.89h.01M233.08 217.93h.01M234.58 210h.01M227.75 215.37h.01M237.86 219.21h.01M233.95 209.01h.01M228.63 204.23h.01M229.51 212.5h.01M227.08 214.92h.01M226.97 222.27h.01M232.97 199.31h.01M230.94 218.27h.01M234.55 223.44h.01M231.71 214.67h.01M232.16 221.24h.01M230.39 214.52h.01M233.64 212.76h.01M228.88 228.98h.01M235 207.38h.01M240.69 208.78h.01M229.69 212.57h.01M235.15 230.31h.01M238.38 221.32h.01M233.33 222.38h.01M230.03 209.38h.01M235.12 217.97h.01M233.98 206.39h.01M234.03 202.37h.01M236.66 216.17h.01M230.58 211.6h.01M230.36 229.09h.01M221.83 226.79h.01M233.15 218.5h.01M229.37 203.59h.01M233.99 211.84h.01M235.03 226.15h.01M232.62 221.18h.01M233.75 218.31h.01M231.07 218.35h.01M234.76 216.8h.01M231.32 202.21h.01M228.95 230.97h.01M237 218.89h.01M234.21 214.65h.01M235.71 225.21h.01M232.11 219.02h.01M236.77 201.03h.01M229.45 210.64h.01M228.58 211.9h.01M229.81 212.31h.01M234.92 204.89h.01M233.46 229.21h.01M233.82 204.43h.01M230.74 227.19h.01M232.07 210.1h.01M236.1 209.27h.01M228.78 221.92h.01M233.15 209.89h.01M234.88 226.58h.01M237.25 217.06h.01M234.85 220.8h.01M227.35 231.92h.01M230.53 210.76h.01M229.91 206.9h.01M237.3 216.13h.01M230.85 198.67h.01M233.72 215.6h.01M229.1 215.15h.01M226.03 222.25h.01M228.38 220.83h.01M233.46 195.87h.01M228.77 209.85h.01M236.13 221.77h.01M235.51 232.02h.01M231.97 211.24h.01M225.85 206.27h.01M235.25 208.07h.01M229.71 225.15h.01M223.58 229.34h.01M238.05 199.02h.01M234.89 216h.01M236.57 212.86h.01M232.62 229.52h.01M230.8 220.07h.01M235.51 215h.01M236.45 221.03h.01M236.28 199.88h.01M229.1 218.89h.01M237.58 229.74h.01M233.14 209h.01M228.88 197.56h.01M231.16 221.61h.01M232.81 202.04h.01M232.7 216.58h.01M230.21 229.97h.01M234.76 226.57h.01M233.47 206.83h.01M237.24 226.63h.01M230.84 203.42h.01M236.22 210.71h.01M228.62 215.3h.01M235.2 208.95h.01M233.22 225.57h.01M235.96 201.27h.01M235.83 233.01h.01M236.61 215.28h.01M234.5 201.09h.01M230.84 211.15h.01M241.05 216.12h.01M229.35 232.22h.01M237.81 200.37h.01M232.31 200h.01M237.07 194.41h.01M240.2 206.04h.01M229.08 236.28h.01M235.14 219.47h.01M236.38 206.67h.01M236.44 213.44h.01M235.08 218.3h.01M238.4 203.83h.01M227.75 222.33h.01" stroke="#333" stroke-width="0.5" stroke-linecap="round" fill="none" opacity="0.4"/>
<path d="M257.44 193.18h.01M245.31 193.91h.01M240.32 190.58h.01M238.06 190.74h.01M249.58 199.79h.01M243.7 195.39h.01M252.54 184.07h.01M244.79 179.44h.01M241.91 192.57h.01M236.39 188.35h.01M249.57 198.29h.01M234.14 192.27h.01M243.16 176.87h.01M241.24 193.46h.01M246.01 194.09h.01M244.66 193.84h.01M241.44 184.47h.01M245.33 180.03h.01M252.02 188.63h.01M241.41 185.11h.01M241.48 190.77h.01M244.35 195.02h.01M240.59 189.65h.01M238.89 187.39h.01M252.59 189.37h.01M250.36 189.7h.01M240.88 185h.01M240.72 192.02h.01M247.22 206.93h.01M254.07 194.93h.01M241.43 190.72h.01M241.76 203.57h.01M242.64 196.78h.01M239.64 194.46h.01M240.24 187.39h.01M246.91 190.85h.01M245.81 189.69h.01M241.98 189.43h.01M245.76 184.69h.01M248.81 191.06h.01M242.48 197.54h.01M243.36 179.12h.01M252.13 187.89h.01M253.09 192.55h.01M241.84 196.49h.01M248.29 195.38h.01M246.29 199.03h.01M250.53 188.13h.01M238.89 189.8h.01M246.42 184.37h.01M245.17 198.69h.01M243.83 196.53h.01M241.62 184.45h.01M250.56 189.07h.01M247.13 195.98h.01M253.87 182.92h.01M248.87 191.36h.01M246.77 200.39h.01M244.92 186.63h.01M248.5 178.37h.01" stroke="#444" stroke-width="0.5" stroke-linecap="round" fill="none" opacity="0.4"/>
<line x1="225.8" y1="196" x2="225.8" y2="234" stroke="#222" stroke-width="1.1" opacity="0.8"/>
<ellipse cx="244.4" cy="184.4" rx="5.6" ry="2.4" transform="rotate(-50 244.4 184.4)" fill="none" stroke="#555" stroke-width="0.5" opacity="1"/>
<ellipse cx="244.6" cy="184.2" rx="3.6" ry="1.3" transform="rotate(-50 244.6 184.2)" fill="none" stroke="#666" stroke-width="0.45" opacity="1"/>
<ellipse cx="232.6" cy="213" rx="2.2" ry="7.5" transform="rotate(6 232.6 213)" fill="none" stroke="#777" stroke-width="0.45" opacity="1"/>
<ellipse cx="236.5" cy="222" rx="1.6" ry="6.5" transform="rotate(8 236.5 222)" fill="none" stroke="#777" stroke-width="0.45" opacity="1"/>
<ellipse cx="230.4" cy="228" rx="1.8" ry="4.5" transform="rotate(0 230.4 228)" fill="none" stroke="#777" stroke-width="0.45" opacity="1"/>
<path d="M234.84 235.89h.01M234.63 235.98h.01M235.51 236.26h.01M229.66 236.72h.01M236.65 235.48h.01M226.91 236.25h.01M240.66 236.68h.01M238.31 236.22h.01M226.54 236.58h.01M230.01 235.47h.01M232.11 236.69h.01M232.04 236.11h.01M233.44 236.29h.01M239.73 235.65h.01M222.5 236.35h.01M234.36 235.52h.01M232.87 236.66h.01M234.67 236.58h.01M229.47 235.57h.01M237.63 236.2h.01M236.6 234.78h.01M245.42 236.49h.01M225.36 236.96h.01M233.12 235.44h.01M232.27 236.16h.01M234.44 236.3h.01M235.74 235.7h.01M230.44 236.11h.01M235.04 235.42h.01M233.53 236.98h.01M233.31 236.55h.01M234.81 236.67h.01M227.29 236.33h.01M229 235.86h.01M237.44 236.06h.01M221.69 236.38h.01M240.14 236.79h.01M235.9 236.73h.01M239.96 235.74h.01M230.57 236.4h.01M222.38 236.24h.01M232.95 236.37h.01M245.14 236.29h.01M232.1 236.33h.01M231.4 235.58h.01M238.42 236.42h.01M234.78 236.42h.01M229.31 235.48h.01M231.67 236.71h.01M232.46 236.83h.01M229.26 236.23h.01M233.75 236.34h.01M231.03 236.48h.01M229.92 236.72h.01M234.11 235.98h.01M228.21 235.71h.01M231.68 236.49h.01M230.66 236.34h.01M233.68 236.53h.01M242.38 236.62h.01M236.17 236.11h.01M230.43 236.85h.01M230.16 236.02h.01M225.88 236.57h.01M232.58 236.72h.01M228.86 235.68h.01M238.32 236.42h.01M236.81 235.74h.01M226.81 234.94h.01M234.46 236.98h.01M224.29 235.77h.01M230.49 235.94h.01M232.01 235.94h.01M225.98 236.38h.01M233.62 235.96h.01M233.17 235.65h.01M231.44 236.21h.01M230.83 236.36h.01M226.94 235.62h.01M229.03 236.83h.01M228.45 235.86h.01M242.53 236.25h.01M231.18 235.89h.01M240.07 236.71h.01M227.29 235.43h.01M238.34 236.65h.01M230.54 236.86h.01M226.93 236.61h.01M237.71 236.92h.01M231.28 236.17h.01M230.92 236.8h.01M231.07 236.32h.01M237.93 236.34h.01M234.18 236.33h.01M233.05 235.11h.01M228.5 236.61h.01M229.93 236.04h.01M229.36 235.85h.01M224.38 236.67h.01M232.73 235.91h.01M231.03 236.97h.01M237.9 236.61h.01" stroke="#222" stroke-width="0.5" stroke-linecap="round" fill="none" opacity="0.6"/>
<rect x="236.6" y="175.4" width="18" height="18" stroke="#000" stroke-width="1.1" fill="none"/>
<text transform="translate(257.2,188)" font-size="6.2" text-anchor="start" fill="#111" stroke="#111" stroke-width="0.25">11.7</text>
<line x1="204.4" y1="177.1" x2="207" y2="177.1" stroke="#000" stroke-width="1.1"/>
<line x1="204.4" y1="192.98" x2="207" y2="192.98" stroke="#000" stroke-width="1.1"/>
<line x1="204.4" y1="207.92" x2="207" y2="207.92" stroke="#000" stroke-width="1.1"/>
<line x1="204.4" y1="224.34" x2="207" y2="224.34" stroke="#000" stroke-width="1.1"/>
<line x1="204.4" y1="231.61" x2="207" y2="231.61" stroke="#000" stroke-width="1.1"/>
<line x1="206" y1="172.52" x2="206" y2="235.78" stroke="#000" stroke-width="1.2" stroke-dasharray="0.5 1.6"/>
<line x1="214.7" y1="237.8" x2="214.7" y2="240.4" stroke="#000" stroke-width="1.1"/>
<line x1="222.83" y1="237.8" x2="222.83" y2="240.4" stroke="#000" stroke-width="1.1"/>
<line x1="239.74" y1="237.8" x2="239.74" y2="240.4" stroke="#000" stroke-width="1.1"/>
<line x1="256.66" y1="237.8" x2="256.66" y2="240.4" stroke="#000" stroke-width="1.1"/>
<line x1="274.37" y1="237.8" x2="274.37" y2="240.4" stroke="#000" stroke-width="1.1"/>
<line x1="209.18" y1="238.8" x2="277.42" y2="238.8" stroke="#000" stroke-width="1.2" stroke-dasharray="0.5 1.6"/>
<text transform="translate(205,179) scale(1.1800,1)" font-size="5.3" text-anchor="end" stroke="#000" stroke-width="0.3">10<tspan dy="-1.91" font-size="3.18">5</tspan></text>
<text transform="translate(205,195.01) scale(1.1800,1)" font-size="5.3" text-anchor="end" stroke="#000" stroke-width="0.3">10<tspan dy="-1.91" font-size="3.18">4</tspan></text>
<text transform="translate(205,209.82) scale(1.1800,1)" font-size="5.3" text-anchor="end" stroke="#000" stroke-width="0.3">10<tspan dy="-1.91" font-size="3.18">3</tspan></text>
<text transform="translate(205,226.44) scale(1.1800,1)" font-size="5.3" text-anchor="end" stroke="#000" stroke-width="0.3">10<tspan dy="-1.91" font-size="3.18">2</tspan></text>
<text transform="translate(203.2,233.51) scale(1.1800,1)" font-size="5.3" text-anchor="end" stroke="#000" stroke-width="0.3">0</text>
<text transform="translate(213.68,246) scale(1.1800,1)" font-size="5.3" text-anchor="middle" stroke="#000" stroke-width="0.3">0</text>
<text transform="translate(222.1,246) scale(1.1800,1)" font-size="5.3" text-anchor="middle" stroke="#000" stroke-width="0.3">10<tspan dy="-1.91" font-size="3.18">2</tspan></text>
<text transform="translate(239.67,246) scale(1.1800,1)" font-size="5.3" text-anchor="middle" stroke="#000" stroke-width="0.3">10<tspan dy="-1.91" font-size="3.18">3</tspan></text>
<text transform="translate(256.51,246) scale(1.1800,1)" font-size="5.3" text-anchor="middle" stroke="#000" stroke-width="0.3">10<tspan dy="-1.91" font-size="3.18">4</tspan></text>
<text transform="translate(273.86,246) scale(1.1800,1)" font-size="5.3" text-anchor="middle" stroke="#000" stroke-width="0.3">10<tspan dy="-1.91" font-size="3.18">5</tspan></text>
<rect x="207" y="251.5" width="72.6" height="68.1" stroke="#000" stroke-width="1.45" fill="#fff"/>
<path d="M233.2 268C232.8 261 236.5 256 244 255.1C250.5 254.4 254.6 256.2 254.7 260.5C254.8 266.5 250.8 273.5 244 276.3C238 278.4 233.8 274.8 233.2 268Z" stroke="#555" stroke-width="0.5" fill="#e9e9e9"/>
<path d="M234.8 267.7C234.5 261.6 237.8 257.4 244.2 256.6C249.8 255.9 253.0 257.5 253.1 260.9C253.2 265.8 249.8 272.0 244 274.4C238.8 276.2 235.3 273.2 234.8 267.7Z" stroke="#5a5a5a" stroke-width="0.45" fill="#dedede"/>
<path d="M236.4 267.3C236.2 262.2 239.0 258.8 244.3 258.1C248.9 257.5 251.5 258.7 251.6 261.4C251.7 265.2 249.0 270.4 244 272.4C239.6 274.0 236.8 271.6 236.4 267.3Z" stroke="#5a5a5a" stroke-width="0.45" fill="#d2d2d2"/>
<path d="M238.0 266.8C237.9 262.8 240.2 260.2 244.2 259.7C247.6 259.3 249.4 260.2 249.4 262.2C249.4 265 247.6 268.8 243.9 270.3C240.6 271.5 238.3 270 238.0 266.8Z" stroke="#5a5a5a" stroke-width="0.45" fill="#c6c6c6"/>
<ellipse cx="241.9" cy="264.4" rx="3.4" ry="2.8" transform="rotate(-30 241.9 264.4)" fill="#bcbcbc" stroke="#555" stroke-width="0.45" opacity="1"/>
<ellipse cx="241.6" cy="264.6" rx="2" ry="1.6" transform="rotate(-30 241.6 264.6)" fill="#dadada" stroke="#555" stroke-width="0.4" opacity="1"/>
<ellipse cx="249.2" cy="259.7" rx="1.9" ry="1.5" transform="rotate(-20 249.2 259.7)" fill="#fff" stroke="#444" stroke-width="0.5" opacity="1"/>
<path d="M248.55 269.51h.01M240.79 268.55h.01M243.76 268.42h.01M244.34 274.51h.01M236.96 266.62h.01M237.79 275.33h.01M240.51 263.37h.01M242.9 264.81h.01M251.21 264.77h.01M244.2 269.74h.01M250.26 260.73h.01M244.46 259.09h.01M245.37 271.31h.01M240.48 263.76h.01M248.72 266.96h.01M246.87 262.96h.01M241.48 263.36h.01M250.54 258.34h.01M240.51 271.96h.01M242.66 260.12h.01M244.13 264.03h.01M242.41 267.23h.01M246.8 258.33h.01M243.96 271.69h.01M236.54 264.57h.01M237.41 267.98h.01M238.92 263.51h.01M241 267.04h.01M236.7 258.75h.01M243.9 271.08h.01M240.56 266.85h.01M244.27 265.48h.01M242.89 262.54h.01M241.81 270.39h.01M245.13 270.74h.01M239.49 265.53h.01M239.9 259.08h.01M247.31 263.74h.01M244.15 258.66h.01M241.77 264.45h.01M241.12 269.55h.01M245.19 265.6h.01M244.09 263h.01M239.57 263.74h.01M238.08 264.24h.01M242.44 270.06h.01M240.89 275.9h.01M240.48 265.59h.01M242.85 262.25h.01M242.68 257.06h.01M248.35 262.41h.01M242.85 256.86h.01M245.71 259.24h.01M249.5 260.31h.01M239.46 267.98h.01M249.12 256.11h.01M234.87 272.26h.01M245.1 258.17h.01M240.88 268.13h.01M241.11 271.78h.01M239.55 265.75h.01M248.52 271.67h.01M244.12 267.62h.01M241.36 264.7h.01M240.22 266.75h.01M247.02 260.47h.01M237.38 265.2h.01M252.57 266.02h.01M243.6 264.8h.01M234.94 261.79h.01M250.2 255.52h.01M251.58 259.59h.01M252.75 276.83h.01M250.15 264.37h.01M245.8 262.52h.01M240.81 265.91h.01M227.88 267.52h.01M241.46 260.1h.01M241.63 267.91h.01M239.27 266.61h.01M236.51 265.42h.01M237.44 268.46h.01M237.97 267.78h.01M233.42 265.79h.01M248.23 261.25h.01M243.22 261.1h.01M245.26 268.41h.01M248.47 271.01h.01M249.2 261.69h.01M243.52 267.39h.01M243.87 259.04h.01M252.66 276.53h.01M243.25 253.21h.01M251.7 264.16h.01M253.81 260.25h.01M245.48 268.58h.01M236.07 263.48h.01M245.31 267.98h.01M244.82 253.12h.01M231.52 266.64h.01M250.61 258.01h.01M244.84 269.2h.01M238.27 257.79h.01M244.24 262.97h.01M242.5 264.06h.01M242.39 266.4h.01M240.41 264.83h.01M240.24 261.03h.01M244.63 261.22h.01M245.51 264.86h.01M248.13 267.66h.01M233.35 264.86h.01M246.11 265.48h.01M243.15 269.91h.01M246.19 258.88h.01M243.4 269.54h.01M243.69 259.17h.01M246.68 267.73h.01M248.45 265.77h.01M243.49 268.87h.01M237.67 272.79h.01M244.87 265.99h.01M246.58 268.58h.01M232.39 269.21h.01M242.43 261.4h.01M247.27 269.26h.01M244.77 262.15h.01M243.45 260.64h.01M255.03 261.97h.01M247.14 272.4h.01M238.83 262.54h.01M232.21 263.87h.01M236.6 265.69h.01M241.88 265.03h.01M243.13 262.84h.01M243.48 264.68h.01M239.5 263.54h.01M240.21 259.09h.01M242.81 256.49h.01M245.48 264.83h.01" stroke="#333" stroke-width="0.5" stroke-linecap="round" fill="none" opacity="0.4"/>
<path d="M233.4 318.6L236.55 317.15L237.66 315.67L238.39 314.18L239 312.69L239.41 311.19L239.94 309.69L240.29 308.2L240.26 306.69L239.95 305.17L239.68 303.66L239.74 302.16L240.17 300.66L240.74 299.17L241.1 297.67L241.04 296.35L240.68 294.83L240.38 293.31L240.44 291.81L240.89 290.32L241.47 288.84L241.61 287.36L241.23 285.84L239.97 284.27L238.57 282.7L237.3 281.13L234.6 279.5L234.6 279.5L231.63 280.87L229.76 282.28L228.37 283.73L227.95 285.21L227.97 286.72L227.29 288.21L226.66 289.69L226.76 291.2L227.4 292.74L227.58 294.25L227.01 295.73L226.49 297.41L226.82 298.92L227.51 300.43L227.64 301.94L227.11 303.44L226.79 304.94L227.21 306.45L227.82 307.96L227.82 309.46L227.3 310.96L227.11 312.46L228.19 313.99L229.54 315.52L230.61 317.04L233.4 318.6Z" stroke="#707070" stroke-width="0.45" fill="#f6f6f6" stroke-linejoin="round"/>
<path d="M233.41 317.82L235.74 316.42L236.69 314.99L237.66 313.56L238.56 312.14L238.89 310.7L238.94 309.25L238.73 307.8L238.49 306.35L238.47 304.91L238.76 303.47L239.22 302.03L239.57 300.59L239.61 299.15L239.37 297.7L239.09 296.39L239.07 294.94L239.39 293.51L239.87 292.08L240.22 290.65L240.25 289.21L239.91 287.76L239.42 286.29L238.7 284.81L237.98 283.33L237.08 281.85L234.56 280.28L234.56 280.28L232 281.61L231.02 283.01L229.83 284.4L228.53 285.78L228.17 287.21L228.55 288.69L228.86 290.15L228.5 291.58L227.95 293L227.96 294.45L228.45 295.92L228.68 297.51L228.32 298.94L227.91 300.38L228.11 301.83L228.66 303.28L228.82 304.73L228.42 306.17L228.11 307.61L228.39 309.05L228.9 310.51L228.95 311.95L229.04 313.4L229.7 314.86L230.97 316.33L233.41 317.82Z" stroke="#707070" stroke-width="0.45" fill="#f0f0f0" stroke-linejoin="round"/>
<path d="M233.44 316.64L235.39 315.33L236.36 313.99L237.03 312.65L237.27 311.3L237.1 309.94L237.12 308.59L237.36 307.23L237.7 305.89L237.94 304.54L237.95 303.18L237.76 301.82L237.58 300.47L237.59 299.11L237.84 297.76L238.21 296.53L238.46 295.19L238.47 293.83L238.27 292.47L238.09 291.1L238.11 289.75L238.39 288.4L238.62 287.07L238.26 285.7L237.43 284.3L236.39 282.9L234.51 281.45L234.51 281.45L232.65 282.72L231.57 284.03L230.41 285.33L229.8 286.66L230.02 288.03L230.15 289.39L229.79 290.73L229.41 292.07L229.5 293.43L229.87 294.8L229.91 296.16L229.54 297.61L229.29 298.96L229.52 300.32L229.92 301.68L229.93 303.04L229.58 304.38L229.41 305.74L229.7 307.1L230.04 308.45L229.98 309.81L229.64 311.15L229.95 312.52L230.83 313.89L231.75 315.26L233.44 316.64Z" stroke="#707070" stroke-width="0.45" fill="#f6f6f6" stroke-linejoin="round"/>
<ellipse cx="232.6" cy="298" rx="1.9" ry="7" transform="rotate(2 232.6 298)" fill="#fafafa" stroke="#6a6a6a" stroke-width="0.45" opacity="1"/>
<ellipse cx="232.8" cy="298" rx="0.9" ry="4.5" transform="rotate(2 232.8 298)" fill="none" stroke="#777" stroke-width="0.4" opacity="1"/>
<ellipse cx="237.4" cy="286.2" rx="2.3" ry="1.6" transform="rotate(-10 237.4 286.2)" fill="#fff" stroke="#666" stroke-width="0.45" opacity="1"/>
<ellipse cx="232.4" cy="311" rx="1.8" ry="4.6" transform="rotate(0 232.4 311)" fill="none" stroke="#777" stroke-width="0.42" opacity="1"/>
<path d="M232.56 304.14h.01M231.13 298.68h.01M242.19 308.61h.01M226.68 305.31h.01M238.24 305.53h.01M241.44 312.99h.01M229.2 304.47h.01M239.6 303.38h.01M229.64 310.09h.01M232.42 310.55h.01M230.94 301.68h.01M236.19 301h.01M245.77 285.62h.01M233.18 296.48h.01M236.37 308.23h.01M239.02 301.94h.01M234.2 308.71h.01M238.02 289.11h.01M238.85 299.96h.01M241.9 307.23h.01M233.86 281.74h.01M229.27 313.23h.01M240.83 309.36h.01M232.95 287.91h.01M231.23 292.61h.01M230.38 304.86h.01M228.21 287.86h.01M232.05 310.95h.01M232.88 303.91h.01M234.86 298.91h.01M236.03 297.8h.01M238.62 314.45h.01M231.52 303.39h.01M224.62 301.71h.01M232.41 292.48h.01M238.19 297.61h.01M241.07 309.12h.01M237.61 283.14h.01M229.57 309.13h.01M235.88 307.65h.01M243.21 293.07h.01M240.37 295.73h.01M233.95 290.81h.01M226.77 313.79h.01M234.68 276.32h.01M237.7 308.4h.01M243.94 288.68h.01M238.94 281.1h.01M234.36 315.76h.01M238.93 306.81h.01M239.78 300.79h.01M236.58 309.64h.01M231.77 286.82h.01M242.74 284.27h.01M233.59 308.45h.01M231.99 303.71h.01M239.42 285.22h.01M231.64 287.62h.01M234.02 307.77h.01M235.13 295.61h.01M237.51 299.71h.01M236.97 316.33h.01M237.23 296.92h.01M239.99 295.56h.01M239 308.88h.01M235.76 314.35h.01M229.08 286.32h.01M242.86 290.41h.01M231.68 285.61h.01M240.82 286h.01M224.31 300.63h.01M237.9 298.41h.01M236.48 313.4h.01M230.48 297.05h.01M231.93 300.08h.01M229.76 306.65h.01M235.12 284.35h.01M237.47 304.13h.01M227.3 301.84h.01M233.79 316.15h.01M235.5 308.43h.01M236.75 294.66h.01M238.08 289.36h.01M240.01 301.81h.01M232.75 298.68h.01M231.38 308.26h.01M224.99 303.74h.01M227.75 313.91h.01M233.03 315.95h.01M238.34 310.96h.01M234.84 281.27h.01M242.04 305.28h.01M232.03 318.47h.01M231.91 298.34h.01M241.85 291.01h.01M234.22 289.57h.01M235.74 314.12h.01M239.27 286.69h.01M234.61 296.52h.01M231.37 301.94h.01M228.46 296.85h.01M234.73 299.56h.01M233.71 307.67h.01M231.75 303.87h.01M236.14 306.64h.01M225.71 301.17h.01" stroke="#444" stroke-width="0.5" stroke-linecap="round" fill="none" opacity="0.4"/>
<path d="M242.7 279.24h.01M249.77 284.27h.01M247.7 289.67h.01M244.08 287.13h.01M247.19 296.87h.01M245.03 289.02h.01M250.61 300.23h.01M246.3 290.39h.01M246.08 292.54h.01M237.54 287.9h.01M248.27 299.51h.01M241.49 296.13h.01M241.88 285.95h.01M252.5 303.95h.01M246.32 288.73h.01M251.47 292.82h.01M246.48 285.24h.01M249.82 287.71h.01M245.13 291.84h.01M243.08 292.65h.01M243.46 294.5h.01M247.68 286.54h.01M247.87 295.04h.01M247.87 284.77h.01M242.38 303.54h.01M249.1 291.28h.01M247.7 296.73h.01M250.65 301.2h.01M245.37 286.01h.01M242.55 281.07h.01M247.85 291.86h.01M241.81 294.55h.01M242.55 295.01h.01M243.03 293.92h.01M243.3 288.88h.01M245.11 298.96h.01M246.33 288.02h.01M243.85 292.87h.01M246.35 291.61h.01M241.53 306.72h.01" stroke="#555" stroke-width="0.5" stroke-linecap="round" fill="none" opacity="0.45"/>
<rect x="232.3" y="254.3" width="23.1" height="23.1" stroke="#000" stroke-width="1.1" fill="none"/>
<text transform="translate(259.6,268.2)" font-size="6.2" text-anchor="start" fill="#111" stroke="#111" stroke-width="0.25">65.9</text>
<line x1="204.4" y1="258.17" x2="207" y2="258.17" stroke="#000" stroke-width="1.1"/>
<line x1="204.4" y1="274.25" x2="207" y2="274.25" stroke="#000" stroke-width="1.1"/>
<line x1="204.4" y1="289.36" x2="207" y2="289.36" stroke="#000" stroke-width="1.1"/>
<line x1="204.4" y1="305.98" x2="207" y2="305.98" stroke="#000" stroke-width="1.1"/>
<line x1="204.4" y1="313.33" x2="207" y2="313.33" stroke="#000" stroke-width="1.1"/>
<line x1="206" y1="253.54" x2="206" y2="317.56" stroke="#000" stroke-width="1.2" stroke-dasharray="0.5 1.6"/>
<line x1="214.7" y1="319.6" x2="214.7" y2="322.2" stroke="#000" stroke-width="1.1"/>
<line x1="222.83" y1="319.6" x2="222.83" y2="322.2" stroke="#000" stroke-width="1.1"/>
<line x1="239.74" y1="319.6" x2="239.74" y2="322.2" stroke="#000" stroke-width="1.1"/>
<line x1="256.66" y1="319.6" x2="256.66" y2="322.2" stroke="#000" stroke-width="1.1"/>
<line x1="274.37" y1="319.6" x2="274.37" y2="322.2" stroke="#000" stroke-width="1.1"/>
<line x1="209.18" y1="320.6" x2="277.42" y2="320.6" stroke="#000" stroke-width="1.2" stroke-dasharray="0.5 1.6"/>
<text transform="translate(205,260.07) scale(1.1800,1)" font-size="5.3" text-anchor="end" stroke="#000" stroke-width="0.3">10<tspan dy="-1.91" font-size="3.18">5</tspan></text>
<text transform="translate(205,276.28) scale(1.1800,1)" font-size="5.3" text-anchor="end" stroke="#000" stroke-width="0.3">10<tspan dy="-1.91" font-size="3.18">4</tspan></text>
<text transform="translate(205,291.26) scale(1.1800,1)" font-size="5.3" text-anchor="end" stroke="#000" stroke-width="0.3">10<tspan dy="-1.91" font-size="3.18">3</tspan></text>
<text transform="translate(205,308.08) scale(1.1800,1)" font-size="5.3" text-anchor="end" stroke="#000" stroke-width="0.3">10<tspan dy="-1.91" font-size="3.18">2</tspan></text>
<text transform="translate(203.2,315.23) scale(1.1800,1)" font-size="5.3" text-anchor="end" stroke="#000" stroke-width="0.3">0</text>
<text transform="translate(213.68,327.8) scale(1.1800,1)" font-size="5.3" text-anchor="middle" stroke="#000" stroke-width="0.3">0</text>
<text transform="translate(222.1,327.8) scale(1.1800,1)" font-size="5.3" text-anchor="middle" stroke="#000" stroke-width="0.3">10<tspan dy="-1.91" font-size="3.18">2</tspan></text>
<text transform="translate(239.67,327.8) scale(1.1800,1)" font-size="5.3" text-anchor="middle" stroke="#000" stroke-width="0.3">10<tspan dy="-1.91" font-size="3.18">3</tspan></text>
<text transform="translate(256.51,327.8) scale(1.1800,1)" font-size="5.3" text-anchor="middle" stroke="#000" stroke-width="0.3">10<tspan dy="-1.91" font-size="3.18">4</tspan></text>
<text transform="translate(273.86,327.8) scale(1.1800,1)" font-size="5.3" text-anchor="middle" stroke="#000" stroke-width="0.3">10<tspan dy="-1.91" font-size="3.18">5</tspan></text>
<text transform="translate(87.1,256.7)" font-size="13.7" text-anchor="start"></text>
<rect x="320.4" y="170.8" width="73.1" height="68.4" stroke="#000" stroke-width="1.45" fill="#fff"/>
<path d="M339.78 205.14h.01M340.38 216.57h.01M324.35 199.48h.01M323.1 207.27h.01M332.25 236.74h.01M344.23 218.67h.01M338.68 221.69h.01M342.32 210.93h.01M338.22 204.34h.01M327.68 206.47h.01M332.1 207.75h.01M336.96 196.73h.01M329.9 221.01h.01M341.87 228.86h.01M332.77 221.82h.01M322.64 234.76h.01M338.65 229.08h.01M324.66 212.79h.01M329.47 231.23h.01M341.01 201.81h.01M346.22 203.84h.01M325.34 219.11h.01M332.95 236.03h.01M323.16 234.01h.01M339.84 208.65h.01M325.79 225.36h.01M322.78 207.58h.01M324.07 210h.01M346.83 231.37h.01M335.77 222.75h.01M337.79 228.78h.01M342.77 236.44h.01M345.63 209.74h.01M345.73 205.79h.01M324.84 223h.01M323.18 232.67h.01M346.46 229.49h.01M328.44 217.75h.01M323.35 214.2h.01M342.58 203.43h.01M325.95 210.26h.01M330.79 209.34h.01M330.09 198.05h.01M338.05 216.14h.01M337.29 208.99h.01M344.59 228.29h.01M335.88 211.48h.01M343.31 213.75h.01M332.43 219.41h.01M323.42 216.33h.01M324.08 234.52h.01M341.77 200.24h.01M327.29 223.59h.01M335.58 212.44h.01M332.19 204.7h.01M332.24 197.2h.01M323.67 205.14h.01M322.66 205.26h.01M326.97 210.26h.01M336.81 237.63h.01M339.61 230.27h.01M335.98 227.75h.01M337.79 195.36h.01M331.16 200.62h.01M339.15 210.65h.01M332.85 201.67h.01M346.24 206.94h.01M325.49 210.98h.01M329.94 203.12h.01M339.41 213.52h.01M322.29 235.79h.01M325.04 232.31h.01M346.67 218.5h.01M341.16 195.24h.01M327.03 229.08h.01M339.37 200.15h.01M328.68 198.27h.01M341.79 222.58h.01M330.74 219.33h.01M334.5 206.25h.01M335.4 195.33h.01M339.96 236.17h.01M326.11 213.74h.01M336.83 224.42h.01M341.32 209.15h.01M340.8 210.46h.01M341.47 216.83h.01M336.34 233.44h.01M326.43 216.43h.01M330.66 197.64h.01M341.48 203.45h.01M326.14 200.84h.01M341.47 225.3h.01M330.21 216.01h.01M330.92 216.2h.01M322.96 207.36h.01M345.95 208.76h.01M339.52 221.65h.01M333.63 221.7h.01M339.39 219.75h.01M341.66 207.91h.01M327.74 214.78h.01M341.7 216.4h.01M322.14 214.95h.01M344.37 202.19h.01M336.31 207.25h.01M335.55 227.82h.01M330.22 202.42h.01M333.2 237.28h.01M322.66 208.06h.01" stroke="#555" stroke-width="0.5" stroke-linecap="round" fill="none" opacity="0.5"/>
<path d="M358.38 210.05h.01M382.81 214.76h.01M374.27 196.86h.01M371.9 224.69h.01M363.29 186.03h.01M390.7 211.78h.01M390.53 217.37h.01M363.66 194.42h.01M389.13 225.41h.01M373.74 185.97h.01M361.97 207.39h.01M352.96 210.02h.01M369.22 195.81h.01M371.59 235.44h.01M386.56 228.55h.01M362.06 197.34h.01M369.55 234.46h.01M358.11 188.94h.01M385.58 185.61h.01M370.97 237.12h.01M373.64 185.47h.01M362.05 224.76h.01M378.2 189.54h.01M368.86 210.49h.01M356.08 191.92h.01M362.39 206.17h.01M389.99 202.34h.01M387.38 186.09h.01M369.1 192.96h.01M351.58 200.4h.01M378.89 217.17h.01M361.37 223.56h.01M379.28 230.84h.01M378.68 189.76h.01M382.64 235.6h.01M386.73 219.83h.01M354.41 230.92h.01M370.22 223.61h.01M388.81 196.29h.01M350.02 234.65h.01M387.3 189.54h.01M368.68 230.47h.01M375.42 212.66h.01M391.87 186.54h.01M364.99 193.3h.01M390.37 215.97h.01M360.26 231.02h.01M388.31 210.55h.01M389.89 196.42h.01M378.72 237.65h.01M358.91 222.26h.01M384.64 230.83h.01M360.49 205.36h.01M353.89 211.82h.01M386.07 200.74h.01M386.87 199.06h.01M369.19 220.08h.01M383.9 234.91h.01M364.32 205.73h.01M381.65 227.2h.01M382.96 199.17h.01M386.12 225.5h.01M374.48 202.73h.01M380.14 188.67h.01M380.81 207.17h.01M381.74 216.16h.01M364.39 201.79h.01M370.62 192.17h.01M360.14 218.81h.01M357.39 233.7h.01" stroke="#666" stroke-width="0.5" stroke-linecap="round" fill="none" opacity="0.45"/>
<path d="M325.81 228.91h.01M333.16 232.23h.01M328.42 230.75h.01M343.23 226.28h.01M339.86 227.62h.01M339.38 228.34h.01M327.92 230.74h.01M322.08 221.47h.01M345.98 225.63h.01M322.48 231.54h.01M340.6 229.5h.01M338.45 223.45h.01M324.22 235.16h.01M327.18 230.57h.01M335.97 223.53h.01M326.56 226.27h.01M330.1 236.78h.01M326.47 224.62h.01M331.6 228.7h.01M334.27 222.34h.01M332.2 230.41h.01M334.09 227.28h.01M333.45 233.66h.01M342.33 232.34h.01M335.12 226.37h.01M331.92 227.41h.01M334.82 223.03h.01M330.8 228.52h.01M328.37 234.84h.01M334.47 225.66h.01M328.45 225.63h.01M326.74 227.96h.01M334.68 236.83h.01M326.01 228.4h.01M329.48 232.81h.01M327.51 229.25h.01M325.69 230.57h.01M326.66 231.87h.01M342.98 231.7h.01M327.74 235.46h.01M336.52 228.24h.01M325.76 234.14h.01M337.93 227.85h.01M329.26 228.05h.01M328.47 233.36h.01M327.63 226.44h.01M330.13 222.27h.01M331.09 234.15h.01M335.25 231.48h.01M334.79 235.88h.01M325.05 223.52h.01M337.62 231.35h.01M337.37 234.67h.01M329.1 227.03h.01M343.75 228.98h.01M327.76 231.19h.01M331.82 226.08h.01M334.12 227.15h.01M334.39 226.68h.01M326.58 227.75h.01M329.48 228.59h.01M327.35 232.19h.01M321.92 225.8h.01M336.49 234.6h.01M327.69 231.08h.01M328.06 232.67h.01M324.06 229.85h.01M333.78 222.99h.01M322.7 233.33h.01M329.7 228.92h.01M336.85 222.53h.01M326.45 226.02h.01M345.12 223.74h.01M329.24 228.87h.01M326.98 229.24h.01M323.03 230.57h.01M331.4 230.87h.01M321.94 229.69h.01M347.13 229.4h.01M327.64 233.06h.01M327.28 228.25h.01M340.53 227.1h.01M336.78 228.67h.01M323.72 229.44h.01M334.71 231.26h.01M323.41 222.28h.01M336 230.82h.01M324.85 229.26h.01M330.68 231.82h.01M330.23 230.71h.01M330.58 230.85h.01M337.29 225.75h.01M325.71 229.58h.01M328.62 226.37h.01M337.09 223.25h.01M331.71 234.06h.01M331.15 230.56h.01M323.88 225.27h.01M321.65 229.89h.01M324.4 231.5h.01M324.77 224.01h.01M338.98 227.55h.01M332.62 227.49h.01M334.81 237.53h.01M337.11 231.17h.01M331.33 234.26h.01M326.75 237.3h.01M339.97 233.76h.01M336.88 228.44h.01M333.85 224.55h.01M332.12 234.05h.01M334.61 231.83h.01M334.38 230.58h.01M336.38 226.51h.01M335.41 226.34h.01M328.53 233.61h.01M334.89 230.06h.01M332.36 233.94h.01M328.67 230.74h.01M321.45 224.48h.01M325.77 228.51h.01M326.49 229.52h.01M335.92 230.36h.01M323.32 233.92h.01M334.83 231.73h.01M335.71 235.49h.01M334.88 233.73h.01M321.24 229.3h.01M326.12 229h.01M337.54 228.11h.01M334.88 233.58h.01M328.32 229.35h.01M337.8 230.62h.01M329.83 225.99h.01M328.12 227.19h.01M329.43 222.81h.01M326.1 231.52h.01M336.82 229.72h.01M331.92 222.99h.01M325.11 231.25h.01M329.43 228.71h.01M332.69 230.59h.01M322.76 229.62h.01M326.51 232.23h.01M348.4 224.74h.01M334.66 229.22h.01M329 232.2h.01M337.94 226.61h.01M328.6 228.94h.01M335.64 219.53h.01M331.66 232.62h.01M342.52 230.03h.01M331.32 231.81h.01M337.19 225.37h.01M326.8 230.48h.01M336.29 228.55h.01M330.36 224.08h.01M327 230.98h.01M331.23 230.51h.01M330.28 226.02h.01M327.49 235.99h.01M333.27 226.54h.01M330.99 232.47h.01M333.61 225.5h.01M326.88 224.42h.01M333.29 224.98h.01M339.73 230.37h.01M331.62 236.95h.01M323.09 226.58h.01M326.46 222.66h.01M336.47 221.75h.01M333.09 226.91h.01M330.84 225.96h.01M331.14 224.65h.01M328.63 228.74h.01M332.3 231.31h.01M340.84 233.93h.01M335.7 227.61h.01M323.47 230.88h.01M330.15 227.99h.01M332.47 229.34h.01M338.25 233.49h.01M326.92 234.27h.01M324.6 227.93h.01M322.55 233.13h.01" stroke="#444" stroke-width="0.5" stroke-linecap="round" fill="none" opacity="0.45"/>
<ellipse cx="331.5" cy="229.3" rx="11" ry="6.6" transform="rotate(-5 331.5 229.3)" fill="#ececec" stroke="#777" stroke-width="0.42" opacity="1"/>
<ellipse cx="331.5" cy="229.3" rx="8.8" ry="5.28" transform="rotate(-5 331.5 229.3)" fill="#dedede" stroke="#777" stroke-width="0.42" opacity="1"/>
<ellipse cx="331.5" cy="229.3" rx="7.04" ry="4.22" transform="rotate(-5 331.5 229.3)" fill="#d2d2d2" stroke="#777" stroke-width="0.42" opacity="1"/>
<ellipse cx="331.5" cy="229.3" rx="5.63" ry="3.38" transform="rotate(-5 331.5 229.3)" fill="#c4c4c4" stroke="#777" stroke-width="0.42" opacity="1"/>
<ellipse cx="331.5" cy="229.3" rx="4.51" ry="2.7" transform="rotate(-5 331.5 229.3)" fill="#e8e8e8" stroke="#777" stroke-width="0.42" opacity="1"/>
<path d="M321.2 206.8C326 204.8 335 204.8 338.5 207C340.5 209.5 339.5 213.5 338 214.5C336.5 212 335.5 209.5 333.5 208.8C330 208 326 208.5 324 210.5C323 212 324.5 214 326.5 214.8" stroke="#666" stroke-width="0.6" fill="none"/>
<path d="M321.2 208.6C325 207 331 206.8 335 208C337 209 337.5 211 337 213" stroke="#777" stroke-width="0.5" fill="none"/>
<path d="M322.3 221.5C323.5 222.5 323.8 225 322.3 226" stroke="#888" stroke-width="0.42" fill="none"/>
<path d="M355.74 223.86h.01M366.4 229.36h.01M364.55 227.72h.01M358.82 226.6h.01M364.55 229.4h.01M366.34 234.41h.01M359.26 226.28h.01M359.24 226.09h.01M361.78 227.67h.01M369.3 227.14h.01M361.99 220.4h.01M364.75 228.3h.01M363.94 229.65h.01M364.99 230.8h.01M366.35 223.61h.01M362.57 223.67h.01M371.57 224.43h.01M368.02 231.3h.01M371.26 225.71h.01M359.31 226.51h.01M366.47 229.04h.01M364.91 228.3h.01M364.41 223.64h.01M358.85 231.57h.01M359.42 234.44h.01M363.85 229.85h.01M365.5 235.89h.01M365.71 226.08h.01M364.54 227.22h.01M361.94 224.03h.01M364.35 232.13h.01M364.37 231.7h.01M363.36 224.04h.01M371.11 223.43h.01M364.75 229.73h.01M367.59 227.82h.01M366.83 228.91h.01M367.15 230.28h.01M363.02 235.36h.01M364.7 224.55h.01M361.7 227.28h.01M371.04 229.97h.01M367.09 229.3h.01M363.75 229.93h.01M364.14 229.95h.01M366.48 226.58h.01M361.59 225.56h.01M371.96 224.57h.01M352.92 227.09h.01M362.06 220.44h.01M361.73 227.4h.01M370.99 230.59h.01M367.94 226.73h.01M370.8 222.81h.01M360.56 232.87h.01M364.67 222.63h.01M363.67 228.7h.01M361.78 229.94h.01M359.43 227.16h.01M360.4 229.33h.01M365.82 229.69h.01M361.71 225.21h.01M370.5 223.34h.01M359.93 228.32h.01M358.26 221.74h.01M364.73 225.46h.01M363.82 228.65h.01M366.83 226.63h.01M357.63 231.21h.01M361.7 232.86h.01M367.97 227.96h.01M371.53 228.67h.01M361.7 233.68h.01M363.58 225.95h.01M361.1 233.35h.01M361.66 224.35h.01M365.3 229.13h.01M360.53 230.82h.01M358.43 221.97h.01M361.48 223.56h.01M357.54 226.77h.01M364.74 227.92h.01M359.01 226.62h.01M365.63 225.76h.01M361.57 229.72h.01M359 222.56h.01M367.01 229.57h.01M360.45 222.55h.01M363.82 225.58h.01M362.62 223.94h.01M365.7 226.14h.01M368.69 221.19h.01M361.41 226.3h.01M361.09 230.27h.01M365.49 226.18h.01M359.88 229.28h.01M356.54 226.52h.01M366.65 228.07h.01M367.96 229.55h.01M358.86 222.83h.01M363.1 225.6h.01M364.29 227.57h.01M365.62 232.11h.01M360.82 224.92h.01M361.47 224.22h.01M362.02 230.32h.01M361.6 228.3h.01M362.9 225.59h.01M354.66 223.86h.01M366.64 221.82h.01M366.64 233.25h.01M366.64 227.79h.01M362.46 232.66h.01M366.53 227.33h.01M359.88 227.62h.01M363.4 227.11h.01M366.59 226.01h.01M367.09 233.32h.01M362.47 221.66h.01M367 225.02h.01M356.44 230.17h.01M360.21 227.69h.01M359.94 225.21h.01M364.2 220.73h.01M363.94 226.36h.01M358.97 226.4h.01M366.98 228.4h.01M370.38 227.83h.01M364.13 229.67h.01M365.81 225.59h.01M360.96 222.98h.01M362.32 226.59h.01M365.22 233.79h.01M360.64 229.44h.01M362.33 227.62h.01M361.65 221.92h.01M367.25 226.98h.01M359.69 220.14h.01M366.62 224.68h.01M368.79 226.42h.01M358.2 225.85h.01M365.21 230.72h.01M355.77 227.46h.01M359.74 226.43h.01M365.25 227.35h.01M365.31 230.42h.01M368.4 227.11h.01M356.85 231.3h.01M364.42 233.66h.01M368.75 229.69h.01M369.06 225.89h.01M363.62 229.95h.01M364.68 225.09h.01M367.72 226.07h.01M369.25 230.83h.01M363.03 222.55h.01M367.72 227.81h.01M353.76 228.05h.01M367.37 229.62h.01M359.85 231.44h.01M359.82 228.48h.01M358.02 228.03h.01M367.24 228.36h.01M363.44 230.34h.01M361.3 229.74h.01M359.02 231.43h.01M364.61 235.96h.01M366.74 228.94h.01M362.55 222.7h.01M362.27 230.21h.01M362.56 224.38h.01M366.78 220.62h.01M367.32 231.74h.01M364.1 231.97h.01M368.45 224.65h.01M366.35 225.42h.01M362.31 231.75h.01M360.09 230.79h.01M363.44 229.92h.01M361.83 226.55h.01M363.74 229.07h.01M362.55 225.75h.01M362.21 234.23h.01M358.61 227.09h.01M361 231.22h.01M364.2 224.43h.01M365.32 229.25h.01M361.97 223.9h.01M366.31 226.58h.01M362.51 224.31h.01M362.1 232.9h.01M362.17 229.77h.01M359.11 228.73h.01M374.5 232.58h.01M360.14 229.52h.01M365.23 228.98h.01M364.19 228.8h.01M357.45 226.13h.01M365.52 225.46h.01M365.94 222.28h.01M366.23 228.4h.01M366.16 234.16h.01M363.47 226.37h.01M363.63 229.62h.01M360.26 225.01h.01M371.37 225.35h.01M362.72 230.24h.01M359.01 227.57h.01M364.3 225.46h.01M367.43 224.24h.01M354.47 233.11h.01M359.12 232.36h.01M372.54 225.97h.01M368.23 227.21h.01M364.78 221.23h.01M362.07 231.17h.01M370.23 224.75h.01M360.92 233.11h.01M366.78 229.87h.01M360.13 226.31h.01M369.24 227.89h.01M358.62 224.31h.01M364.34 228.72h.01M368.8 228.79h.01M366.39 228.14h.01M359.23 227.62h.01M362.56 225.93h.01M358.92 227.24h.01M366.73 234.61h.01M373.86 223.98h.01M363.49 228.36h.01M360.41 220.68h.01M361.36 229.93h.01M365.42 223.55h.01M357.69 224.68h.01M355.43 226.76h.01M356.75 225.66h.01M368.53 227.86h.01M367.69 225.38h.01M361.56 223.69h.01M365.1 227.04h.01M362.97 229.61h.01M371.71 220.89h.01M364.8 230.2h.01M363.63 232.24h.01M362.65 225.07h.01M365.75 224.3h.01M359.31 227.66h.01M362.4 227.84h.01M374.68 229.78h.01M362.51 230.67h.01M367.26 227.21h.01M370.92 231.37h.01M358.37 230.5h.01M362.82 229.29h.01M364.95 233.29h.01M357.21 226.36h.01M362.78 223.2h.01M362.27 225.58h.01M365.4 230.94h.01M365.2 225.57h.01M364.98 221.33h.01M363.31 225.98h.01M369.02 232.08h.01M363.68 228.32h.01M357.62 224.96h.01M366.6 222.78h.01M360.09 225.76h.01M366.61 226.41h.01M361.46 228.08h.01M357.54 225.22h.01M359.26 227.27h.01M369.5 228.94h.01M370.66 229.12h.01M357.03 223.03h.01M359.54 222.73h.01M361.45 235.52h.01M358.75 225.39h.01M357.18 231.96h.01M359.73 224.41h.01M357.64 223.72h.01M366.41 227.44h.01M366.99 226.93h.01M356.93 229.81h.01M365.04 224.73h.01M361.58 231.51h.01M359.07 228.03h.01M363.29 228.09h.01M367.22 226.3h.01M368.8 225.15h.01M365.63 228.96h.01M361.45 229.2h.01M369.44 231.14h.01M360.97 227.7h.01M356.89 227.09h.01M365.93 224.49h.01M363.79 228.52h.01M358.95 225.37h.01M366.82 227.51h.01M368.6 228.98h.01M362.41 225.26h.01M363.05 229.77h.01M366.72 223.92h.01M362.86 230.77h.01M363.47 228.33h.01M367.18 222.53h.01M361.89 230.46h.01M366.62 226.48h.01M360.59 220.37h.01M360.93 233.21h.01M358.48 236.24h.01M365.18 229.26h.01M362.16 224.65h.01M355.15 229.41h.01M365.19 229.65h.01M361.11 225.94h.01M360.55 228.31h.01M359.26 223.88h.01M370.89 229.4h.01M366.94 226.5h.01" stroke="#222" stroke-width="0.55" stroke-linecap="round" fill="none" opacity="0.5"/>
<path d="M353.8 229.5C353.5 225 357.5 220.6 363.5 219.9C369 219.4 372.3 223 372.2 227.3C372 231.8 368 235 362.5 234.9C357.5 234.8 354 233 353.8 229.5Z" stroke="#444" stroke-width="0.55" fill="#c2c2c2"/>
<path d="M355.6 229.3C355.4 225.6 358.7 222.2 363.6 221.6C368 221.2 370.6 224 370.5 227.4C370.3 231 367 233.4 362.6 233.3C358.6 233.2 355.8 232 355.6 229.3Z" stroke="#444" stroke-width="0.5" fill="#959595"/>
<ellipse cx="363.6" cy="228" rx="6" ry="4.4" transform="rotate(-10 363.6 228)" fill="#686868" stroke="#333" stroke-width="0.5" opacity="1"/>
<ellipse cx="364" cy="228.5" rx="4.4" ry="3.2" transform="rotate(-10 364 228.5)" fill="#3c3c3c" stroke="#222" stroke-width="0.45" opacity="1"/>
<ellipse cx="364.4" cy="229" rx="2.8" ry="2" transform="rotate(-10 364.4 229)" fill="#161616" stroke="#111" stroke-width="0.4" opacity="1"/>
<circle cx="364.6" cy="229.3" r="0.9" fill="#e8e8e8"/>
<line x1="348" y1="170.8" x2="348" y2="239.2" stroke="#000" stroke-width="1.45"/>
<line x1="320.4" y1="217" x2="392.4" y2="217" stroke="#000" stroke-width="1.45"/>
<line x1="344.6" y1="200.4" x2="401.4" y2="200.4" stroke="#000" stroke-width="1.5"/>
<path d="M400.4 197.1L407.2 200.4L400.4 203.7Z" stroke="none" stroke-width="0" fill="#000"/>
<text transform="translate(323.4,182)" font-size="6.2" text-anchor="start" fill="#111" stroke="#111" stroke-width="0.25">6.58</text>
<text transform="translate(330,238)" font-size="6.2" text-anchor="start" fill="#111" stroke="#111" stroke-width="0.25">22.5</text>
<text transform="translate(375.8,238)" font-size="6.2" text-anchor="start" fill="#111" stroke="#111" stroke-width="0.25">69.9</text>
<line x1="317.8" y1="177.5" x2="320.4" y2="177.5" stroke="#000" stroke-width="1.1"/>
<line x1="317.8" y1="193.65" x2="320.4" y2="193.65" stroke="#000" stroke-width="1.1"/>
<line x1="317.8" y1="208.83" x2="320.4" y2="208.83" stroke="#000" stroke-width="1.1"/>
<line x1="317.8" y1="225.52" x2="320.4" y2="225.52" stroke="#000" stroke-width="1.1"/>
<line x1="317.8" y1="232.91" x2="320.4" y2="232.91" stroke="#000" stroke-width="1.1"/>
<line x1="319.4" y1="172.85" x2="319.4" y2="237.15" stroke="#000" stroke-width="1.2" stroke-dasharray="0.5 1.6"/>
<line x1="328.15" y1="239.2" x2="328.15" y2="241.8" stroke="#000" stroke-width="1.1"/>
<line x1="336.34" y1="239.2" x2="336.34" y2="241.8" stroke="#000" stroke-width="1.1"/>
<line x1="353.37" y1="239.2" x2="353.37" y2="241.8" stroke="#000" stroke-width="1.1"/>
<line x1="370.4" y1="239.2" x2="370.4" y2="241.8" stroke="#000" stroke-width="1.1"/>
<line x1="388.24" y1="239.2" x2="388.24" y2="241.8" stroke="#000" stroke-width="1.1"/>
<line x1="322.59" y1="240.2" x2="391.31" y2="240.2" stroke="#000" stroke-width="1.2" stroke-dasharray="0.5 1.6"/>
<text transform="translate(318.4,179.4) scale(1.1800,1)" font-size="5.3" text-anchor="end" stroke="#000" stroke-width="0.3">10<tspan dy="-1.91" font-size="3.18">5</tspan></text>
<text transform="translate(318.4,195.68) scale(1.1800,1)" font-size="5.3" text-anchor="end" stroke="#000" stroke-width="0.3">10<tspan dy="-1.91" font-size="3.18">4</tspan></text>
<text transform="translate(318.4,210.73) scale(1.1800,1)" font-size="5.3" text-anchor="end" stroke="#000" stroke-width="0.3">10<tspan dy="-1.91" font-size="3.18">3</tspan></text>
<text transform="translate(318.4,227.63) scale(1.1800,1)" font-size="5.3" text-anchor="end" stroke="#000" stroke-width="0.3">10<tspan dy="-1.91" font-size="3.18">2</tspan></text>
<text transform="translate(316.6,234.81) scale(1.1800,1)" font-size="5.3" text-anchor="end" stroke="#000" stroke-width="0.3">0</text>
<text transform="translate(327.13,247.4) scale(1.1800,1)" font-size="5.3" text-anchor="middle" stroke="#000" stroke-width="0.3">0</text>
<text transform="translate(335.6,247.4) scale(1.1800,1)" font-size="5.3" text-anchor="middle" stroke="#000" stroke-width="0.3">10<tspan dy="-1.91" font-size="3.18">2</tspan></text>
<text transform="translate(353.29,247.4) scale(1.1800,1)" font-size="5.3" text-anchor="middle" stroke="#000" stroke-width="0.3">10<tspan dy="-1.91" font-size="3.18">3</tspan></text>
<text transform="translate(370.25,247.4) scale(1.1800,1)" font-size="5.3" text-anchor="middle" stroke="#000" stroke-width="0.3">10<tspan dy="-1.91" font-size="3.18">4</tspan></text>
<text transform="translate(387.73,247.4) scale(1.1800,1)" font-size="5.3" text-anchor="middle" stroke="#000" stroke-width="0.3">10<tspan dy="-1.91" font-size="3.18">5</tspan></text>
<rect x="320.4" y="250.8" width="73.1" height="68.8" stroke="#000" stroke-width="1.45" fill="#fff"/>
<path d="M341.67 284.8h.01M344.48 315.87h.01M339.66 289.7h.01M330.64 278.86h.01M344.05 314.73h.01M339.7 314.06h.01M330.36 273.95h.01M333.98 317.95h.01M336.87 310.18h.01M338.24 289.76h.01M334.19 281.59h.01M331.76 316.06h.01M345.03 299.41h.01M339.67 285.55h.01M338.1 313.29h.01M323.9 316.82h.01M326.32 272.19h.01M322.57 289.43h.01M340.48 281.58h.01M345.58 306.78h.01M325.48 307.47h.01M327.31 304.18h.01M323.25 308.39h.01M330.73 303.04h.01M323.75 293.99h.01M331.66 277.02h.01M332.56 316.66h.01M322.89 316.15h.01M330.53 308.62h.01M342.35 297.96h.01M337.43 316.56h.01M333.11 308.79h.01M334.07 285.56h.01M346.91 276.73h.01M345.81 305.7h.01M326.39 312.65h.01M322.99 304.53h.01M346.05 306.63h.01M344.96 303.45h.01M340.24 313.53h.01M345.21 287.66h.01M326.35 288.2h.01M324.61 313.42h.01M332.74 316.9h.01M324.73 291.94h.01M337.09 287.77h.01M339.74 282.69h.01M322.75 312.62h.01M335.44 285.64h.01M341.65 274.95h.01M329.59 293.67h.01M343.43 298.12h.01M333.53 300.07h.01M345.3 287.97h.01M326.67 295.85h.01M325.36 281.73h.01M338.47 291.6h.01M326.44 270.08h.01M346.31 310.45h.01M337.9 296.82h.01M333.96 316.49h.01M346.77 315.47h.01M338.19 301.56h.01M345.16 281.1h.01M334.35 297.28h.01M330.11 298.32h.01M336.58 314.34h.01M333.56 289.56h.01M335.74 270.13h.01M322.73 271.37h.01M343.96 311.63h.01M340.92 282.48h.01M337.37 277.22h.01M335.47 295.24h.01M338.93 275.83h.01M345.17 298.27h.01M346.97 274.44h.01M340.16 309.26h.01M346.83 281.34h.01M330.16 312.85h.01M339.48 275.35h.01M337.16 284.3h.01M341.99 275.05h.01M340.06 289.24h.01M325.96 282.16h.01M341.98 315.45h.01M346.14 271.9h.01M344.07 300.1h.01M331.75 271.86h.01M339.92 295.72h.01M327.4 295.67h.01M324 315.3h.01M343.17 305.2h.01M346.82 278.55h.01M334.1 315.83h.01M344.58 300.75h.01M324.77 293.74h.01M335.82 295.81h.01M329.18 280.65h.01M329.55 281.84h.01M346.06 278.1h.01M327.16 317.15h.01M325.22 271.59h.01M331.81 296.72h.01M338.44 311.66h.01M344.91 270.69h.01M342.03 280.54h.01M337.24 309.56h.01M325.04 296.03h.01M345.28 289.64h.01M337.99 306.8h.01M331.11 275.2h.01M339.34 271.07h.01M345.19 293.12h.01M335.84 276.83h.01M335.4 291.11h.01M338.32 274.45h.01M329.18 295.99h.01M341.32 301.77h.01M322.67 315.14h.01" stroke="#555" stroke-width="0.5" stroke-linecap="round" fill="none" opacity="0.5"/>
<circle cx="353.09" cy="271.1" r="0.25" fill="#666"/>
<circle cx="380.11" cy="270.18" r="0.25" fill="#666"/>
<circle cx="364" cy="278.55" r="0.25" fill="#666"/>
<circle cx="372.65" cy="272.59" r="0.25" fill="#666"/>
<circle cx="368.4" cy="274.17" r="0.25" fill="#666"/>
<circle cx="388.44" cy="273.08" r="0.25" fill="#666"/>
<circle cx="353.18" cy="287.46" r="0.25" fill="#666"/>
<circle cx="371.79" cy="265.83" r="0.25" fill="#666"/>
<circle cx="378.33" cy="274.94" r="0.25" fill="#666"/>
<circle cx="369.17" cy="270.83" r="0.25" fill="#666"/>
<circle cx="358.51" cy="281.65" r="0.25" fill="#666"/>
<circle cx="362.32" cy="281.96" r="0.25" fill="#666"/>
<circle cx="365.37" cy="286.64" r="0.25" fill="#666"/>
<circle cx="359.76" cy="284.83" r="0.25" fill="#666"/>
<circle cx="385.82" cy="262.89" r="0.25" fill="#666"/>
<circle cx="370.08" cy="276.56" r="0.25" fill="#666"/>
<circle cx="377.1" cy="274.84" r="0.25" fill="#666"/>
<circle cx="365.01" cy="277.62" r="0.25" fill="#666"/>
<circle cx="357.58" cy="295.85" r="0.25" fill="#666"/>
<circle cx="351.78" cy="283.93" r="0.25" fill="#666"/>
<circle cx="353.79" cy="289.75" r="0.25" fill="#666"/>
<circle cx="357.98" cy="287.09" r="0.25" fill="#666"/>
<circle cx="390.5" cy="265.47" r="0.25" fill="#666"/>
<circle cx="373.13" cy="275.47" r="0.25" fill="#666"/>
<circle cx="377.4" cy="272.8" r="0.25" fill="#666"/>
<circle cx="361.39" cy="283.68" r="0.25" fill="#666"/>
<circle cx="380.42" cy="262.5" r="0.25" fill="#666"/>
<circle cx="360.88" cy="279.53" r="0.25" fill="#666"/>
<circle cx="371.2" cy="285.32" r="0.25" fill="#666"/>
<circle cx="379.04" cy="282.5" r="0.25" fill="#666"/>
<circle cx="371.87" cy="270.16" r="0.25" fill="#666"/>
<circle cx="363.75" cy="278.81" r="0.25" fill="#666"/>
<circle cx="366.07" cy="279.11" r="0.25" fill="#666"/>
<circle cx="384.77" cy="265.89" r="0.25" fill="#666"/>
<circle cx="369.65" cy="273.97" r="0.25" fill="#666"/>
<circle cx="359.1" cy="275.12" r="0.25" fill="#666"/>
<circle cx="362.57" cy="275.71" r="0.25" fill="#666"/>
<circle cx="359.78" cy="283.07" r="0.25" fill="#666"/>
<circle cx="371.45" cy="271.58" r="0.25" fill="#666"/>
<circle cx="374.72" cy="264.49" r="0.25" fill="#666"/>
<circle cx="386.77" cy="265.81" r="0.25" fill="#666"/>
<circle cx="354.62" cy="284.66" r="0.25" fill="#666"/>
<circle cx="365.41" cy="284.96" r="0.25" fill="#666"/>
<circle cx="362.08" cy="287.18" r="0.25" fill="#666"/>
<circle cx="388.83" cy="260.45" r="0.25" fill="#666"/>
<circle cx="382.48" cy="267.94" r="0.25" fill="#666"/>
<circle cx="371.73" cy="272.53" r="0.25" fill="#666"/>
<circle cx="368.89" cy="282.38" r="0.25" fill="#666"/>
<circle cx="349.5" cy="295.65" r="0.25" fill="#666"/>
<circle cx="373.3" cy="270.19" r="0.25" fill="#666"/>
<circle cx="349.3" cy="296.1" r="0.25" fill="#666"/>
<circle cx="371.28" cy="279.07" r="0.25" fill="#666"/>
<circle cx="379.3" cy="270.63" r="0.25" fill="#666"/>
<circle cx="372.74" cy="273.23" r="0.25" fill="#666"/>
<circle cx="366.12" cy="270.62" r="0.25" fill="#666"/>
<circle cx="366.51" cy="287.03" r="0.25" fill="#666"/>
<circle cx="383.05" cy="279.83" r="0.25" fill="#666"/>
<circle cx="362.68" cy="280.51" r="0.25" fill="#666"/>
<circle cx="354.99" cy="281.15" r="0.25" fill="#666"/>
<circle cx="365.09" cy="275.67" r="0.25" fill="#666"/>
<circle cx="381.74" cy="268.68" r="0.25" fill="#666"/>
<circle cx="357.45" cy="278.08" r="0.25" fill="#666"/>
<circle cx="382.54" cy="273.07" r="0.25" fill="#666"/>
<circle cx="370.54" cy="280.66" r="0.25" fill="#666"/>
<circle cx="357.77" cy="286.47" r="0.25" fill="#666"/>
<circle cx="365.95" cy="287.22" r="0.25" fill="#666"/>
<circle cx="368.14" cy="280.82" r="0.25" fill="#666"/>
<circle cx="369.92" cy="277.5" r="0.25" fill="#666"/>
<circle cx="363.17" cy="287.43" r="0.25" fill="#666"/>
<circle cx="354.51" cy="276.33" r="0.25" fill="#666"/>
<circle cx="373.99" cy="274.54" r="0.25" fill="#666"/>
<circle cx="368" cy="278.33" r="0.25" fill="#666"/>
<circle cx="355.42" cy="286.87" r="0.25" fill="#666"/>
<circle cx="353.62" cy="289.68" r="0.25" fill="#666"/>
<circle cx="391.45" cy="267.89" r="0.25" fill="#666"/>
<circle cx="367.44" cy="275.44" r="0.25" fill="#666"/>
<circle cx="350.85" cy="287.73" r="0.25" fill="#666"/>
<circle cx="359.49" cy="284.94" r="0.25" fill="#666"/>
<circle cx="351.11" cy="293.5" r="0.25" fill="#666"/>
<circle cx="379.22" cy="261.79" r="0.25" fill="#666"/>
<circle cx="388.74" cy="262.22" r="0.25" fill="#666"/>
<circle cx="372.96" cy="281.05" r="0.25" fill="#666"/>
<circle cx="366.27" cy="276.89" r="0.25" fill="#666"/>
<circle cx="354.18" cy="292.43" r="0.25" fill="#666"/>
<circle cx="354.46" cy="288.57" r="0.25" fill="#666"/>
<circle cx="366.32" cy="280.35" r="0.25" fill="#666"/>
<circle cx="364.12" cy="270.66" r="0.25" fill="#666"/>
<circle cx="375.06" cy="277.79" r="0.25" fill="#666"/>
<circle cx="370.19" cy="263.65" r="0.25" fill="#666"/>
<circle cx="371.92" cy="267.05" r="0.25" fill="#666"/>
<circle cx="352.79" cy="283.4" r="0.25" fill="#666"/>
<circle cx="361.09" cy="296.11" r="0.25" fill="#666"/>
<circle cx="387.37" cy="267.9" r="0.25" fill="#666"/>
<circle cx="351.95" cy="286.61" r="0.25" fill="#666"/>
<circle cx="383.64" cy="272.62" r="0.25" fill="#666"/>
<circle cx="366.86" cy="266.32" r="0.25" fill="#666"/>
<circle cx="372.67" cy="271.56" r="0.25" fill="#666"/>
<circle cx="353.53" cy="284.63" r="0.25" fill="#666"/>
<circle cx="352.64" cy="284.88" r="0.25" fill="#666"/>
<circle cx="385.4" cy="274.02" r="0.25" fill="#666"/>
<circle cx="380.76" cy="272.13" r="0.25" fill="#666"/>
<circle cx="384.66" cy="267.13" r="0.25" fill="#666"/>
<circle cx="375.86" cy="279.1" r="0.25" fill="#666"/>
<circle cx="383.94" cy="263.28" r="0.25" fill="#666"/>
<circle cx="362.03" cy="281.69" r="0.25" fill="#666"/>
<circle cx="349.38" cy="296.18" r="0.25" fill="#666"/>
<circle cx="373.17" cy="276.56" r="0.25" fill="#666"/>
<circle cx="366.93" cy="285.73" r="0.25" fill="#666"/>
<circle cx="363.2" cy="279.5" r="0.25" fill="#666"/>
<circle cx="366.93" cy="280.56" r="0.25" fill="#666"/>
<circle cx="370.73" cy="273.14" r="0.25" fill="#666"/>
<circle cx="353.69" cy="286" r="0.25" fill="#666"/>
<circle cx="368.32" cy="286.22" r="0.25" fill="#666"/>
<circle cx="349.76" cy="288.94" r="0.25" fill="#666"/>
<circle cx="350.26" cy="280.31" r="0.25" fill="#666"/>
<circle cx="355.29" cy="288.21" r="0.25" fill="#666"/>
<circle cx="357.65" cy="288.67" r="0.25" fill="#666"/>
<circle cx="378.61" cy="276.32" r="0.25" fill="#666"/>
<circle cx="387.49" cy="266.01" r="0.25" fill="#666"/>
<circle cx="351.46" cy="291.4" r="0.25" fill="#666"/>
<circle cx="381.73" cy="258.73" r="0.25" fill="#666"/>
<circle cx="378.81" cy="256.6" r="0.25" fill="#666"/>
<circle cx="350.24" cy="291.93" r="0.25" fill="#666"/>
<circle cx="367.71" cy="275.18" r="0.25" fill="#666"/>
<circle cx="357.53" cy="282.55" r="0.25" fill="#666"/>
<circle cx="385.84" cy="270.32" r="0.25" fill="#666"/>
<circle cx="386.39" cy="271.38" r="0.25" fill="#666"/>
<circle cx="359.17" cy="291.57" r="0.25" fill="#666"/>
<circle cx="377.09" cy="270.8" r="0.25" fill="#666"/>
<circle cx="354.81" cy="274.96" r="0.25" fill="#666"/>
<circle cx="352.99" cy="283.79" r="0.25" fill="#666"/>
<circle cx="367.56" cy="290.36" r="0.25" fill="#666"/>
<circle cx="350.35" cy="290.76" r="0.25" fill="#666"/>
<circle cx="356.76" cy="278.58" r="0.25" fill="#666"/>
<circle cx="370.97" cy="272.26" r="0.25" fill="#666"/>
<circle cx="355.85" cy="286.56" r="0.25" fill="#666"/>
<circle cx="372" cy="266.88" r="0.25" fill="#666"/>
<circle cx="359.36" cy="292.86" r="0.25" fill="#666"/>
<circle cx="360.87" cy="291.02" r="0.25" fill="#666"/>
<circle cx="372.08" cy="281.93" r="0.25" fill="#666"/>
<circle cx="375.82" cy="277.4" r="0.25" fill="#666"/>
<circle cx="374.23" cy="285.48" r="0.25" fill="#666"/>
<circle cx="357.1" cy="281" r="0.25" fill="#666"/>
<circle cx="367.5" cy="280.29" r="0.25" fill="#666"/>
<circle cx="364.42" cy="284.96" r="0.25" fill="#666"/>
<circle cx="367.44" cy="282.3" r="0.25" fill="#666"/>
<circle cx="353.64" cy="278.07" r="0.25" fill="#666"/>
<circle cx="377.25" cy="271.74" r="0.25" fill="#666"/>
<circle cx="387.7" cy="256.92" r="0.25" fill="#666"/>
<circle cx="362.65" cy="268.1" r="0.25" fill="#666"/>
<circle cx="359.75" cy="289.04" r="0.25" fill="#666"/>
<circle cx="357.27" cy="284.32" r="0.25" fill="#666"/>
<circle cx="349.5" cy="287.81" r="0.25" fill="#666"/>
<circle cx="352.14" cy="292.14" r="0.25" fill="#666"/>
<circle cx="390.24" cy="262.2" r="0.25" fill="#666"/>
<circle cx="372.65" cy="273.53" r="0.25" fill="#666"/>
<circle cx="355.63" cy="288.55" r="0.25" fill="#666"/>
<circle cx="355.48" cy="284.58" r="0.25" fill="#666"/>
<circle cx="365.05" cy="276.83" r="0.25" fill="#666"/>
<circle cx="376.39" cy="266.65" r="0.25" fill="#666"/>
<circle cx="353.47" cy="285.88" r="0.25" fill="#666"/>
<circle cx="362.53" cy="282.52" r="0.25" fill="#666"/>
<circle cx="368.61" cy="272.24" r="0.25" fill="#666"/>
<circle cx="389.57" cy="266.65" r="0.25" fill="#666"/>
<circle cx="362.06" cy="286.48" r="0.25" fill="#666"/>
<circle cx="363.22" cy="281.48" r="0.25" fill="#666"/>
<circle cx="377.91" cy="258.19" r="0.25" fill="#666"/>
<circle cx="362.75" cy="274.09" r="0.25" fill="#666"/>
<circle cx="382.7" cy="272.53" r="0.25" fill="#666"/>
<circle cx="367.28" cy="269.9" r="0.25" fill="#666"/>
<circle cx="353.31" cy="281.94" r="0.25" fill="#666"/>
<circle cx="363.91" cy="289.27" r="0.25" fill="#666"/>
<circle cx="363.05" cy="278.01" r="0.25" fill="#666"/>
<circle cx="361.56" cy="280.13" r="0.25" fill="#666"/>
<circle cx="352.14" cy="274.7" r="0.25" fill="#666"/>
<circle cx="355.46" cy="290.73" r="0.25" fill="#666"/>
<circle cx="358.96" cy="290.86" r="0.25" fill="#666"/>
<circle cx="385.14" cy="267.36" r="0.25" fill="#666"/>
<circle cx="350.56" cy="293.92" r="0.25" fill="#666"/>
<circle cx="376.52" cy="265.33" r="0.25" fill="#666"/>
<circle cx="359.66" cy="284.46" r="0.25" fill="#666"/>
<circle cx="375.78" cy="265.86" r="0.25" fill="#666"/>
<circle cx="369.6" cy="276.29" r="0.25" fill="#666"/>
<circle cx="366.68" cy="283.12" r="0.25" fill="#666"/>
<circle cx="370.51" cy="264.36" r="0.25" fill="#666"/>
<circle cx="381.68" cy="254.79" r="0.25" fill="#666"/>
<circle cx="352.3" cy="281.33" r="0.25" fill="#666"/>
<circle cx="372.15" cy="281.26" r="0.25" fill="#666"/>
<circle cx="383.56" cy="253.41" r="0.25" fill="#666"/>
<circle cx="383.54" cy="271.34" r="0.25" fill="#666"/>
<circle cx="381.8" cy="261.19" r="0.25" fill="#666"/>
<circle cx="360.71" cy="283.21" r="0.25" fill="#666"/>
<circle cx="353.99" cy="284.43" r="0.25" fill="#666"/>
<circle cx="355.77" cy="294.54" r="0.25" fill="#666"/>
<circle cx="363.96" cy="276.8" r="0.25" fill="#666"/>
<circle cx="363.68" cy="283.15" r="0.25" fill="#666"/>
<circle cx="365.64" cy="284.26" r="0.25" fill="#666"/>
<circle cx="356.72" cy="285.32" r="0.25" fill="#666"/>
<circle cx="353.37" cy="285.61" r="0.25" fill="#666"/>
<circle cx="382.78" cy="270.95" r="0.25" fill="#666"/>
<circle cx="364.3" cy="276.98" r="0.25" fill="#666"/>
<circle cx="376.02" cy="277.63" r="0.25" fill="#666"/>
<circle cx="350.78" cy="286.12" r="0.25" fill="#666"/>
<circle cx="376.9" cy="264.42" r="0.25" fill="#666"/>
<circle cx="350.68" cy="285.69" r="0.25" fill="#666"/>
<circle cx="357.4" cy="284.96" r="0.25" fill="#666"/>
<circle cx="349.26" cy="295.03" r="0.25" fill="#666"/>
<circle cx="369.3" cy="274.06" r="0.25" fill="#666"/>
<path d="M362.8 316.99h.01M362.52 309.87h.01M355.28 306.47h.01M367.37 302.35h.01M355.77 305.81h.01M346.66 312.06h.01M364.9 310.95h.01M361.13 302.06h.01M368.04 312.14h.01M367.95 305.11h.01M365.49 315.54h.01M361.05 308.56h.01M358.19 302.15h.01M361.66 303.18h.01M361.75 308.47h.01M355.37 302.62h.01M355.67 313.59h.01M356.51 311.05h.01M357.53 302.37h.01M358.86 306.25h.01M357.26 301.53h.01M360.57 302.36h.01M357.39 306.35h.01M373.87 307.71h.01M360.08 313.84h.01M360.58 303.48h.01M359.36 311.61h.01M365.53 313.98h.01M341.6 306.21h.01M356.76 303.93h.01M361.95 308.92h.01M357.95 308.03h.01M358.05 305.82h.01M366.85 305.26h.01M369.96 310.41h.01M359.05 305.46h.01M355.22 312.26h.01M364.45 305.49h.01M364.77 299.13h.01M367.14 306.37h.01M361.35 306.58h.01M358.25 300.38h.01M354.92 314.38h.01M354.93 314.13h.01M357.42 312.45h.01M358.68 306.59h.01M364.51 309.86h.01M354.01 310.38h.01M372.07 305.7h.01M365.99 312.49h.01M361.87 308.99h.01M369.09 313h.01M358.96 303.32h.01M354.31 305.38h.01M365 310.78h.01M361.57 307.44h.01M360.02 306.49h.01M357.45 307.46h.01M362.12 308.66h.01M348.47 312.75h.01M363.8 311.42h.01M358.85 311.58h.01M361.46 311.95h.01M363.22 307.73h.01M364.83 301.78h.01M353.08 309.54h.01M345.98 304.12h.01M368.46 310.19h.01M363.63 302.74h.01M362.13 307.76h.01M354.2 303.7h.01M366.06 310.18h.01M363.58 302.56h.01M353.73 313.01h.01M363.6 306.53h.01M360.52 315.43h.01M360.67 303.76h.01M374.19 307.39h.01M356.45 305.8h.01M361.19 308.34h.01M356.34 310.66h.01M363.57 309.45h.01M365.99 303.04h.01M359 309.47h.01M370.36 304.41h.01M361.14 301.96h.01M358.9 305.09h.01M360.19 307.91h.01M359.11 310.31h.01M366.68 312.11h.01M356.41 309.23h.01M361.91 302.39h.01M355.55 300.31h.01M362.66 312.02h.01M367.85 310.81h.01M360.5 306.99h.01M359.44 309.29h.01M363.28 303.02h.01M360.66 314.2h.01M369.79 304.63h.01M359.68 308.57h.01M357.84 310.3h.01M359.29 304.55h.01M362.82 305.35h.01M369.5 302.3h.01M359.21 307.72h.01M362.86 300.35h.01M365.87 312.82h.01M364.16 309.92h.01" stroke="#444" stroke-width="0.5" stroke-linecap="round" fill="none" opacity="0.5"/>
<ellipse cx="360.8" cy="308.8" rx="3.8" ry="3" transform="rotate(-10 360.8 308.8)" fill="none" stroke="#666" stroke-width="0.5" opacity="1"/>
<ellipse cx="360.9" cy="308.6" rx="2" ry="1.4" transform="rotate(-10 360.9 308.6)" fill="none" stroke="#888" stroke-width="0.4" opacity="1"/>
<path d="M321.2 283C326 279.5 336 279.5 341.5 282.5C345.5 285.5 346 292 345.5 298C345.2 304 344.5 309 342.5 312" stroke="#777" stroke-width="0.5" fill="none"/>
<path d="M321.2 285C326 282 335 282 340 284.5C343.5 287 344 292 343.5 297C343.2 302 342.5 306 341 309" stroke="#888" stroke-width="0.45" fill="none"/>
<ellipse cx="330.6" cy="288.6" rx="10" ry="6.4" transform="rotate(-6 330.6 288.6)" fill="#f6f6f6" stroke="#5a5a5a" stroke-width="0.5" opacity="1"/>
<ellipse cx="330.2" cy="288.6" rx="7.2" ry="4.61" transform="rotate(-6 330.2 288.6)" fill="#f0f0f0" stroke="#5a5a5a" stroke-width="0.5" opacity="1"/>
<ellipse cx="329.8" cy="288.6" rx="5.18" ry="3.32" transform="rotate(-6 329.8 288.6)" fill="#eaeaea" stroke="#5a5a5a" stroke-width="0.5" opacity="1"/>
<ellipse cx="329.4" cy="288.6" rx="3.73" ry="2.39" transform="rotate(-6 329.4 288.6)" fill="#fcfcfc" stroke="#5a5a5a" stroke-width="0.5" opacity="1"/>
<path d="M330.15 310.26h.01M330.7 310.09h.01M328.79 315.24h.01M328.44 311.28h.01M336.66 304.03h.01M321.34 312.92h.01M333.52 310.09h.01M325.82 304.86h.01M326.6 301.28h.01M329.51 305.72h.01M330.26 305.11h.01M335.16 309.89h.01M325.68 311.15h.01M337.3 311.81h.01M333.9 302.9h.01M329.69 306.55h.01M344.2 302.34h.01M333.17 307.21h.01M332.15 311.4h.01M333.1 310.74h.01M337.52 311.06h.01M334.77 305.4h.01M337.16 301.09h.01M330.83 313.5h.01M330.68 307.73h.01M335.65 307.74h.01M327.92 308.28h.01M343.08 307.47h.01M325.7 308.15h.01M336.2 308.12h.01M341 307.15h.01M336.23 312.62h.01M337 310.39h.01M332.34 307.73h.01M336.35 310.53h.01M334.64 300.69h.01M323.31 306.85h.01M322.33 306.47h.01M339.73 307.21h.01M331.69 310.87h.01M322.11 308.35h.01M332.31 304.93h.01M331.95 309.62h.01M331.1 307.01h.01M337.45 308.29h.01M336.87 297.44h.01M330.42 311.7h.01M333.48 309.35h.01M334.54 314.7h.01M328.67 301.99h.01M331.61 305.35h.01M338.25 307.04h.01M329.97 315.2h.01M331.01 308.75h.01M331.19 305.91h.01M342.49 307.57h.01M323.04 316.96h.01M324.69 305.28h.01M328.28 316.4h.01M327.24 305.84h.01M329.09 311.12h.01M324.33 316.29h.01M323.56 305.37h.01M330.92 306.56h.01M322.66 303.76h.01M343.1 312.53h.01M329.88 308.04h.01M337.07 307.33h.01M338.7 298.13h.01M335.69 308.67h.01M325.95 308.19h.01M329.64 304.31h.01M324.88 308.56h.01M332.3 303.08h.01M321.83 313.32h.01M332.81 309.29h.01M326.86 300.09h.01M336.21 309.15h.01M329.72 301.67h.01M322.39 305.95h.01M336.45 304.2h.01M328.05 309.88h.01M325.44 314.38h.01M334.56 305.04h.01M336.6 309.33h.01M323.24 311.4h.01M339.78 309.5h.01M334.96 308.65h.01M321.45 310.42h.01M334.09 313.45h.01M334.46 308.35h.01M330.17 309.5h.01M333.76 303.1h.01M334.2 304.05h.01M329.65 307.66h.01M335.77 306.6h.01M323.68 301.93h.01M326.39 310.03h.01M331.91 300.8h.01M336.16 305.82h.01M327.24 312.02h.01M323.58 304.64h.01M335.03 303.04h.01M330.86 314.9h.01M332.82 300.48h.01M335.93 310.37h.01M334.6 304.82h.01M331.89 308.94h.01M330.58 307.05h.01M327.24 311.66h.01M334.19 311.88h.01M330.79 306.46h.01M326.98 313.3h.01M325.37 304.48h.01M329.81 311.66h.01M337.29 306.13h.01M329.38 312.38h.01M336.84 311.46h.01M339.11 305.91h.01M342.54 308.2h.01M331.53 309.02h.01M329.7 312.86h.01M349.15 308.21h.01M330.31 308.3h.01M324.21 297.93h.01M334.5 308.34h.01M335.25 310.54h.01M329.9 308.68h.01M340.96 306.4h.01M329.23 313.51h.01M331.91 317.96h.01M330.03 302.43h.01M323.04 305.64h.01M343.48 309.2h.01M327.03 308.21h.01M324.94 312.96h.01M331.9 305.27h.01M336.53 309.55h.01M340.19 306.16h.01M324.49 307.47h.01M340.08 310.84h.01M329.74 309.33h.01M333.51 307.66h.01M321.93 309.2h.01M325.2 306.95h.01M330.7 305.01h.01M329.12 304.02h.01M342.48 306.32h.01M333.18 316.31h.01M325.85 309.25h.01M333.23 309.99h.01M335.12 308.65h.01M324.07 311.94h.01M338.6 304.56h.01M345.08 305.79h.01M334.35 305.56h.01M338.73 309.45h.01M345.31 309.5h.01M329.18 313.91h.01M330.06 303.47h.01M332.63 300.42h.01M338.87 313.16h.01M342.14 307.31h.01M324.21 305.05h.01M337.29 310.96h.01M329.74 310.79h.01M335.2 306.69h.01M334.8 315.5h.01M336.95 315.65h.01M326.8 305.66h.01M329.21 309.52h.01M328.79 307.49h.01M334.83 306.26h.01M328.49 311.58h.01M335.94 309.75h.01M324.02 306.75h.01M336.27 304.46h.01M326.59 302.83h.01M326.48 311.1h.01M331.73 309.9h.01M339.72 306.51h.01M339.57 313.18h.01M325.77 310.22h.01M332.24 304.75h.01M326.72 301.63h.01" stroke="#333" stroke-width="0.5" stroke-linecap="round" fill="none" opacity="0.4"/>
<path d="M321.2 299.8C327 298.4 336 298.4 341 300.6C344.6 302.6 345.4 307 344.6 311C343.6 315 339 318 333 318.6" stroke="#666" stroke-width="0.5" fill="none"/>
<path d="M321.2 301.8C327 300.4 335 300.6 339.4 302.6C342.4 304.4 343 307.6 342.2 310.6C341.2 313.6 337.4 315.6 332 316" stroke="#666" stroke-width="0.5" fill="#f4f4f4"/>
<path d="M321.2 303.6C326.5 302.4 333.5 302.6 337.6 304.4C340 305.8 340.4 308.2 339.6 310.4C338.6 312.6 335 313.8 330 314" stroke="#666" stroke-width="0.5" fill="#e6e6e6"/>
<path d="M321.2 305.4C326 304.4 332 304.6 335.6 306.0C337.6 307.2 337.8 308.8 337 310.4C336 312 333 312.6 328 312.6L321.2 312.4" stroke="#5a5a5a" stroke-width="0.5" fill="#cfcfcf"/>
<path d="M321.2 306.9C325.5 306.2 330.5 306.4 333.6 307.6C335.2 308.5 335.2 309.7 334.4 310.6C333.4 311.5 330.6 311.8 326.6 311.7L321.2 311.5" stroke="#555" stroke-width="0.45" fill="#9c9c9c"/>
<ellipse cx="327.6" cy="310.1" rx="7" ry="1.25" transform="rotate(-3 327.6 310.1)" fill="#0c0c0c" stroke="none" stroke-width="0" opacity="1"/>
<rect x="319" y="300" width="1.4" height="19" stroke="none" stroke-width="0" fill="#fff"/>
<rect x="320.4" y="250.8" width="73.1" height="68.8" stroke="#000" stroke-width="1.45" fill="none"/>
<line x1="347.4" y1="250.8" x2="347.4" y2="319.6" stroke="#000" stroke-width="1.45"/>
<line x1="320.4" y1="297.7" x2="392" y2="297.7" stroke="#000" stroke-width="1.45"/>
<line x1="344" y1="270" x2="401.4" y2="270" stroke="#000" stroke-width="1.5"/>
<path d="M400.4 266.7L407.2 270L400.4 273.3Z" stroke="none" stroke-width="0" fill="#000"/>
<text transform="translate(323.4,261.6)" font-size="6.2" text-anchor="start" fill="#111" stroke="#111" stroke-width="0.25">11.4</text>
<text transform="translate(326,318.2)" font-size="6.2" text-anchor="start" fill="#111" stroke="#111" stroke-width="0.25">84.9</text>
<text transform="translate(378,316.2)" font-size="6.2" text-anchor="start" fill="#111" stroke="#111" stroke-width="0.25">1.4</text>
<line x1="317.8" y1="257.54" x2="320.4" y2="257.54" stroke="#000" stroke-width="1.1"/>
<line x1="317.8" y1="273.78" x2="320.4" y2="273.78" stroke="#000" stroke-width="1.1"/>
<line x1="317.8" y1="289.05" x2="320.4" y2="289.05" stroke="#000" stroke-width="1.1"/>
<line x1="317.8" y1="305.84" x2="320.4" y2="305.84" stroke="#000" stroke-width="1.1"/>
<line x1="317.8" y1="313.27" x2="320.4" y2="313.27" stroke="#000" stroke-width="1.1"/>
<line x1="319.4" y1="252.86" x2="319.4" y2="317.54" stroke="#000" stroke-width="1.2" stroke-dasharray="0.5 1.6"/>
<line x1="328.15" y1="319.6" x2="328.15" y2="322.2" stroke="#000" stroke-width="1.1"/>
<line x1="336.34" y1="319.6" x2="336.34" y2="322.2" stroke="#000" stroke-width="1.1"/>
<line x1="353.37" y1="319.6" x2="353.37" y2="322.2" stroke="#000" stroke-width="1.1"/>
<line x1="370.4" y1="319.6" x2="370.4" y2="322.2" stroke="#000" stroke-width="1.1"/>
<line x1="388.24" y1="319.6" x2="388.24" y2="322.2" stroke="#000" stroke-width="1.1"/>
<line x1="322.59" y1="320.6" x2="391.31" y2="320.6" stroke="#000" stroke-width="1.2" stroke-dasharray="0.5 1.6"/>
<text transform="translate(318.4,259.44) scale(1.1800,1)" font-size="5.3" text-anchor="end" stroke="#000" stroke-width="0.3">10<tspan dy="-1.91" font-size="3.18">5</tspan></text>
<text transform="translate(318.4,275.82) scale(1.1800,1)" font-size="5.3" text-anchor="end" stroke="#000" stroke-width="0.3">10<tspan dy="-1.91" font-size="3.18">4</tspan></text>
<text transform="translate(318.4,290.95) scale(1.1800,1)" font-size="5.3" text-anchor="end" stroke="#000" stroke-width="0.3">10<tspan dy="-1.91" font-size="3.18">3</tspan></text>
<text transform="translate(318.4,307.95) scale(1.1800,1)" font-size="5.3" text-anchor="end" stroke="#000" stroke-width="0.3">10<tspan dy="-1.91" font-size="3.18">2</tspan></text>
<text transform="translate(316.6,315.17) scale(1.1800,1)" font-size="5.3" text-anchor="end" stroke="#000" stroke-width="0.3">0</text>
<text transform="translate(327.13,327.8) scale(1.1800,1)" font-size="5.3" text-anchor="middle" stroke="#000" stroke-width="0.3">0</text>
<text transform="translate(335.6,327.8) scale(1.1800,1)" font-size="5.3" text-anchor="middle" stroke="#000" stroke-width="0.3">10<tspan dy="-1.91" font-size="3.18">2</tspan></text>
<text transform="translate(353.29,327.8) scale(1.1800,1)" font-size="5.3" text-anchor="middle" stroke="#000" stroke-width="0.3">10<tspan dy="-1.91" font-size="3.18">3</tspan></text>
<text transform="translate(370.25,327.8) scale(1.1800,1)" font-size="5.3" text-anchor="middle" stroke="#000" stroke-width="0.3">10<tspan dy="-1.91" font-size="3.18">4</tspan></text>
<text transform="translate(387.73,327.8) scale(1.1800,1)" font-size="5.3" text-anchor="middle" stroke="#000" stroke-width="0.3">10<tspan dy="-1.91" font-size="3.18">5</tspan></text>
<rect x="421.25" y="170.5" width="73.25" height="69" stroke="#000" stroke-width="1.45" fill="#fff"/>
<path d="M452 238.6L455.79 237.17L457.59 235.78L459.23 234.4L460.31 233.02L460.25 231.67L459.99 230.32L459.77 228.97L459.78 228.4L460.03 227.06L460.35 225.73L460.49 224.38L460.32 223L459.96 221.62L459.67 220.23L459.64 218.87L459.89 217.5L460.2 216.16L460.33 214.81L460.2 213.44L459.91 212.06L459.68 210.69L459.18 207.91L458.25 206.68L456.99 205.5L455.38 204.38L452.2 203.5L452.2 203.5L449.44 205.3L448.24 206.85L447.49 208.34L446.88 209.8L446.35 209.69L445.85 211.01L445.84 212.37L446.05 213.74L445.88 215.09L445.26 216.4L444.8 217.68L444.85 219.05L445.02 220.42L444.71 221.76L443.99 223.06L443.57 224.38L443.72 225.75L443.87 227.13L443.72 229.27L443.35 230.63L443.41 231.99L443.98 233.33L445.17 234.66L446.31 236L447.81 237.32L452 238.6Z" stroke="#5a5a5a" stroke-width="0.5" fill="#f4f4f4" stroke-linejoin="round"/>
<path d="M451.99 238.25L455.66 236.85L457.07 235.5L458.01 234.15L458.6 232.81L458.78 231.48L459.14 230.14L459.47 228.81L459.5 228.24L459.26 226.89L458.94 225.53L458.79 224.19L458.9 222.86L459.17 221.55L459.4 220.24L459.39 218.91L459.19 217.52L458.93 216.17L458.81 214.83L458.94 213.51L459.21 212.2L459.43 210.88L459.04 208.18L457.81 207.02L456.33 205.91L454.86 204.79L452.25 203.85L452.25 203.85L449.89 205.56L448.68 207.08L447.91 208.55L447.59 209.94L447.39 209.98L446.84 211.27L446.5 212.58L446.6 213.92L446.73 215.26L446.42 216.57L445.83 217.82L445.53 219.13L445.66 220.47L445.72 221.81L445.29 223.11L444.65 224.39L444.43 225.7L444.63 227.05L444.85 229.08L444.66 230.42L444.39 231.75L444.61 233.07L445.83 234.38L447.13 235.68L448.43 236.99L451.99 238.25Z" stroke="#5a5a5a" stroke-width="0.5" fill="#ededed" stroke-linejoin="round"/>
<path d="M456.36 229.38h.01M449.35 213.61h.01M456.22 214.6h.01M454.29 218.58h.01M456.95 196.24h.01M453.17 224.27h.01M448.89 220.34h.01M450.55 216.77h.01M453.57 219.9h.01M454.53 224.26h.01M453.14 207.45h.01M454.49 229.39h.01M461.16 216.77h.01M455.65 229.52h.01M458.18 228.14h.01M449.7 230.33h.01M455.37 213.93h.01M451.49 221.8h.01M449.38 207.26h.01M451.36 215.59h.01M450.48 225.13h.01M452.97 222.63h.01M452.98 236.69h.01M455.31 209.85h.01M450.59 226.22h.01M453.6 216.16h.01M458.52 233.41h.01M451.55 222.96h.01M448.94 235.12h.01M455.1 209.4h.01M448.19 217.23h.01M447.23 236.59h.01M450.65 221.67h.01M449 214.52h.01M449.96 210.33h.01M454.04 216.35h.01M456.52 228.58h.01M451.61 223.14h.01M457.42 214.28h.01M450.92 224.54h.01M450.74 204.28h.01M451.72 221.41h.01M449.28 228.03h.01M449.93 233.51h.01M449.52 220.13h.01M450.11 217.68h.01M449.5 195.32h.01M452.26 224.57h.01M449.64 215.79h.01M455.25 225.89h.01M454.13 231.51h.01M449.45 218.8h.01M455.78 212.83h.01M453.6 203.7h.01M451.9 225.38h.01M450.95 229.45h.01M451.85 214.42h.01M451.95 220.62h.01M454.57 199.28h.01M448 212.46h.01M449.1 222.4h.01M451.91 219.23h.01M452.44 229.2h.01M449.37 229.58h.01M454.06 226.22h.01M454.29 216.29h.01M452.24 218.95h.01M461.34 214.42h.01M462.39 203.57h.01M456.2 217.46h.01M452.89 213.77h.01M452.92 214.01h.01M455.89 207.06h.01M449.5 204.74h.01M448.96 233.51h.01M456.53 212.97h.01M450.93 212.99h.01M447.37 227.24h.01M448.14 213.04h.01M452.42 220.17h.01M445.36 221h.01M453.99 218.77h.01M454.9 218.07h.01M455.68 217.55h.01M453.48 207.91h.01M451.17 216.4h.01M457.21 233.59h.01M456.66 223.34h.01M456.88 215.06h.01M446.98 212.56h.01M452.72 211.75h.01M454.33 224.08h.01M450.27 214.44h.01M449.57 227.04h.01M449.16 229.87h.01M456.13 214.79h.01M452.82 212.78h.01M457.56 207.91h.01M452.49 220.04h.01M449.63 222.34h.01M454.15 219.26h.01M453.81 209.59h.01M449.26 210.98h.01M460.09 235.2h.01M455.63 215.29h.01M457.26 216.13h.01M450.43 221.18h.01M453 218.81h.01M449.22 222.91h.01M451.56 210.2h.01M455.37 222.04h.01M456.72 221.09h.01M456.87 213.64h.01M456.49 216.07h.01M447.6 214.97h.01M455.1 220.14h.01M447.61 221.31h.01M456.56 210.72h.01M450.92 216.78h.01M449.02 218.02h.01M448 226.28h.01M455.09 206.83h.01M456.44 215.24h.01M455.65 226.71h.01M454.3 213.33h.01M453.36 218.43h.01M450.04 214.83h.01M449.73 215.55h.01M449.72 217.94h.01M459.21 209.78h.01M449.81 218.56h.01M449.69 217.16h.01M458.17 211.13h.01M453.45 222.51h.01M450.26 213.62h.01M453.6 222.85h.01M458.99 223.34h.01M452.91 221.64h.01M451.84 221.04h.01M453.3 204.05h.01M441.95 213.67h.01M456.2 213.48h.01M455.26 231.57h.01M460.96 219.89h.01M453.27 205.89h.01M456.63 230.47h.01M453.9 198.06h.01M448.84 222.65h.01M454.68 212.34h.01M449.18 205.7h.01M453.27 230.18h.01M455.6 195.14h.01M452.01 227.16h.01M449.9 220.33h.01M457.29 219.18h.01M451.8 209.66h.01" stroke="#333" stroke-width="0.5" stroke-linecap="round" fill="none" opacity="0.4"/>
<ellipse cx="451.8" cy="227.2" rx="6.2" ry="8.6" transform="rotate(0 451.8 227.2)" fill="#e2e2e2" stroke="#444" stroke-width="0.5" opacity="1"/>
<ellipse cx="451.8" cy="227.2" rx="4.71" ry="6.54" transform="rotate(0 451.8 227.2)" fill="#cfcfcf" stroke="#444" stroke-width="0.5" opacity="1"/>
<ellipse cx="451.8" cy="227.2" rx="3.58" ry="4.97" transform="rotate(0 451.8 227.2)" fill="#b6b6b6" stroke="#444" stroke-width="0.5" opacity="1"/>
<ellipse cx="451.8" cy="227.2" rx="2.72" ry="3.78" transform="rotate(0 451.8 227.2)" fill="#9c9c9c" stroke="#444" stroke-width="0.5" opacity="1"/>
<ellipse cx="451.8" cy="227.2" rx="2.07" ry="2.87" transform="rotate(0 451.8 227.2)" fill="#fff" stroke="#444" stroke-width="0.5" opacity="1"/>
<ellipse cx="453.5" cy="212.2" rx="5.6" ry="5.8" transform="rotate(0 453.5 212.2)" fill="#e6e6e6" stroke="#4a4a4a" stroke-width="0.5" opacity="1"/>
<ellipse cx="453.6" cy="212" rx="4.14" ry="4.29" transform="rotate(0 453.6 212)" fill="#d4d4d4" stroke="#4a4a4a" stroke-width="0.5" opacity="1"/>
<ellipse cx="453.7" cy="211.8" rx="3.07" ry="3.18" transform="rotate(0 453.7 211.8)" fill="#bebebe" stroke="#4a4a4a" stroke-width="0.5" opacity="1"/>
<ellipse cx="453.8" cy="211.6" rx="2.27" ry="2.35" transform="rotate(0 453.8 211.6)" fill="#fff" stroke="#4a4a4a" stroke-width="0.5" opacity="1"/>
<ellipse cx="448.8" cy="214.2" rx="1.1" ry="1.5" transform="rotate(0 448.8 214.2)" fill="#fff" stroke="#555" stroke-width="0.4" opacity="1"/>
<ellipse cx="449.8" cy="198.2" rx="6.2" ry="2.5" transform="rotate(-38 449.8 198.2)" fill="#fafafa" stroke="#555" stroke-width="0.5" opacity="1"/>
<ellipse cx="450.6" cy="197.6" rx="3.6" ry="1.4" transform="rotate(-38 450.6 197.6)" fill="none" stroke="#666" stroke-width="0.45" opacity="1"/>
<path d="M456.99 238.06h.01M459.04 238.18h.01M457.4 237.79h.01M459.68 237.84h.01M460.96 237.16h.01M455.34 237.83h.01M451.75 237.38h.01M451.62 237.51h.01M463.03 238.33h.01M448.72 237.91h.01M462.23 237.9h.01M444.05 237.28h.01M457.84 237.94h.01M452.67 237.67h.01M446.28 237.9h.01M443.41 237.61h.01M446.55 237.81h.01M455.63 238.15h.01M453.76 238.23h.01M449.09 237.04h.01M454.43 238.59h.01M460.47 238.45h.01M456 237.33h.01M456.29 238.29h.01M459.98 237.77h.01M442.45 237.66h.01M456.76 238.52h.01M459.41 237.94h.01M447.9 237.88h.01M447.6 237.66h.01M450.52 236.74h.01M459.31 237.61h.01M450.32 238.44h.01M458.09 236.69h.01M464.07 236.8h.01M451.86 237.56h.01M449.9 236.4h.01M458.41 237.26h.01M458.05 238.09h.01M455.84 238.01h.01M457.86 238.64h.01M463.96 237.36h.01M442.48 236.95h.01M458.38 237.27h.01M449.38 237.95h.01M456.95 238.63h.01M450.34 238.15h.01M458.15 236.98h.01M461.09 237.81h.01M458.8 238h.01M453.3 238.64h.01M447 237.33h.01M453.65 236.3h.01M444.95 238.06h.01M460.67 238.01h.01M450.92 237.78h.01M457.17 238.04h.01M457.34 238.19h.01M463.16 237.56h.01M457.76 237.14h.01M453.72 237.76h.01M447.38 237.35h.01M450.76 237.13h.01M451.25 238.44h.01M458.52 237.24h.01M453.17 237.47h.01M440.84 237.53h.01M463.26 237.76h.01M450.66 237.7h.01M442.31 236.33h.01M450.81 237.83h.01M450.92 237.56h.01M461.37 237.47h.01M450.67 237.63h.01M452.96 237.6h.01M457.56 238.12h.01M450.96 238.25h.01M452.23 237.44h.01M460.86 237.3h.01" stroke="#333" stroke-width="0.5" stroke-linecap="round" fill="none" opacity="0.6"/>
<rect x="442.5" y="185" width="21.8" height="19.5" stroke="#000" stroke-width="1.1" fill="none"/>
<text transform="translate(469,198)" font-size="6.2" text-anchor="start" fill="#111" stroke="#111" stroke-width="0.25">9.4</text>
<line x1="418.65" y1="177.26" x2="421.25" y2="177.26" stroke="#000" stroke-width="1.1"/>
<line x1="418.65" y1="193.55" x2="421.25" y2="193.55" stroke="#000" stroke-width="1.1"/>
<line x1="418.65" y1="208.86" x2="421.25" y2="208.86" stroke="#000" stroke-width="1.1"/>
<line x1="418.65" y1="225.7" x2="421.25" y2="225.7" stroke="#000" stroke-width="1.1"/>
<line x1="418.65" y1="233.15" x2="421.25" y2="233.15" stroke="#000" stroke-width="1.1"/>
<line x1="420.25" y1="172.57" x2="420.25" y2="237.43" stroke="#000" stroke-width="1.2" stroke-dasharray="0.5 1.6"/>
<line x1="429.01" y1="239.5" x2="429.01" y2="242.1" stroke="#000" stroke-width="1.1"/>
<line x1="437.22" y1="239.5" x2="437.22" y2="242.1" stroke="#000" stroke-width="1.1"/>
<line x1="454.29" y1="239.5" x2="454.29" y2="242.1" stroke="#000" stroke-width="1.1"/>
<line x1="471.35" y1="239.5" x2="471.35" y2="242.1" stroke="#000" stroke-width="1.1"/>
<line x1="489.23" y1="239.5" x2="489.23" y2="242.1" stroke="#000" stroke-width="1.1"/>
<line x1="423.45" y1="240.5" x2="492.3" y2="240.5" stroke="#000" stroke-width="1.2" stroke-dasharray="0.5 1.6"/>
<text transform="translate(419.25,179.16) scale(1.1800,1)" font-size="5.3" text-anchor="end" stroke="#000" stroke-width="0.3">10<tspan dy="-1.91" font-size="3.18">5</tspan></text>
<text transform="translate(419.25,195.58) scale(1.1800,1)" font-size="5.3" text-anchor="end" stroke="#000" stroke-width="0.3">10<tspan dy="-1.91" font-size="3.18">4</tspan></text>
<text transform="translate(419.25,210.76) scale(1.1800,1)" font-size="5.3" text-anchor="end" stroke="#000" stroke-width="0.3">10<tspan dy="-1.91" font-size="3.18">3</tspan></text>
<text transform="translate(419.25,227.81) scale(1.1800,1)" font-size="5.3" text-anchor="end" stroke="#000" stroke-width="0.3">10<tspan dy="-1.91" font-size="3.18">2</tspan></text>
<text transform="translate(417.45,235.05) scale(1.1800,1)" font-size="5.3" text-anchor="end" stroke="#000" stroke-width="0.3">0</text>
<text transform="translate(427.99,247.7) scale(1.1800,1)" font-size="5.3" text-anchor="middle" stroke="#000" stroke-width="0.3">0</text>
<text transform="translate(436.49,247.7) scale(1.1800,1)" font-size="5.3" text-anchor="middle" stroke="#000" stroke-width="0.3">10<tspan dy="-1.91" font-size="3.18">2</tspan></text>
<text transform="translate(454.21,247.7) scale(1.1800,1)" font-size="5.3" text-anchor="middle" stroke="#000" stroke-width="0.3">10<tspan dy="-1.91" font-size="3.18">3</tspan></text>
<text transform="translate(471.21,247.7) scale(1.1800,1)" font-size="5.3" text-anchor="middle" stroke="#000" stroke-width="0.3">10<tspan dy="-1.91" font-size="3.18">4</tspan></text>
<text transform="translate(488.71,247.7) scale(1.1800,1)" font-size="5.3" text-anchor="middle" stroke="#000" stroke-width="0.3">10<tspan dy="-1.91" font-size="3.18">5</tspan></text>
<rect x="421.75" y="251.25" width="73.25" height="68.25" stroke="#000" stroke-width="1.45" fill="#fff"/>
<clipPath id="cg2"><rect x="444.3" y="264.8" width="23.4" height="20.2"/></clipPath>
<g clip-path="url(#cg2)">
<path d="M443 287L455 273L466 264.5L468 268L462 280L458 287Z" stroke="none" stroke-width="0" fill="#f3f3f3"/>
<path d="M443.6 286.5C447.5 279.5 455 271 464.5 265.2" stroke="#666" stroke-width="0.45" fill="none"/>
<path d="M445.5 286.5C449.4 279.21 456.05 270.81 464.98 266.15" stroke="#666" stroke-width="0.45" fill="none"/>
<path d="M447.4 286.5C451.3 278.93 457.09 270.62 465.45 267.1" stroke="#666" stroke-width="0.45" fill="none"/>
<path d="M449.3 286.5C453.2 278.64 458.13 270.43 465.93 268.05" stroke="#666" stroke-width="0.45" fill="none"/>
<path d="M451.2 286.5C455.1 278.36 459.18 270.24 466.4 269" stroke="#888" stroke-width="0.45" fill="none"/>
<path d="M453.1 286.5C457 278.07 460.23 270.05 466.88 269.95" stroke="#888" stroke-width="0.45" fill="none"/>
<path d="M444 284C446 281 449 278.5 452 277" stroke="#444" stroke-width="0.9" fill="none"/>
</g>
<path d="M450.87 280.7h.01M455.21 276.53h.01M454.46 282.39h.01M449.54 282.3h.01M460.01 276.78h.01M452.26 272.73h.01M448.91 279.82h.01M453 278.61h.01M445.44 287.13h.01M444.75 284.84h.01M451.37 278.17h.01M452.84 279.11h.01M451.84 279.7h.01M453.04 279.65h.01M455.56 280.43h.01M448.62 284.7h.01M454.09 276.76h.01M460.75 275.11h.01M461.4 271.17h.01M455.05 275.47h.01M460.92 276.49h.01M455.08 276.64h.01M452.98 280.03h.01M450.3 282.61h.01M451.07 282.95h.01M451.86 277.32h.01M456.2 279.83h.01M450.55 281.32h.01M449.1 282.89h.01M454.75 283.83h.01M456.44 276.27h.01M454.2 276.27h.01M453.73 275.96h.01M452.01 282.34h.01M456.59 272.78h.01M458.5 271.77h.01M452.37 280.39h.01M448.24 279.65h.01M451.46 282.31h.01M448.66 277.89h.01M455.06 279.47h.01M451.63 282.39h.01M451.79 279.63h.01M450.66 285.5h.01M456.33 277.67h.01M461.56 270.59h.01M447.71 278.79h.01M448.16 281.18h.01M456.64 276.74h.01M453.69 278.61h.01M443.59 286.48h.01M449.37 284.29h.01M457.02 278.7h.01M459.05 269.61h.01M455.02 278.18h.01M448.08 283.96h.01M456.15 274.21h.01M449.54 281.08h.01M448.45 279.98h.01M451.94 279.99h.01M450.3 283.12h.01M449.14 284.3h.01M451.45 277.05h.01M454.77 280.85h.01M450.72 280.68h.01M446.83 282.49h.01M446.78 281.01h.01M451.48 279.22h.01M451.79 282.26h.01M444.4 281.92h.01M449.43 285.92h.01M455.01 277.69h.01M443.34 285.71h.01M448.11 277.24h.01M454.69 277.22h.01M453.78 277.86h.01M449.27 281.39h.01M455.39 278.76h.01M448.18 279h.01M455.02 279.7h.01M456.63 275.3h.01M453.13 268.26h.01M453.22 279.59h.01M452.87 274.57h.01M451.64 285.11h.01M449.6 279.58h.01M447.2 279.33h.01M447.14 283.86h.01M452.98 280.25h.01M459.25 275.89h.01M458.82 273.96h.01M453.67 276.19h.01M460.6 276.77h.01M446.59 283.54h.01M450.49 279.21h.01M455.79 275.34h.01M448.46 281.28h.01M441.99 285.4h.01M454.18 279.93h.01M448.01 279.06h.01M445.72 285.52h.01M449.26 281.92h.01M451.96 282.36h.01M451.12 281.96h.01M454.17 276.7h.01M453.34 280.23h.01M450.64 281.3h.01M450.29 281.99h.01M450.11 281.82h.01M455.96 283.9h.01" stroke="#333" stroke-width="0.5" stroke-linecap="round" fill="none" opacity="0.45"/>
<path d="M453.6 319.2L458.17 317.92L460.09 316.63L461.23 315.35L461.67 314.06L461.55 312.78L461.88 311.49L462.47 310.21L462.92 308.92L462.93 307.82L462.48 306.53L461.97 305.23L461.79 303.94L462.07 302.66L462.59 301.39L462.97 300.11L462.91 298.83L462.43 297.6L461.87 296.3L461.63 295.01L461.84 293.73L462.26 292.46L462.51 291.26L461.29 289.93L459.45 288.57L457.53 287.21L454.2 285.8L454.2 285.8L450.34 286.94L448.69 288.16L447.62 289.4L446.44 290.65L445.61 291.98L445.15 293.25L445.53 294.55L445.98 295.85L445.62 297.12L444.79 298.46L444.57 299.74L445.16 301.04L445.63 302.34L445.2 303.61L444.44 304.88L444.37 306.17L445.04 307.46L445.46 308.92L445.02 310.21L444.44 311.49L444.66 312.78L445.45 314.06L446.55 315.35L447.46 316.63L449.02 317.92L453.6 319.2Z" stroke="#6a6a6a" stroke-width="0.45" fill="#f7f7f7" stroke-linejoin="round"/>
<path d="M453.6 318.87L457.09 317.61L458.52 316.35L459.93 315.09L461.15 313.83L461.47 312.57L461.4 311.31L461.04 310.05L460.7 308.79L460.66 307.67L460.98 306.42L461.44 305.17L461.7 303.92L461.56 302.65L461.14 301.39L460.76 300.12L460.7 298.86L460.99 297.67L461.37 296.42L461.55 295.16L461.36 293.9L460.89 292.62L460.48 291.35L459.58 290.12L458.6 288.82L457.36 287.52L454.19 286.13L454.19 286.13L450.99 287.27L449.76 288.48L448.39 289.69L446.86 290.96L446.51 292.21L446.85 293.48L447.2 294.75L446.85 296L446.11 297.24L445.92 298.56L446.44 299.83L446.81 301.1L446.41 302.35L445.76 303.6L445.74 304.86L446.32 306.13L446.57 307.39L446.13 308.79L445.64 310.05L445.87 311.31L446.55 312.57L446.78 313.83L447.04 315.09L447.96 316.35L449.79 317.61L453.6 318.87Z" stroke="#6a6a6a" stroke-width="0.45" fill="#f1f1f1" stroke-linejoin="round"/>
<path d="M453.6 318.2L456.57 316.99L458.09 315.78L459.29 314.57L459.82 313.37L459.51 312.16L459.27 310.95L459.31 309.74L459.65 308.53L460.04 307.46L460.2 306.25L460.04 305.04L459.68 303.82L459.4 302.61L459.42 301.4L459.73 300.2L460.09 299L460.23 297.85L460.01 296.64L459.62 295.42L459.32 294.2L459.3 292.99L459.55 291.79L459.18 290.62L458.18 289.37L456.81 288.11L454.16 286.8L454.16 286.8L451.6 287.91L450.02 289.06L448.81 290.22L448.47 291.47L448.64 292.69L448.22 293.88L447.66 295.07L447.64 296.28L448.03 297.5L448.16 298.76L447.71 299.96L447.26 301.16L447.41 302.37L447.88 303.59L447.92 304.8L447.41 306L447.03 307.2L447.33 308.53L447.86 309.74L447.87 310.95L447.42 312.16L447.23 313.37L448.25 314.57L449.57 315.78L450.71 316.99L453.6 318.2Z" stroke="#6a6a6a" stroke-width="0.45" fill="#ebebeb" stroke-linejoin="round"/>
<path d="M453.6 317.2L455.77 316.06L456.88 314.93L457.83 313.8L458.31 312.67L458.12 311.54L457.89 310.41L457.82 309.28L458 308.15L458.29 307.11L458.5 305.99L458.48 304.85L458.25 303.72L458.01 302.58L457.93 301.45L458.08 300.32L458.37 299.2L458.57 298.11L458.51 296.98L458.26 295.84L458 294.7L457.9 293.57L458.03 292.44L457.83 291.3L457.18 290.18L456.19 289.01L454.12 287.8L454.12 287.8L452.06 288.86L450.88 289.94L450.16 291.08L449.99 292.21L449.89 293.34L449.46 294.46L449.19 295.58L449.38 296.72L449.62 297.86L449.49 299.02L449.08 300.14L448.93 301.27L449.22 302.41L449.47 303.54L449.26 304.67L448.85 305.79L448.79 306.92L449.12 308.15L449.38 309.28L449.16 310.41L448.85 311.54L448.94 312.67L449.77 313.8L450.6 314.93L451.35 316.06L453.6 317.2Z" stroke="#6a6a6a" stroke-width="0.45" fill="#e6e6e6" stroke-linejoin="round"/>
<path d="M453.6 315.86L455.1 314.83L455.65 313.8L455.98 312.78L456.16 311.75L456.22 310.72L456.39 309.69L456.56 308.66L456.61 307.7L456.52 306.67L456.36 305.63L456.27 304.6L456.33 303.58L456.5 302.55L456.66 301.53L456.71 300.5L456.61 299.47L456.46 298.44L456.36 297.43L456.41 296.4L456.56 295.38L456.71 294.36L456.73 293.33L456.36 292.29L455.81 291.24L455.23 290.21L454.07 289.14L454.07 289.14L452.7 290.11L451.99 291.14L451.63 292.15L451.49 293.18L451.35 294.2L451.07 295.22L450.97 296.25L451.12 297.28L451.23 298.33L451.07 299.36L450.82 300.38L450.81 301.41L451.01 302.44L451.1 303.47L450.9 304.5L450.67 305.52L450.7 306.55L450.91 307.58L450.98 308.66L450.79 309.69L450.64 310.72L450.77 311.75L451.27 312.78L451.72 313.8L452.17 314.83L453.6 315.86Z" stroke="#6a6a6a" stroke-width="0.45" fill="#f0f0f0" stroke-linejoin="round"/>
<ellipse cx="452.4" cy="303" rx="1.5" ry="7" transform="rotate(0 452.4 303)" fill="#fafafa" stroke="#777" stroke-width="0.4" opacity="1"/>
<ellipse cx="457.2" cy="300" rx="1.2" ry="5" transform="rotate(4 457.2 300)" fill="none" stroke="#777" stroke-width="0.4" opacity="1"/>
<path d="M452.53 312.88h.01M453.36 282h.01M452.17 300.81h.01M460.09 304.54h.01M456.88 297.11h.01M451.98 287.9h.01M457.39 302.1h.01M451.35 302.4h.01M459.53 310.07h.01M458.13 312.03h.01M455.64 301.93h.01M454.54 306.15h.01M446.9 304.4h.01M454.71 294.18h.01M452.03 312.07h.01M452.79 301.09h.01M461.23 293.42h.01M454.36 298.21h.01M452.23 300.35h.01M457.01 299.53h.01M458.76 308.4h.01M449.74 302.4h.01M453.74 290.58h.01M446.57 310.75h.01M455.87 312.63h.01M461.56 308.68h.01M456.2 313.11h.01M453.96 298.46h.01M458.92 307.62h.01M452.24 298.29h.01M452.86 297.58h.01M451.88 297.37h.01M455.09 302.26h.01M458.07 280.07h.01M455.15 316.53h.01M454.77 296.72h.01M463.44 297.39h.01M457.61 303.97h.01M453.89 293.15h.01M455.25 303.65h.01M462.65 288.63h.01M447.65 306.75h.01M447.86 277.07h.01M453.06 311.85h.01M446.39 288.73h.01M461.15 294.17h.01M450.58 300.42h.01M461.68 300.16h.01M458 300.41h.01M449.75 304.15h.01M446.46 310.83h.01M447.35 303.07h.01M444.97 300.96h.01M456.33 295.34h.01M463.18 301.81h.01M456.48 288.98h.01M452.27 303.86h.01M457.85 306.99h.01M448.28 288.86h.01M449.52 311.64h.01M446.7 291.04h.01M455.05 301.37h.01M454.2 294.57h.01M456.02 300.81h.01M453.65 303.76h.01M453.47 300.14h.01M459.51 307.97h.01M454.84 302.98h.01M460.55 290.12h.01M445.92 302.06h.01M446.86 292.47h.01M455.47 303.54h.01M452.94 295.13h.01M447.97 295.54h.01M450.83 301.49h.01M458.61 299.19h.01M449.45 305.45h.01M459.86 304.5h.01M452.48 298.4h.01M453.05 292.61h.01M458.55 299.04h.01M463.02 312.31h.01M452.36 294.92h.01M446.61 301.82h.01M456.2 298.59h.01M453.97 305.84h.01M450.98 301.3h.01M453.3 314.94h.01M457.43 300.89h.01M449.92 300.52h.01M450.93 298.63h.01M456.02 308.81h.01M458.94 296.7h.01M455.3 301.49h.01M458.96 309.64h.01M455.56 306.32h.01M445.69 304.71h.01M453.8 301.42h.01M455.67 291.35h.01M452.79 309.02h.01M457.6 303.46h.01M456.9 294.96h.01M461.11 283.91h.01M452.96 295.23h.01M452.45 303.75h.01M454.98 310.28h.01M462.87 306.28h.01M450.39 301.97h.01M451.08 295h.01M452.7 310.07h.01M450.98 304.7h.01M451.17 309.44h.01M459.58 289.41h.01M457.74 294.36h.01M455.96 301.08h.01M458.23 290.96h.01M462.88 304.89h.01M451.66 312.86h.01M460.48 306.44h.01M452.28 294.93h.01M450.57 315.84h.01M454.76 301.68h.01M452.9 312.5h.01M452.92 309.35h.01M446.66 295.11h.01M455.96 293.61h.01M462.93 284.14h.01M456.21 306.54h.01M456.46 301.36h.01M455.69 296.54h.01M442.6 318.05h.01M454.4 317.55h.01M454.42 311.47h.01M460.49 297.05h.01M444.36 312.18h.01M462.97 288.94h.01M452.28 301.24h.01M453.36 307.19h.01M453.99 307.07h.01M450.92 288.23h.01M462.51 304.19h.01M456.24 291.9h.01M456.51 301.52h.01M456.64 303.01h.01M459.12 314.09h.01M452.95 298.66h.01M457.71 289.35h.01M451.39 298.79h.01M445.28 318.61h.01M453.32 300.11h.01M449.31 306.67h.01M452.51 291.64h.01M455.99 315.23h.01M447.97 301.71h.01M464.05 300.25h.01M451.39 315.87h.01M455.51 310.03h.01M461.74 307.57h.01M447.91 292.11h.01M453.53 296.65h.01M453.77 285.63h.01M447.4 308.18h.01M453.65 305.63h.01M452.8 301.82h.01M447.85 317.34h.01M459.1 290.35h.01M452.52 305.09h.01M452.65 301.53h.01M455.43 285.93h.01M457.79 306.1h.01M450.23 300.36h.01M454.1 299.69h.01M454.71 288.73h.01M454.77 305.61h.01M456.2 305.87h.01M452.01 303.19h.01M458.74 302.67h.01M455.47 302.54h.01M456.84 290.83h.01M454.25 309.39h.01M450.55 306.92h.01M452.48 298.32h.01M449.58 294.1h.01M459.66 289.33h.01M455.12 290.13h.01M463.37 308.13h.01M451.01 292.08h.01M453.29 304.95h.01M461.81 314.67h.01M450.19 304.06h.01M458.57 295.8h.01M452.42 310.06h.01M448.43 302.32h.01M454.18 299.48h.01M454.6 287.81h.01M458.11 298.04h.01M460.73 294.97h.01M453.37 312.51h.01M451.31 298.97h.01M443.46 289.7h.01M449.36 295.79h.01M451.31 304.25h.01M455.62 298.8h.01M448.5 304.11h.01M457.2 301.55h.01M460.53 298.04h.01M458.19 304.36h.01M460.3 316.19h.01M449.39 286.23h.01M459.02 304.77h.01M456.01 298.15h.01M451.21 312.49h.01M456.57 297.31h.01M454.71 304.57h.01M448.77 296.51h.01M456.73 303.25h.01M448.45 304.73h.01M463.23 307.39h.01M448.71 297.99h.01M451.78 295.23h.01M450.88 296.96h.01M454.11 291.22h.01M458.54 304.86h.01M463.05 309.33h.01M458.71 306.53h.01M454.02 292.7h.01M457.43 302.89h.01M451.65 305.59h.01M455.94 296.43h.01M460.86 297.84h.01M455.06 311.34h.01M452.23 299.34h.01M456.5 299.2h.01M452.31 292.27h.01M455.51 298.75h.01M458.13 310.88h.01M454.42 308.8h.01M451.42 316.01h.01M452.08 300.97h.01M452.89 297.79h.01M457.99 302.06h.01M450.63 308.79h.01M454.68 307.1h.01M455.44 298.13h.01M446.62 299.51h.01M450.63 312.61h.01M453.56 314.9h.01M464.57 312.21h.01M464.95 294.04h.01M452.33 293.08h.01M448.65 290.97h.01M458.41 295.22h.01" stroke="#333" stroke-width="0.5" stroke-linecap="round" fill="none" opacity="0.42"/>
<path d="M448.3 318.9C451 316.0 457 316.0 459.7 318.9" stroke="#222" stroke-width="1.1" fill="none"/>
<rect x="443.75" y="264.25" width="24.5" height="21.25" stroke="#000" stroke-width="1.1" fill="none"/>
<text transform="translate(472,278)" font-size="6.2" text-anchor="start" fill="#111" stroke="#111" stroke-width="0.25">18.6</text>
<line x1="419.15" y1="257.94" x2="421.75" y2="257.94" stroke="#000" stroke-width="1.1"/>
<line x1="419.15" y1="274.05" x2="421.75" y2="274.05" stroke="#000" stroke-width="1.1"/>
<line x1="419.15" y1="289.2" x2="421.75" y2="289.2" stroke="#000" stroke-width="1.1"/>
<line x1="419.15" y1="305.85" x2="421.75" y2="305.85" stroke="#000" stroke-width="1.1"/>
<line x1="419.15" y1="313.22" x2="421.75" y2="313.22" stroke="#000" stroke-width="1.1"/>
<line x1="420.75" y1="253.3" x2="420.75" y2="317.45" stroke="#000" stroke-width="1.2" stroke-dasharray="0.5 1.6"/>
<line x1="429.51" y1="319.5" x2="429.51" y2="322.1" stroke="#000" stroke-width="1.1"/>
<line x1="437.72" y1="319.5" x2="437.72" y2="322.1" stroke="#000" stroke-width="1.1"/>
<line x1="454.79" y1="319.5" x2="454.79" y2="322.1" stroke="#000" stroke-width="1.1"/>
<line x1="471.85" y1="319.5" x2="471.85" y2="322.1" stroke="#000" stroke-width="1.1"/>
<line x1="489.73" y1="319.5" x2="489.73" y2="322.1" stroke="#000" stroke-width="1.1"/>
<line x1="423.95" y1="320.5" x2="492.8" y2="320.5" stroke="#000" stroke-width="1.2" stroke-dasharray="0.5 1.6"/>
<text transform="translate(419.75,259.84) scale(1.1800,1)" font-size="5.3" text-anchor="end" stroke="#000" stroke-width="0.3">10<tspan dy="-1.91" font-size="3.18">5</tspan></text>
<text transform="translate(419.75,276.08) scale(1.1800,1)" font-size="5.3" text-anchor="end" stroke="#000" stroke-width="0.3">10<tspan dy="-1.91" font-size="3.18">4</tspan></text>
<text transform="translate(419.75,291.1) scale(1.1800,1)" font-size="5.3" text-anchor="end" stroke="#000" stroke-width="0.3">10<tspan dy="-1.91" font-size="3.18">3</tspan></text>
<text transform="translate(419.75,307.95) scale(1.1800,1)" font-size="5.3" text-anchor="end" stroke="#000" stroke-width="0.3">10<tspan dy="-1.91" font-size="3.18">2</tspan></text>
<text transform="translate(417.95,315.12) scale(1.1800,1)" font-size="5.3" text-anchor="end" stroke="#000" stroke-width="0.3">0</text>
<text transform="translate(428.49,327.7) scale(1.1800,1)" font-size="5.3" text-anchor="middle" stroke="#000" stroke-width="0.3">0</text>
<text transform="translate(436.99,327.7) scale(1.1800,1)" font-size="5.3" text-anchor="middle" stroke="#000" stroke-width="0.3">10<tspan dy="-1.91" font-size="3.18">2</tspan></text>
<text transform="translate(454.71,327.7) scale(1.1800,1)" font-size="5.3" text-anchor="middle" stroke="#000" stroke-width="0.3">10<tspan dy="-1.91" font-size="3.18">3</tspan></text>
<text transform="translate(471.71,327.7) scale(1.1800,1)" font-size="5.3" text-anchor="middle" stroke="#000" stroke-width="0.3">10<tspan dy="-1.91" font-size="3.18">4</tspan></text>
<text transform="translate(489.21,327.7) scale(1.1800,1)" font-size="5.3" text-anchor="middle" stroke="#000" stroke-width="0.3">10<tspan dy="-1.91" font-size="3.18">5</tspan></text>
<line x1="60.5" y1="370.3" x2="60.5" y2="497" stroke="#000" stroke-width="1.4"/>
<line x1="59.8" y1="496.3" x2="166" y2="496.3" stroke="#000" stroke-width="1.4"/>
<line x1="58.1" y1="371" x2="60.5" y2="371" stroke="#000" stroke-width="1"/>
<text transform="translate(55.1,374.47)" font-size="9.7" text-anchor="end">35</text>
<line x1="58.1" y1="388.9" x2="60.5" y2="388.9" stroke="#000" stroke-width="1"/>
<text transform="translate(55.1,392.37)" font-size="9.7" text-anchor="end">30</text>
<line x1="58.1" y1="406.8" x2="60.5" y2="406.8" stroke="#000" stroke-width="1"/>
<text transform="translate(55.1,410.27)" font-size="9.7" text-anchor="end">25</text>
<line x1="58.1" y1="424.7" x2="60.5" y2="424.7" stroke="#000" stroke-width="1"/>
<text transform="translate(55.1,428.17)" font-size="9.7" text-anchor="end">20</text>
<line x1="58.1" y1="442.6" x2="60.5" y2="442.6" stroke="#000" stroke-width="1"/>
<text transform="translate(55.1,446.07)" font-size="9.7" text-anchor="end">15</text>
<line x1="58.1" y1="460.5" x2="60.5" y2="460.5" stroke="#000" stroke-width="1"/>
<text transform="translate(55.1,463.97)" font-size="9.7" text-anchor="end">10</text>
<line x1="58.1" y1="478.4" x2="60.5" y2="478.4" stroke="#000" stroke-width="1"/>
<text transform="translate(55.1,481.87)" font-size="9.7" text-anchor="end">5</text>
<line x1="58.1" y1="496.3" x2="60.5" y2="496.3" stroke="#000" stroke-width="1"/>
<text transform="translate(55.1,499.77)" font-size="9.7" text-anchor="end">0</text>
<line x1="91.3" y1="496.3" x2="91.3" y2="498.6" stroke="#000" stroke-width="1"/>
<line x1="133.8" y1="496.3" x2="133.8" y2="498.6" stroke="#000" stroke-width="1"/>
<text transform="translate(20.1,503.5) rotate(-90) scale(0.8283,1)" font-size="12" text-anchor="start" stroke="#000" stroke-width="0.3">Absolute cell number (x10<tspan dy="-4.32" font-size="7.2">6</tspan><tspan dy="4.32">/ml)</tspan></text>
<text transform="translate(37.8,493.8) rotate(-90) scale(0.6400,1)" font-size="12" text-anchor="start" stroke="#000" stroke-width="0.3">of</text>
<text transform="translate(37.8,484.3) rotate(-90) scale(0.5929,1)" font-size="12" text-anchor="start" stroke="#000" stroke-width="0.3">TCR</text>
<text transform="translate(37.8,468.3) rotate(-90) scale(0.9933,1)" font-size="13" text-anchor="start" stroke="#000" stroke-width="0.1">αβ</text>
<text transform="translate(33.6,452.6) rotate(-90)" font-size="7.5" text-anchor="start" stroke="#000" stroke-width="0.2">+</text>
<text transform="translate(37.8,447.4) rotate(-90) scale(0.9194,1)" font-size="12" text-anchor="start" stroke="#000" stroke-width="0.3">cells in spleen</text>
<circle cx="86.5" cy="393.3" r="2.55" fill="#c8102e"/>
<circle cx="78.8" cy="406" r="2.55" fill="#c8102e"/>
<circle cx="95" cy="404.5" r="2.55" fill="#c8102e"/>
<circle cx="87" cy="409" r="2.55" fill="#c8102e"/>
<circle cx="90.8" cy="412" r="2.55" fill="#c8102e"/>
<circle cx="82.5" cy="415.8" r="2.55" fill="#c8102e"/>
<circle cx="78.8" cy="428.8" r="2.55" fill="#c8102e"/>
<circle cx="87" cy="427.5" r="2.55" fill="#c8102e"/>
<circle cx="95" cy="431.8" r="2.55" fill="#c8102e"/>
<circle cx="86.8" cy="435.3" r="2.55" fill="#c8102e"/>
<circle cx="78.8" cy="441.8" r="2.55" fill="#c8102e"/>
<circle cx="95" cy="440.3" r="2.55" fill="#c8102e"/>
<circle cx="86.8" cy="445.5" r="2.55" fill="#c8102e"/>
<circle cx="86.8" cy="459.3" r="2.55" fill="#c8102e"/>
<line x1="76.3" y1="424.8" x2="107.5" y2="424.8" stroke="#c8102e" stroke-width="1.3"/>
<line x1="83.1" y1="420" x2="100.7" y2="420" stroke="#c8102e" stroke-width="1.3"/>
<line x1="83.1" y1="429.5" x2="100.7" y2="429.5" stroke="#c8102e" stroke-width="1.3"/>
<line x1="91.9" y1="420" x2="91.9" y2="429.5" stroke="#c8102e" stroke-width="1.3"/>
<circle cx="123.35" cy="491.54" r="1.8" fill="#1b5489" stroke="#1b5489" stroke-width="1.6"/>
<circle cx="124.9" cy="492.96" r="1.8" fill="#1b5489" stroke="#1b5489" stroke-width="1.6"/>
<circle cx="126.45" cy="494.17" r="1.8" fill="#1b5489" stroke="#1b5489" stroke-width="1.6"/>
<circle cx="128" cy="495.15" r="1.8" fill="#1b5489" stroke="#1b5489" stroke-width="1.6"/>
<circle cx="129.55" cy="495.92" r="1.8" fill="#1b5489" stroke="#1b5489" stroke-width="1.6"/>
<circle cx="131.1" cy="496.46" r="1.8" fill="#1b5489" stroke="#1b5489" stroke-width="1.6"/>
<circle cx="132.65" cy="496.79" r="1.8" fill="#1b5489" stroke="#1b5489" stroke-width="1.6"/>
<circle cx="134.2" cy="496.9" r="1.8" fill="#1b5489" stroke="#1b5489" stroke-width="1.6"/>
<circle cx="135.75" cy="496.79" r="1.8" fill="#1b5489" stroke="#1b5489" stroke-width="1.6"/>
<circle cx="137.3" cy="496.46" r="1.8" fill="#1b5489" stroke="#1b5489" stroke-width="1.6"/>
<circle cx="138.85" cy="495.92" r="1.8" fill="#1b5489" stroke="#1b5489" stroke-width="1.6"/>
<circle cx="140.4" cy="495.15" r="1.8" fill="#1b5489" stroke="#1b5489" stroke-width="1.6"/>
<circle cx="141.95" cy="494.17" r="1.8" fill="#1b5489" stroke="#1b5489" stroke-width="1.6"/>
<circle cx="143.5" cy="492.96" r="1.8" fill="#1b5489" stroke="#1b5489" stroke-width="1.6"/>
<circle cx="145.05" cy="491.54" r="1.8" fill="#1b5489" stroke="#1b5489" stroke-width="1.6"/>
<circle cx="121.8" cy="489.9" r="1.9" fill="#fff" stroke="#1b5489" stroke-width="1.5"/>
<circle cx="146.6" cy="489.9" r="1.9" fill="#fff" stroke="#1b5489" stroke-width="1.5"/>
<path d="M90.5 381.6V378.8H137V381.6" stroke="#000" stroke-width="1.25" fill="none"/>
<text transform="translate(114.5,380.8)" font-size="11" text-anchor="middle" font-weight="bold">***</text>
<text transform="translate(102.8,503.6) rotate(-45)" font-size="9.4" text-anchor="end" stroke="#000" stroke-width="0.15">WT UNT</text>
<text transform="translate(146,503.6) rotate(-45)" font-size="9.4" text-anchor="end" stroke="#000" stroke-width="0.15">WT TX</text>
<line x1="232.5" y1="369.9" x2="232.5" y2="496.5" stroke="#000" stroke-width="1.4"/>
<line x1="231.8" y1="495.8" x2="344.5" y2="495.8" stroke="#000" stroke-width="1.4"/>
<line x1="230.1" y1="370.6" x2="232.5" y2="370.6" stroke="#000" stroke-width="1"/>
<text transform="translate(228.4,373.64)" font-size="8.5" text-anchor="end">6.0</text>
<line x1="230.1" y1="381.03" x2="232.5" y2="381.03" stroke="#000" stroke-width="1"/>
<text transform="translate(228.4,384.08)" font-size="8.5" text-anchor="end">5.5</text>
<line x1="230.1" y1="391.47" x2="232.5" y2="391.47" stroke="#000" stroke-width="1"/>
<text transform="translate(228.4,394.51)" font-size="8.5" text-anchor="end">5.0</text>
<line x1="230.1" y1="401.9" x2="232.5" y2="401.9" stroke="#000" stroke-width="1"/>
<text transform="translate(228.4,404.94)" font-size="8.5" text-anchor="end">4.5</text>
<line x1="230.1" y1="412.33" x2="232.5" y2="412.33" stroke="#000" stroke-width="1"/>
<text transform="translate(228.4,415.38)" font-size="8.5" text-anchor="end">4.0</text>
<line x1="230.1" y1="422.77" x2="232.5" y2="422.77" stroke="#000" stroke-width="1"/>
<text transform="translate(228.4,425.81)" font-size="8.5" text-anchor="end">3.5</text>
<line x1="230.1" y1="433.2" x2="232.5" y2="433.2" stroke="#000" stroke-width="1"/>
<text transform="translate(228.4,436.24)" font-size="8.5" text-anchor="end">3.0</text>
<line x1="230.1" y1="443.63" x2="232.5" y2="443.63" stroke="#000" stroke-width="1"/>
<text transform="translate(228.4,446.68)" font-size="8.5" text-anchor="end">2.5</text>
<line x1="230.1" y1="454.07" x2="232.5" y2="454.07" stroke="#000" stroke-width="1"/>
<text transform="translate(228.4,457.11)" font-size="8.5" text-anchor="end">2.0</text>
<line x1="230.1" y1="464.5" x2="232.5" y2="464.5" stroke="#000" stroke-width="1"/>
<text transform="translate(228.4,467.54)" font-size="8.5" text-anchor="end">1.5</text>
<line x1="230.1" y1="474.93" x2="232.5" y2="474.93" stroke="#000" stroke-width="1"/>
<text transform="translate(228.4,477.98)" font-size="8.5" text-anchor="end">1.0</text>
<line x1="230.1" y1="485.37" x2="232.5" y2="485.37" stroke="#000" stroke-width="1"/>
<text transform="translate(228.4,488.41)" font-size="8.5" text-anchor="end">0.5</text>
<line x1="230.1" y1="495.8" x2="232.5" y2="495.8" stroke="#000" stroke-width="1"/>
<text transform="translate(228.4,498.84)" font-size="8.5" text-anchor="end">0.0</text>
<line x1="265" y1="495.8" x2="265" y2="498.1" stroke="#000" stroke-width="1"/>
<line x1="313" y1="495.8" x2="313" y2="498.1" stroke="#000" stroke-width="1"/>
<text transform="translate(189.3,502.5) rotate(-90) scale(0.8222,1)" font-size="12" text-anchor="start" stroke="#000" stroke-width="0.3">Absolute cell number (x10<tspan dy="-4.32" font-size="7.2">6</tspan><tspan dy="4.32">/ml)</tspan></text>
<text transform="translate(207,498.5) rotate(-90) scale(0.7598,1)" font-size="12" text-anchor="start" stroke="#000" stroke-width="0.3">of CD11b</text>
<text transform="translate(202.8,460.2) rotate(-90)" font-size="7.5" text-anchor="start" stroke="#000" stroke-width="0.2">+</text>
<text transform="translate(207,454.4) rotate(-90) scale(0.7850,1)" font-size="12" text-anchor="start" stroke="#000" stroke-width="0.3">Gr1</text>
<text transform="translate(202.8,438) rotate(-90)" font-size="7.5" text-anchor="start" stroke="#000" stroke-width="0.2">+</text>
<text transform="translate(207,434) rotate(-90) scale(0.8252,1)" font-size="12" text-anchor="start" stroke="#000" stroke-width="0.3">cells in spleen</text>
<rect x="250.5" y="472.8" width="5" height="5" stroke="none" stroke-width="0" fill="#c8102e"/>
<rect x="262.5" y="470.8" width="5" height="5" stroke="none" stroke-width="0" fill="#c8102e"/>
<rect x="258.3" y="478" width="5" height="5" stroke="none" stroke-width="0" fill="#c8102e"/>
<rect x="267.5" y="473.8" width="5" height="5" stroke="none" stroke-width="0" fill="#c8102e"/>
<rect x="274.5" y="472.5" width="5" height="5" stroke="none" stroke-width="0" fill="#c8102e"/>
<line x1="249.5" y1="475.8" x2="281.3" y2="475.8" stroke="#c8102e" stroke-width="1.3"/>
<line x1="259.4" y1="474.6" x2="271.4" y2="474.6" stroke="#c8102e" stroke-width="1.3"/>
<line x1="259.4" y1="477" x2="271.4" y2="477" stroke="#c8102e" stroke-width="1.3"/>
<line x1="265.4" y1="474.6" x2="265.4" y2="477" stroke="#c8102e" stroke-width="1.3"/>
<line x1="297" y1="440" x2="329.2" y2="440" stroke="#1b5489" stroke-width="1.3"/>
<line x1="304.5" y1="428.8" x2="321.7" y2="428.8" stroke="#1b5489" stroke-width="1.3"/>
<line x1="304.5" y1="450.3" x2="321.7" y2="450.3" stroke="#1b5489" stroke-width="1.3"/>
<line x1="313.1" y1="428.8" x2="313.1" y2="450.3" stroke="#1b5489" stroke-width="1.3"/>
<rect x="310.8" y="394.1" width="4.4" height="4.4" stroke="#1b5489" stroke-width="1.25" fill="#fff"/>
<rect x="310.8" y="420.3" width="4.4" height="4.4" stroke="#1b5489" stroke-width="1.25" fill="#fff"/>
<rect x="310.8" y="428.3" width="4.4" height="4.4" stroke="#1b5489" stroke-width="1.25" fill="#fff"/>
<rect x="310.8" y="435.8" width="4.4" height="4.4" stroke="#1b5489" stroke-width="1.25" fill="#fff"/>
<rect x="310.8" y="445.3" width="4.4" height="4.4" stroke="#1b5489" stroke-width="1.25" fill="#fff"/>
<rect x="310.8" y="458.6" width="4.4" height="4.4" stroke="#1b5489" stroke-width="1.25" fill="#fff"/>
<rect x="310.8" y="481.3" width="4.4" height="4.4" stroke="#1b5489" stroke-width="1.25" fill="#fff"/>
<path d="M265 387.8V385H313.2V387.8" stroke="#000" stroke-width="1.25" fill="none"/>
<text transform="translate(288.8,385.3)" font-size="11" text-anchor="middle" font-weight="bold">*</text>
<text transform="translate(274.9,505) rotate(-45)" font-size="9.4" text-anchor="end" stroke="#000" stroke-width="0.15">WT UNT</text>
<text transform="translate(319,505.9) rotate(-45)" font-size="9.4" text-anchor="end" stroke="#000" stroke-width="0.15">WT TX</text>
<line x1="55.4" y1="558.8" x2="55.4" y2="682.5" stroke="#000" stroke-width="1.4"/>
<line x1="54.7" y1="681.8" x2="162" y2="681.8" stroke="#000" stroke-width="1.4"/>
<line x1="53" y1="559.5" x2="55.4" y2="559.5" stroke="#000" stroke-width="1"/>
<text transform="translate(51.4,562.69)" font-size="8.9" text-anchor="end">100</text>
<line x1="53" y1="571.73" x2="55.4" y2="571.73" stroke="#000" stroke-width="1"/>
<text transform="translate(51.4,574.92)" font-size="8.9" text-anchor="end">90</text>
<line x1="53" y1="583.96" x2="55.4" y2="583.96" stroke="#000" stroke-width="1"/>
<text transform="translate(51.4,587.15)" font-size="8.9" text-anchor="end">80</text>
<line x1="53" y1="596.19" x2="55.4" y2="596.19" stroke="#000" stroke-width="1"/>
<text transform="translate(51.4,599.38)" font-size="8.9" text-anchor="end">70</text>
<line x1="53" y1="608.42" x2="55.4" y2="608.42" stroke="#000" stroke-width="1"/>
<text transform="translate(51.4,611.61)" font-size="8.9" text-anchor="end">60</text>
<line x1="53" y1="620.65" x2="55.4" y2="620.65" stroke="#000" stroke-width="1"/>
<text transform="translate(51.4,623.84)" font-size="8.9" text-anchor="end">50</text>
<line x1="53" y1="632.88" x2="55.4" y2="632.88" stroke="#000" stroke-width="1"/>
<text transform="translate(51.4,636.07)" font-size="8.9" text-anchor="end">40</text>
<line x1="53" y1="645.11" x2="55.4" y2="645.11" stroke="#000" stroke-width="1"/>
<text transform="translate(51.4,648.3)" font-size="8.9" text-anchor="end">30</text>
<line x1="53" y1="657.34" x2="55.4" y2="657.34" stroke="#000" stroke-width="1"/>
<text transform="translate(51.4,660.53)" font-size="8.9" text-anchor="end">20</text>
<line x1="53" y1="669.57" x2="55.4" y2="669.57" stroke="#000" stroke-width="1"/>
<text transform="translate(51.4,672.76)" font-size="8.9" text-anchor="end">10</text>
<line x1="53" y1="681.8" x2="55.4" y2="681.8" stroke="#000" stroke-width="1"/>
<text transform="translate(51.4,684.99)" font-size="8.9" text-anchor="end">0</text>
<line x1="85.5" y1="681.8" x2="85.5" y2="684.1" stroke="#000" stroke-width="1"/>
<line x1="130" y1="681.8" x2="130" y2="684.1" stroke="#000" stroke-width="1"/>
<text transform="translate(15.7,693.7) rotate(-90) scale(0.8317,1)" font-size="12" text-anchor="start" stroke="#000" stroke-width="0.3">Mean (%) Suppression of T cell</text>
<text transform="translate(33.4,666.2) rotate(-90) scale(0.8250,1)" font-size="12" text-anchor="start" stroke="#000" stroke-width="0.3">proliferation in MLR</text>
<circle cx="73.4" cy="681.9" r="1.95" fill="#1b5489" stroke="#1b5489" stroke-width="1.5"/>
<circle cx="75.6" cy="681.9" r="1.95" fill="#1b5489" stroke="#1b5489" stroke-width="1.5"/>
<circle cx="77.8" cy="681.9" r="1.95" fill="#1b5489" stroke="#1b5489" stroke-width="1.5"/>
<circle cx="80" cy="681.9" r="1.95" fill="#1b5489" stroke="#1b5489" stroke-width="1.5"/>
<circle cx="82.2" cy="681.9" r="1.95" fill="#1b5489" stroke="#1b5489" stroke-width="1.5"/>
<circle cx="84.4" cy="681.9" r="1.95" fill="#1b5489" stroke="#1b5489" stroke-width="1.5"/>
<circle cx="86.6" cy="681.9" r="1.95" fill="#1b5489" stroke="#1b5489" stroke-width="1.5"/>
<circle cx="88.8" cy="681.9" r="1.95" fill="#1b5489" stroke="#1b5489" stroke-width="1.5"/>
<circle cx="91" cy="681.9" r="1.95" fill="#1b5489" stroke="#1b5489" stroke-width="1.5"/>
<circle cx="93.2" cy="681.9" r="1.95" fill="#1b5489" stroke="#1b5489" stroke-width="1.5"/>
<circle cx="95.4" cy="681.9" r="1.95" fill="#1b5489" stroke="#1b5489" stroke-width="1.5"/>
<circle cx="97.6" cy="681.9" r="1.95" fill="#1b5489" stroke="#1b5489" stroke-width="1.5"/>
<circle cx="123.6" cy="610.4" r="2.5" fill="#c8102e"/>
<circle cx="131" cy="612.1" r="2.5" fill="#c8102e"/>
<circle cx="138.4" cy="608.8" r="2.5" fill="#c8102e"/>
<circle cx="121.5" cy="619.6" r="2.5" fill="#c8102e"/>
<circle cx="125" cy="619.6" r="2.5" fill="#c8102e"/>
<circle cx="128.5" cy="619.6" r="2.5" fill="#c8102e"/>
<circle cx="132" cy="619.6" r="2.5" fill="#c8102e"/>
<circle cx="135.5" cy="619.6" r="2.5" fill="#c8102e"/>
<circle cx="139.3" cy="619.6" r="2.5" fill="#c8102e"/>
<circle cx="122.8" cy="621.8" r="2.5" fill="#c8102e"/>
<circle cx="126" cy="622.2" r="2.5" fill="#c8102e"/>
<circle cx="133.8" cy="622.2" r="2.5" fill="#c8102e"/>
<circle cx="137.6" cy="621.8" r="2.5" fill="#c8102e"/>
<circle cx="125.5" cy="624" r="2.5" fill="#c8102e"/>
<circle cx="128.6" cy="624.8" r="2.5" fill="#c8102e"/>
<circle cx="131.6" cy="624.4" r="2.5" fill="#c8102e"/>
<circle cx="134.6" cy="624" r="2.5" fill="#c8102e"/>
<line x1="115.8" y1="618.1" x2="146.3" y2="618.1" stroke="#c8102e" stroke-width="1.3"/>
<path d="M85.5 606.3V603.5H130.2V606.3" stroke="#000" stroke-width="1.25" fill="none"/>
<text transform="translate(108.8,604.8)" font-size="11" text-anchor="middle" font-weight="bold">***</text>
<text transform="translate(94,691.8) rotate(-45)" font-size="9.4" text-anchor="end" stroke="#000" stroke-width="0.15">WT UNT</text>
<text transform="translate(137.3,692.2) rotate(-45)" font-size="9.4" text-anchor="end" stroke="#000" stroke-width="0.15">WT TX</text>
<line x1="234.3" y1="558.8" x2="234.3" y2="682.5" stroke="#000" stroke-width="1.4"/>
<line x1="233.6" y1="681.8" x2="341" y2="681.8" stroke="#000" stroke-width="1.4"/>
<line x1="231.9" y1="559.5" x2="234.3" y2="559.5" stroke="#000" stroke-width="1"/>
<text transform="translate(230.6,562.9)" font-size="9.5" text-anchor="end">20</text>
<line x1="231.9" y1="571.73" x2="234.3" y2="571.73" stroke="#000" stroke-width="1"/>
<text transform="translate(230.6,575.13)" font-size="9.5" text-anchor="end">18</text>
<line x1="231.9" y1="583.96" x2="234.3" y2="583.96" stroke="#000" stroke-width="1"/>
<text transform="translate(230.6,587.36)" font-size="9.5" text-anchor="end">16</text>
<line x1="231.9" y1="596.19" x2="234.3" y2="596.19" stroke="#000" stroke-width="1"/>
<text transform="translate(230.6,599.59)" font-size="9.5" text-anchor="end">14</text>
<line x1="231.9" y1="608.42" x2="234.3" y2="608.42" stroke="#000" stroke-width="1"/>
<text transform="translate(230.6,611.82)" font-size="9.5" text-anchor="end">12</text>
<line x1="231.9" y1="620.65" x2="234.3" y2="620.65" stroke="#000" stroke-width="1"/>
<text transform="translate(230.6,624.05)" font-size="9.5" text-anchor="end">10</text>
<line x1="231.9" y1="632.88" x2="234.3" y2="632.88" stroke="#000" stroke-width="1"/>
<text transform="translate(230.6,636.28)" font-size="9.5" text-anchor="end">8</text>
<line x1="231.9" y1="645.11" x2="234.3" y2="645.11" stroke="#000" stroke-width="1"/>
<text transform="translate(230.6,648.51)" font-size="9.5" text-anchor="end">6</text>
<line x1="231.9" y1="657.34" x2="234.3" y2="657.34" stroke="#000" stroke-width="1"/>
<text transform="translate(230.6,660.74)" font-size="9.5" text-anchor="end">4</text>
<line x1="231.9" y1="669.57" x2="234.3" y2="669.57" stroke="#000" stroke-width="1"/>
<text transform="translate(230.6,672.97)" font-size="9.5" text-anchor="end">2</text>
<line x1="231.9" y1="681.8" x2="234.3" y2="681.8" stroke="#000" stroke-width="1"/>
<text transform="translate(230.6,685.2)" font-size="9.5" text-anchor="end">0</text>
<line x1="265.5" y1="681.8" x2="265.5" y2="684.1" stroke="#000" stroke-width="1"/>
<line x1="313.3" y1="681.8" x2="313.3" y2="684.1" stroke="#000" stroke-width="1"/>
<text transform="translate(195.8,689) rotate(-90) scale(0.8358,1)" font-size="12" text-anchor="start" stroke="#000" stroke-width="0.3">Mean (%) H-2Kb</text>
<text transform="translate(191.6,613.8) rotate(-90)" font-size="7.5" text-anchor="start" stroke="#000" stroke-width="0.2">+</text>
<text transform="translate(195.8,609.5) rotate(-90) scale(0.6957,1)" font-size="12" text-anchor="start" stroke="#000" stroke-width="0.3">TCRβ</text>
<text transform="translate(191.6,586.5) rotate(-90)" font-size="7.5" text-anchor="start" stroke="#000" stroke-width="0.2">+</text>
<text transform="translate(195.8,580.4) rotate(-90) scale(0.9167,1)" font-size="12" text-anchor="start" stroke="#000" stroke-width="0.3">cells</text>
<text transform="translate(212.8,656) rotate(-90) scale(0.7901,1)" font-size="12" text-anchor="start" stroke="#000" stroke-width="0.3">among PBMCs</text>
<circle cx="261.8" cy="609.5" r="2.55" fill="#c8102e"/>
<circle cx="270" cy="606.8" r="2.55" fill="#c8102e"/>
<circle cx="265.5" cy="618" r="2.55" fill="#c8102e"/>
<circle cx="257" cy="622.5" r="2.55" fill="#c8102e"/>
<circle cx="266" cy="625" r="2.55" fill="#c8102e"/>
<circle cx="274.3" cy="624.3" r="2.55" fill="#c8102e"/>
<circle cx="265.5" cy="637.5" r="2.55" fill="#c8102e"/>
<circle cx="261.8" cy="657" r="2.55" fill="#c8102e"/>
<circle cx="270.5" cy="657" r="2.55" fill="#c8102e"/>
<circle cx="265.5" cy="668" r="2.55" fill="#c8102e"/>
<circle cx="261.8" cy="675" r="2.55" fill="#c8102e"/>
<circle cx="270" cy="674.3" r="2.55" fill="#c8102e"/>
<line x1="250" y1="639.3" x2="282" y2="639.3" stroke="#c8102e" stroke-width="1.3"/>
<line x1="257.5" y1="632" x2="274.5" y2="632" stroke="#c8102e" stroke-width="1.3"/>
<line x1="257.5" y1="647" x2="274.5" y2="647" stroke="#c8102e" stroke-width="1.3"/>
<line x1="266" y1="632" x2="266" y2="647" stroke="#c8102e" stroke-width="1.3"/>
<line x1="298.5" y1="680.7" x2="330.2" y2="680.7" stroke="#1b5489" stroke-width="1.2"/>
<circle cx="305.3" cy="682" r="2.4" fill="none" stroke="#1b5489" stroke-width="1.15"/>
<circle cx="310.6" cy="682" r="2.4" fill="none" stroke="#1b5489" stroke-width="1.15"/>
<circle cx="316.2" cy="682" r="2.4" fill="none" stroke="#1b5489" stroke-width="1.15"/>
<circle cx="317.6" cy="679" r="2.4" fill="none" stroke="#1b5489" stroke-width="1.15"/>
<circle cx="322.3" cy="682" r="2.4" fill="none" stroke="#1b5489" stroke-width="1.15"/>
<path d="M265.5 596.1V593.3H313.3V596.1" stroke="#000" stroke-width="1.25" fill="none"/>
<text transform="translate(290,594.6)" font-size="11" text-anchor="middle" font-weight="bold">**</text>
<text transform="translate(271.5,693.1) rotate(-45)" font-size="9.4" text-anchor="end" stroke="#000" stroke-width="0.15">WT TX</text>
<text transform="translate(303,698.3) rotate(-45)" font-size="9.4" text-anchor="end" stroke="#000" stroke-width="0.15">WT TX</text>
<text transform="translate(322.7,696) rotate(-45)" font-size="9.4" text-anchor="end" stroke="#000" stroke-width="0.15">(Gr-1 depleted)</text>
<line x1="398.1" y1="558.8" x2="398.1" y2="682.5" stroke="#000" stroke-width="1.4"/>
<line x1="397.4" y1="681.8" x2="504" y2="681.8" stroke="#000" stroke-width="1.4"/>
<line x1="395.7" y1="559.5" x2="398.1" y2="559.5" stroke="#000" stroke-width="1"/>
<text transform="translate(392.4,562.72)" font-size="9" text-anchor="end">100</text>
<line x1="395.7" y1="571.73" x2="398.1" y2="571.73" stroke="#000" stroke-width="1"/>
<text transform="translate(392.4,574.95)" font-size="9" text-anchor="end">90</text>
<line x1="395.7" y1="583.96" x2="398.1" y2="583.96" stroke="#000" stroke-width="1"/>
<text transform="translate(392.4,587.18)" font-size="9" text-anchor="end">80</text>
<line x1="395.7" y1="596.19" x2="398.1" y2="596.19" stroke="#000" stroke-width="1"/>
<text transform="translate(392.4,599.41)" font-size="9" text-anchor="end">70</text>
<line x1="395.7" y1="608.42" x2="398.1" y2="608.42" stroke="#000" stroke-width="1"/>
<text transform="translate(392.4,611.64)" font-size="9" text-anchor="end">60</text>
<line x1="395.7" y1="620.65" x2="398.1" y2="620.65" stroke="#000" stroke-width="1"/>
<text transform="translate(392.4,623.87)" font-size="9" text-anchor="end">50</text>
<line x1="395.7" y1="632.88" x2="398.1" y2="632.88" stroke="#000" stroke-width="1"/>
<text transform="translate(392.4,636.1)" font-size="9" text-anchor="end">40</text>
<line x1="395.7" y1="645.11" x2="398.1" y2="645.11" stroke="#000" stroke-width="1"/>
<text transform="translate(392.4,648.33)" font-size="9" text-anchor="end">30</text>
<line x1="395.7" y1="657.34" x2="398.1" y2="657.34" stroke="#000" stroke-width="1"/>
<text transform="translate(392.4,660.56)" font-size="9" text-anchor="end">20</text>
<line x1="395.7" y1="669.57" x2="398.1" y2="669.57" stroke="#000" stroke-width="1"/>
<text transform="translate(392.4,672.79)" font-size="9" text-anchor="end">10</text>
<line x1="395.7" y1="681.8" x2="398.1" y2="681.8" stroke="#000" stroke-width="1"/>
<text transform="translate(392.4,685.02)" font-size="9" text-anchor="end">0</text>
<line x1="423.8" y1="681.8" x2="423.8" y2="684.1" stroke="#000" stroke-width="1"/>
<line x1="461" y1="681.8" x2="461" y2="684.1" stroke="#000" stroke-width="1"/>
<line x1="499" y1="681.8" x2="499" y2="684.1" stroke="#000" stroke-width="1"/>
<text transform="translate(367,692.2) rotate(-90) scale(0.8166,1)" font-size="12" text-anchor="start" stroke="#000" stroke-width="0.3">Duration of graft survival (Days)</text>
<circle cx="416.8" cy="560.8" r="2.2" fill="#c8102e"/>
<circle cx="420" cy="560.8" r="2.2" fill="#c8102e"/>
<circle cx="423" cy="562.5" r="2.2" fill="#c8102e"/>
<circle cx="421.3" cy="564.3" r="2.2" fill="#c8102e"/>
<circle cx="426.3" cy="561.3" r="2.2" fill="#c8102e"/>
<circle cx="429.5" cy="560.8" r="2.2" fill="#c8102e"/>
<line x1="411.3" y1="561.5" x2="436.3" y2="561.5" stroke="#c8102e" stroke-width="1.3"/>
<rect x="455.6" y="641.6" width="4.4" height="4.4" stroke="none" stroke-width="0" fill="#1b5489"/>
<rect x="462.8" y="647.3" width="4.4" height="4.4" stroke="none" stroke-width="0" fill="#1b5489"/>
<rect x="467.8" y="649.8" width="4.4" height="4.4" stroke="none" stroke-width="0" fill="#1b5489"/>
<rect x="449.6" y="652.8" width="4.4" height="4.4" stroke="none" stroke-width="0" fill="#1b5489"/>
<rect x="462.3" y="653.3" width="4.4" height="4.4" stroke="none" stroke-width="0" fill="#1b5489"/>
<rect x="455.8" y="655.8" width="4.4" height="4.4" stroke="none" stroke-width="0" fill="#1b5489"/>
<line x1="448.1" y1="653" x2="473.9" y2="653" stroke="#1b5489" stroke-width="1.3"/>
<line x1="454.5" y1="650.5" x2="467.5" y2="650.5" stroke="#1b5489" stroke-width="1.3"/>
<line x1="454.5" y1="655.5" x2="467.5" y2="655.5" stroke="#1b5489" stroke-width="1.3"/>
<line x1="461" y1="650.5" x2="461" y2="655.5" stroke="#1b5489" stroke-width="1.3"/>
<path d="M499 558.15L501.52 562.79L496.48 562.79Z" stroke="none" stroke-width="0" fill="#3cb44a"/>
<path d="M493 599.85L495.52 604.49L490.48 604.49Z" stroke="none" stroke-width="0" fill="#3cb44a"/>
<path d="M505 599.85L507.52 604.49L502.48 604.49Z" stroke="none" stroke-width="0" fill="#3cb44a"/>
<path d="M499 606.15L501.52 610.79L496.48 610.79Z" stroke="none" stroke-width="0" fill="#3cb44a"/>
<path d="M499 617.35L501.52 621.99L496.48 621.99Z" stroke="none" stroke-width="0" fill="#3cb44a"/>
<path d="M493 620.65L495.52 625.29L490.48 625.29Z" stroke="none" stroke-width="0" fill="#3cb44a"/>
<path d="M505 621.65L507.52 626.29L502.48 626.29Z" stroke="none" stroke-width="0" fill="#3cb44a"/>
<path d="M499 625.65L501.52 630.29L496.48 630.29Z" stroke="none" stroke-width="0" fill="#3cb44a"/>
<line x1="486.9" y1="608.5" x2="510.7" y2="608.5" stroke="#3cb44a" stroke-width="1.3"/>
<line x1="491.3" y1="600.8" x2="506.3" y2="600.8" stroke="#3cb44a" stroke-width="1.3"/>
<line x1="491.3" y1="616.3" x2="506.3" y2="616.3" stroke="#3cb44a" stroke-width="1.3"/>
<line x1="498.8" y1="600.8" x2="498.8" y2="616.3" stroke="#3cb44a" stroke-width="1.3"/>
<path d="M423.1 556.6V553.8H460.5V556.6" stroke="#000" stroke-width="1.25" fill="none"/>
<path d="M463.5 556.6V553.8H499.7V556.6" stroke="#000" stroke-width="1.25" fill="none"/>
<path d="M423.1 548.5V545.7H499.2V548.5" stroke="#000" stroke-width="1.25" fill="none"/>
<text transform="translate(442.7,556.1)" font-size="11" text-anchor="middle" font-weight="bold">***</text>
<text transform="translate(482.6,556.1)" font-size="11" text-anchor="middle" font-weight="bold">***</text>
<text transform="translate(460.5,546.8)" font-size="11" text-anchor="middle" font-weight="bold">***</text>
<text transform="translate(420.7,693.8) rotate(-45)" font-size="8.6" text-anchor="end" stroke="#000" stroke-width="0.15">TX-Non</text>
<text transform="translate(431.3,700.3) rotate(-45)" font-size="8.6" text-anchor="end" stroke="#000" stroke-width="0.15">depleted</text>
<text transform="translate(463.3,695.4) rotate(-45)" font-size="8.6" text-anchor="end" stroke="#000" stroke-width="0.15">TX-MDSC</text>
<text transform="translate(469.8,705.8) rotate(-45)" font-size="8.6" text-anchor="end" stroke="#000" stroke-width="0.15">depleted</text>
<text transform="translate(493.5,698.8) rotate(-45)" font-size="8.6" text-anchor="end" stroke="#000" stroke-width="0.15">TX-MDSC</text>
<text transform="translate(516,694.8) rotate(-45) scale(1.0750,1)" font-size="8.6" text-anchor="end" stroke="#000" stroke-width="0.15">depleted+Addback</text>
<line x1="55.8" y1="767.8" x2="55.8" y2="891.2" stroke="#000" stroke-width="1.4"/>
<line x1="55.1" y1="890.5" x2="166.8" y2="890.5" stroke="#000" stroke-width="1.4"/>
<line x1="53.4" y1="768.5" x2="55.8" y2="768.5" stroke="#000" stroke-width="1"/>
<text transform="translate(49.7,771.76)" font-size="9.1" text-anchor="end">6.0</text>
<line x1="53.4" y1="778.67" x2="55.8" y2="778.67" stroke="#000" stroke-width="1"/>
<text transform="translate(49.7,781.92)" font-size="9.1" text-anchor="end">5.5</text>
<line x1="53.4" y1="788.83" x2="55.8" y2="788.83" stroke="#000" stroke-width="1"/>
<text transform="translate(49.7,792.09)" font-size="9.1" text-anchor="end">5.0</text>
<line x1="53.4" y1="799" x2="55.8" y2="799" stroke="#000" stroke-width="1"/>
<text transform="translate(49.7,802.26)" font-size="9.1" text-anchor="end">4.5</text>
<line x1="53.4" y1="809.17" x2="55.8" y2="809.17" stroke="#000" stroke-width="1"/>
<text transform="translate(49.7,812.42)" font-size="9.1" text-anchor="end">4.0</text>
<line x1="53.4" y1="819.33" x2="55.8" y2="819.33" stroke="#000" stroke-width="1"/>
<text transform="translate(49.7,822.59)" font-size="9.1" text-anchor="end">3.5</text>
<line x1="53.4" y1="829.5" x2="55.8" y2="829.5" stroke="#000" stroke-width="1"/>
<text transform="translate(49.7,832.76)" font-size="9.1" text-anchor="end">3.0</text>
<line x1="53.4" y1="839.67" x2="55.8" y2="839.67" stroke="#000" stroke-width="1"/>
<text transform="translate(49.7,842.92)" font-size="9.1" text-anchor="end">2.5</text>
<line x1="53.4" y1="849.83" x2="55.8" y2="849.83" stroke="#000" stroke-width="1"/>
<text transform="translate(49.7,853.09)" font-size="9.1" text-anchor="end">2.0</text>
<line x1="53.4" y1="860" x2="55.8" y2="860" stroke="#000" stroke-width="1"/>
<text transform="translate(49.7,863.26)" font-size="9.1" text-anchor="end">1.5</text>
<line x1="53.4" y1="870.17" x2="55.8" y2="870.17" stroke="#000" stroke-width="1"/>
<text transform="translate(49.7,873.42)" font-size="9.1" text-anchor="end">1.0</text>
<line x1="53.4" y1="880.33" x2="55.8" y2="880.33" stroke="#000" stroke-width="1"/>
<text transform="translate(49.7,883.59)" font-size="9.1" text-anchor="end">0.5</text>
<line x1="53.4" y1="890.5" x2="55.8" y2="890.5" stroke="#000" stroke-width="1"/>
<text transform="translate(49.7,893.76)" font-size="9.1" text-anchor="end">0.0</text>
<line x1="78.5" y1="890.5" x2="78.5" y2="892.8" stroke="#000" stroke-width="1"/>
<line x1="113.5" y1="890.5" x2="113.5" y2="892.8" stroke="#000" stroke-width="1"/>
<line x1="148" y1="890.5" x2="148" y2="892.8" stroke="#000" stroke-width="1"/>
<text transform="translate(15.7,886.9) rotate(-90) scale(0.8075,1)" font-size="12" text-anchor="start" stroke="#000" stroke-width="0.3">Absolute cell number (x10<tspan dy="-4.32" font-size="7.2">6</tspan><tspan dy="4.32">)</tspan></text>
<text transform="translate(30.7,888) rotate(-90) scale(0.7276,1)" font-size="12" text-anchor="start" stroke="#000" stroke-width="0.3">of CD11b</text>
<text transform="translate(26.5,851.3) rotate(-90)" font-size="7.5" text-anchor="start" stroke="#000" stroke-width="0.2">+</text>
<text transform="translate(30.7,847.9) rotate(-90) scale(0.7100,1)" font-size="12" text-anchor="start" stroke="#000" stroke-width="0.3">Gr1</text>
<text transform="translate(26.5,833) rotate(-90)" font-size="7.5" text-anchor="start" stroke="#000" stroke-width="0.2">+</text>
<text transform="translate(30.7,829.3) rotate(-90) scale(0.8292,1)" font-size="12" text-anchor="start" stroke="#000" stroke-width="0.3">cells in spleen</text>
<circle cx="71.7" cy="872.1" r="2.2" fill="#c8102e"/>
<circle cx="85.2" cy="872.7" r="2.2" fill="#c8102e"/>
<circle cx="78.5" cy="877.5" r="2.2" fill="#c8102e"/>
<circle cx="73.9" cy="881.5" r="2.2" fill="#c8102e"/>
<circle cx="82.5" cy="881.5" r="2.2" fill="#c8102e"/>
<circle cx="72.3" cy="885.6" r="2.2" fill="#c8102e"/>
<circle cx="85.2" cy="886.1" r="2.2" fill="#c8102e"/>
<circle cx="78.5" cy="889.1" r="2.2" fill="#c8102e"/>
<line x1="67.2" y1="880.7" x2="90.6" y2="880.7" stroke="#c8102e" stroke-width="1.3"/>
<line x1="73.9" y1="878.9" x2="83.9" y2="878.9" stroke="#c8102e" stroke-width="1.3"/>
<line x1="73.9" y1="883.4" x2="83.9" y2="883.4" stroke="#c8102e" stroke-width="1.3"/>
<line x1="78.9" y1="878.9" x2="78.9" y2="883.4" stroke="#c8102e" stroke-width="1.3"/>
<circle cx="113.5" cy="793.5" r="2.2" fill="#1b5489"/>
<circle cx="113.5" cy="819.9" r="2.2" fill="#1b5489"/>
<circle cx="113.5" cy="834.4" r="2.2" fill="#1b5489"/>
<circle cx="113.5" cy="843.9" r="2.2" fill="#1b5489"/>
<circle cx="113.5" cy="856" r="2.2" fill="#1b5489"/>
<circle cx="116.7" cy="865.4" r="2.2" fill="#1b5489"/>
<circle cx="110.2" cy="870.2" r="2.2" fill="#1b5489"/>
<line x1="101.5" y1="840.6" x2="125.1" y2="840.6" stroke="#1b5489" stroke-width="1.3"/>
<line x1="107.8" y1="830.1" x2="118.8" y2="830.1" stroke="#1b5489" stroke-width="1.3"/>
<line x1="107.8" y1="850.9" x2="118.8" y2="850.9" stroke="#1b5489" stroke-width="1.3"/>
<line x1="113.3" y1="830.1" x2="113.3" y2="850.9" stroke="#1b5489" stroke-width="1.3"/>
<circle cx="141.2" cy="877" r="2.2" fill="#3cb44a"/>
<circle cx="154.4" cy="875.6" r="2.2" fill="#3cb44a"/>
<circle cx="147.9" cy="879.4" r="2.2" fill="#3cb44a"/>
<circle cx="137.7" cy="882.9" r="2.2" fill="#3cb44a"/>
<circle cx="143.6" cy="882.4" r="2.2" fill="#3cb44a"/>
<circle cx="151.7" cy="882.4" r="2.2" fill="#3cb44a"/>
<circle cx="156.5" cy="882.9" r="2.2" fill="#3cb44a"/>
<circle cx="145.2" cy="886.9" r="2.2" fill="#3cb44a"/>
<circle cx="149.8" cy="884.2" r="2.2" fill="#3cb44a"/>
<line x1="136.4" y1="881.5" x2="159.8" y2="881.5" stroke="#3cb44a" stroke-width="1.3"/>
<path d="M78.5 782.6V779.8H147.9V782.6" stroke="#000" stroke-width="1.25" fill="none"/>
<path d="M78.5 791.5V788.7H112.1V791.5" stroke="#000" stroke-width="1.25" fill="none"/>
<path d="M114.8 791.5V788.7H149V791.5" stroke="#000" stroke-width="1.25" fill="none"/>
<text transform="translate(113.5,777)" font-size="9.2" text-anchor="middle">NS</text>
<text transform="translate(95.2,790.5)" font-size="11" text-anchor="middle" font-weight="bold">***</text>
<text transform="translate(132.3,790.5)" font-size="11" text-anchor="middle" font-weight="bold">***</text>
<text transform="translate(83.6,900.2) rotate(-45)" font-size="9.4" text-anchor="end" stroke="#000" stroke-width="0.15">UNT</text>
<text transform="translate(125.5,898.2) rotate(-45)" font-size="9.4" text-anchor="end" stroke="#000" stroke-width="0.15">WT TX-d28</text>
<text transform="translate(159.2,899.3) rotate(-45)" font-size="9.4" text-anchor="end" stroke="#000" stroke-width="0.15">WT TX-d85</text>
<line x1="247.1" y1="766.8" x2="247.1" y2="890.8" stroke="#000" stroke-width="1.4"/>
<line x1="246.4" y1="890.1" x2="339.8" y2="890.1" stroke="#000" stroke-width="1.4"/>
<line x1="244.7" y1="767.5" x2="247.1" y2="767.5" stroke="#000" stroke-width="1"/>
<text transform="translate(241.4,770.9)" font-size="9.5" text-anchor="end">1500</text>
<line x1="244.7" y1="787.93" x2="247.1" y2="787.93" stroke="#000" stroke-width="1"/>
<text transform="translate(241.4,791.33)" font-size="9.5" text-anchor="end">1250</text>
<line x1="244.7" y1="808.37" x2="247.1" y2="808.37" stroke="#000" stroke-width="1"/>
<text transform="translate(241.4,811.77)" font-size="9.5" text-anchor="end">1000</text>
<line x1="244.7" y1="828.8" x2="247.1" y2="828.8" stroke="#000" stroke-width="1"/>
<text transform="translate(241.4,832.2)" font-size="9.5" text-anchor="end">750</text>
<line x1="244.7" y1="849.23" x2="247.1" y2="849.23" stroke="#000" stroke-width="1"/>
<text transform="translate(241.4,852.63)" font-size="9.5" text-anchor="end">500</text>
<line x1="244.7" y1="869.67" x2="247.1" y2="869.67" stroke="#000" stroke-width="1"/>
<text transform="translate(241.4,873.07)" font-size="9.5" text-anchor="end">250</text>
<line x1="244.7" y1="890.1" x2="247.1" y2="890.1" stroke="#000" stroke-width="1"/>
<text transform="translate(241.4,893.5)" font-size="9.5" text-anchor="end">0</text>
<line x1="272" y1="890.1" x2="272" y2="892.4" stroke="#000" stroke-width="1"/>
<line x1="312" y1="890.1" x2="312" y2="892.4" stroke="#000" stroke-width="1"/>
<text transform="translate(195.8,891.9) rotate(-90) scale(0.8043,1)" font-size="12" text-anchor="start" stroke="#000" stroke-width="0.3">Mean (MFI) LOX-1 expression</text>
<text transform="translate(212.5,844.7) rotate(-90) scale(0.7802,1)" font-size="12" text-anchor="start" stroke="#000" stroke-width="0.3">(Spleen)</text>
<circle cx="270.5" cy="840.6" r="2.2" fill="#c8102e"/>
<circle cx="275.9" cy="843.3" r="2.2" fill="#c8102e"/>
<circle cx="267.9" cy="856" r="2.2" fill="#c8102e"/>
<circle cx="278.6" cy="859.5" r="2.2" fill="#c8102e"/>
<circle cx="271.4" cy="861.9" r="2.2" fill="#c8102e"/>
<circle cx="272.7" cy="869.4" r="2.2" fill="#c8102e"/>
<circle cx="272.7" cy="878.9" r="2.2" fill="#c8102e"/>
<line x1="259.8" y1="857.9" x2="286.2" y2="857.9" stroke="#c8102e" stroke-width="1.3"/>
<line x1="266" y1="852.7" x2="280" y2="852.7" stroke="#c8102e" stroke-width="1.3"/>
<line x1="266" y1="863.2" x2="280" y2="863.2" stroke="#c8102e" stroke-width="1.3"/>
<line x1="273" y1="852.7" x2="273" y2="863.2" stroke="#c8102e" stroke-width="1.3"/>
<circle cx="312.3" cy="791.3" r="2.1" fill="#1b5489"/>
<circle cx="301" cy="810.2" r="2.1" fill="#1b5489"/>
<circle cx="323.3" cy="810.2" r="2.1" fill="#1b5489"/>
<circle cx="306.4" cy="812.9" r="2.1" fill="#1b5489"/>
<circle cx="318.5" cy="812.9" r="2.1" fill="#1b5489"/>
<circle cx="309.9" cy="814.2" r="2.1" fill="#1b5489"/>
<circle cx="315" cy="814.8" r="2.1" fill="#1b5489"/>
<circle cx="312.3" cy="822.3" r="2.1" fill="#1b5489"/>
<line x1="299.2" y1="811.5" x2="325.2" y2="811.5" stroke="#1b5489" stroke-width="1.3"/>
<line x1="305.2" y1="808" x2="319.2" y2="808" stroke="#1b5489" stroke-width="1.3"/>
<line x1="305.2" y1="814.8" x2="319.2" y2="814.8" stroke="#1b5489" stroke-width="1.3"/>
<line x1="312.2" y1="808" x2="312.2" y2="814.8" stroke="#1b5489" stroke-width="1.3"/>
<path d="M271.9 809.2V784.6H311.7V787.6" stroke="#000" stroke-width="1.25" fill="none"/>
<text transform="translate(290.7,785.9)" font-size="11" text-anchor="middle" font-weight="bold">***</text>
<text transform="translate(284.5,897.2) rotate(-45)" font-size="9" text-anchor="end" stroke="#000" stroke-width="0.15">LOX-1<tspan dy="-2.7" font-size="6.75">+</tspan><tspan dy="2.7">Gr1</tspan><tspan dy="-2.7" font-size="6.75">+</tspan><tspan dy="2.7">(UNT)</tspan></text>
<text transform="translate(320.4,896.2) rotate(-45)" font-size="9" text-anchor="end" stroke="#000" stroke-width="0.15">LOX-1<tspan dy="-2.7" font-size="6.75">+</tspan><tspan dy="2.7">Gr1</tspan><tspan dy="-2.7" font-size="6.75">+</tspan><tspan dy="2.7">(TLI)</tspan></text>
<line x1="402.2" y1="767" x2="402.2" y2="890.8" stroke="#000" stroke-width="1.4"/>
<line x1="401.5" y1="890.1" x2="492.3" y2="890.1" stroke="#000" stroke-width="1.4"/>
<line x1="399.8" y1="767.7" x2="402.2" y2="767.7" stroke="#000" stroke-width="1"/>
<text transform="translate(397.1,771.14)" font-size="9.6" text-anchor="end">50</text>
<line x1="399.8" y1="779.94" x2="402.2" y2="779.94" stroke="#000" stroke-width="1"/>
<text transform="translate(397.1,783.38)" font-size="9.6" text-anchor="end">45</text>
<line x1="399.8" y1="792.18" x2="402.2" y2="792.18" stroke="#000" stroke-width="1"/>
<text transform="translate(397.1,795.62)" font-size="9.6" text-anchor="end">40</text>
<line x1="399.8" y1="804.42" x2="402.2" y2="804.42" stroke="#000" stroke-width="1"/>
<text transform="translate(397.1,807.86)" font-size="9.6" text-anchor="end">35</text>
<line x1="399.8" y1="816.66" x2="402.2" y2="816.66" stroke="#000" stroke-width="1"/>
<text transform="translate(397.1,820.1)" font-size="9.6" text-anchor="end">30</text>
<line x1="399.8" y1="828.9" x2="402.2" y2="828.9" stroke="#000" stroke-width="1"/>
<text transform="translate(397.1,832.34)" font-size="9.6" text-anchor="end">25</text>
<line x1="399.8" y1="841.14" x2="402.2" y2="841.14" stroke="#000" stroke-width="1"/>
<text transform="translate(397.1,844.58)" font-size="9.6" text-anchor="end">20</text>
<line x1="399.8" y1="853.38" x2="402.2" y2="853.38" stroke="#000" stroke-width="1"/>
<text transform="translate(397.1,856.82)" font-size="9.6" text-anchor="end">15</text>
<line x1="399.8" y1="865.62" x2="402.2" y2="865.62" stroke="#000" stroke-width="1"/>
<text transform="translate(397.1,869.06)" font-size="9.6" text-anchor="end">10</text>
<line x1="399.8" y1="877.86" x2="402.2" y2="877.86" stroke="#000" stroke-width="1"/>
<text transform="translate(397.1,881.3)" font-size="9.6" text-anchor="end">5</text>
<line x1="399.8" y1="890.1" x2="402.2" y2="890.1" stroke="#000" stroke-width="1"/>
<text transform="translate(397.1,893.54)" font-size="9.6" text-anchor="end">0</text>
<line x1="428" y1="890.1" x2="428" y2="892.4" stroke="#000" stroke-width="1"/>
<line x1="467" y1="890.1" x2="467" y2="892.4" stroke="#000" stroke-width="1"/>
<text transform="translate(359.7,889.6) rotate(-90) scale(0.8112,1)" font-size="12" text-anchor="start" stroke="#000" stroke-width="0.3">Mean (%) LOX-1 expression</text>
<text transform="translate(376.5,845.5) rotate(-90) scale(0.7802,1)" font-size="12" text-anchor="start" stroke="#000" stroke-width="0.3">(Spleen)</text>
<circle cx="424.8" cy="808.3" r="2.2" fill="#c8102e"/>
<circle cx="431" cy="811.8" r="2.2" fill="#c8102e"/>
<circle cx="431" cy="823.7" r="2.2" fill="#c8102e"/>
<circle cx="425.4" cy="826.4" r="2.2" fill="#c8102e"/>
<circle cx="428" cy="833.9" r="2.2" fill="#c8102e"/>
<circle cx="428.3" cy="847.9" r="2.2" fill="#c8102e"/>
<line x1="414.9" y1="825.8" x2="441.1" y2="825.8" stroke="#c8102e" stroke-width="1.3"/>
<line x1="421.2" y1="819.6" x2="434.8" y2="819.6" stroke="#c8102e" stroke-width="1.3"/>
<line x1="421.2" y1="831.5" x2="434.8" y2="831.5" stroke="#c8102e" stroke-width="1.3"/>
<line x1="428" y1="819.6" x2="428" y2="831.5" stroke="#c8102e" stroke-width="1.3"/>
<line x1="453.8" y1="797.3" x2="480.2" y2="797.3" stroke="#1b5489" stroke-width="1.3"/>
<line x1="460.5" y1="794.8" x2="473.5" y2="794.8" stroke="#1b5489" stroke-width="1.3"/>
<line x1="460.5" y1="800" x2="473.5" y2="800" stroke="#1b5489" stroke-width="1.3"/>
<line x1="467" y1="794.8" x2="467" y2="800" stroke="#1b5489" stroke-width="1.3"/>
<circle cx="467.4" cy="781.9" r="1.9" fill="#fff" stroke="#1b5489" stroke-width="1.1"/>
<circle cx="457.9" cy="791.3" r="1.9" fill="#fff" stroke="#1b5489" stroke-width="1.1"/>
<circle cx="476.5" cy="793.2" r="1.9" fill="#fff" stroke="#1b5489" stroke-width="1.1"/>
<circle cx="461.2" cy="795.4" r="1.9" fill="#fff" stroke="#1b5489" stroke-width="1.1"/>
<circle cx="467.4" cy="794.8" r="1.9" fill="#fff" stroke="#1b5489" stroke-width="1.1"/>
<circle cx="472.7" cy="795.4" r="1.9" fill="#fff" stroke="#1b5489" stroke-width="1.1"/>
<circle cx="467.4" cy="801.6" r="1.9" fill="#fff" stroke="#1b5489" stroke-width="1.1"/>
<circle cx="470.6" cy="807" r="1.9" fill="#fff" stroke="#1b5489" stroke-width="1.1"/>
<circle cx="464.4" cy="810.7" r="1.9" fill="#fff" stroke="#1b5489" stroke-width="1.1"/>
<path d="M427.5 777.2V774.4H467.4V777.2" stroke="#000" stroke-width="1.25" fill="none"/>
<text transform="translate(447.7,777.3)" font-size="11" text-anchor="middle" font-weight="bold">***</text>
<text transform="translate(438.3,896.6) rotate(-45)" font-size="9.1" text-anchor="end" stroke="#000" stroke-width="0.15">LOX-1<tspan dy="-2.73" font-size="6.82">+</tspan><tspan dy="2.73">Gr1</tspan><tspan dy="-2.73" font-size="6.82">+</tspan><tspan dy="2.73">(UNT)</tspan></text>
<text transform="translate(474.5,896.6) rotate(-45)" font-size="9.1" text-anchor="end" stroke="#000" stroke-width="0.15">LOX-1<tspan dy="-2.73" font-size="6.82">+</tspan><tspan dy="2.73">Gr1</tspan><tspan dy="-2.73" font-size="6.82">+</tspan><tspan dy="2.73">(TLI)</tspan></text>
</svg>
</body></html>
